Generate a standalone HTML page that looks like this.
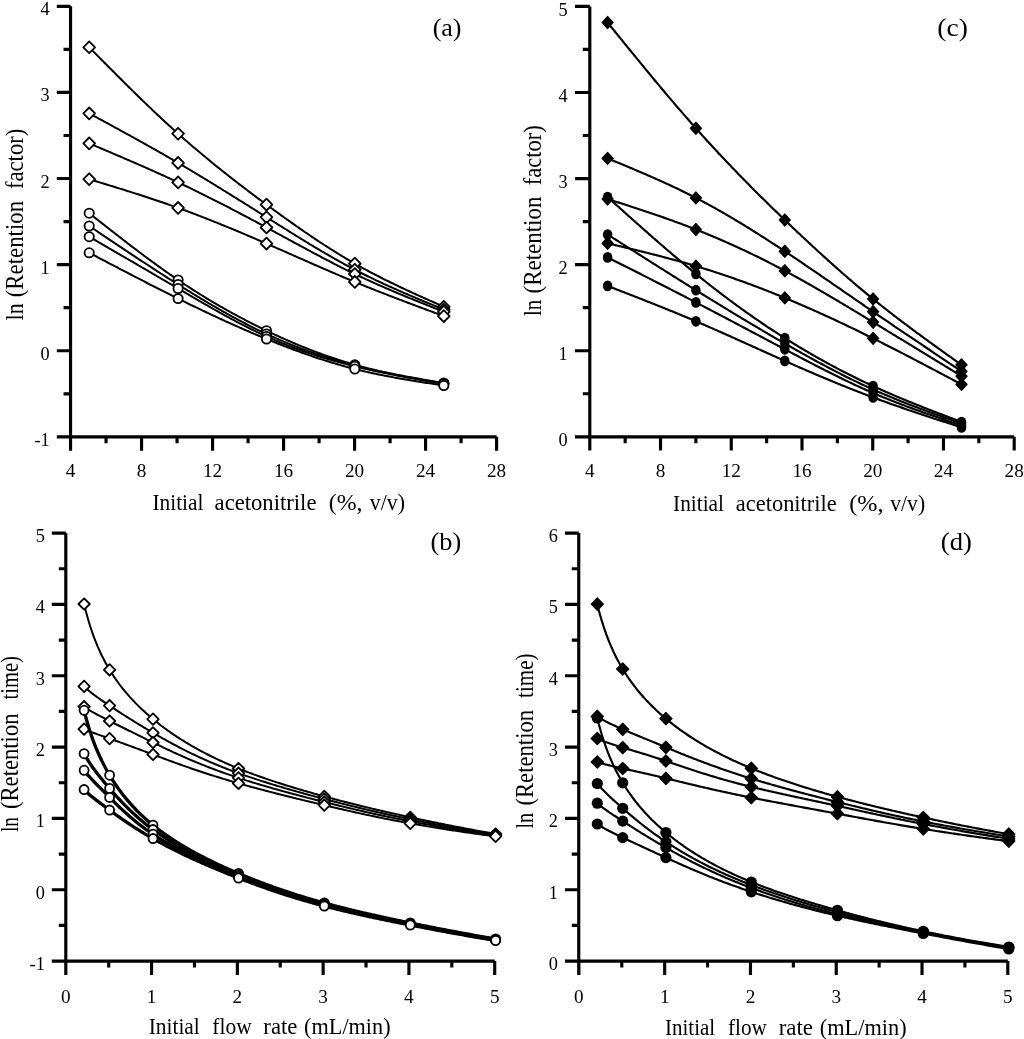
<!DOCTYPE html>
<html><head><meta charset="utf-8"><style>
html,body{margin:0;padding:0;background:#fff;}
svg{display:block;will-change:transform;}
text{font-family:"Liberation Serif", serif;fill:#000;}
</style></head><body>
<svg width="1024" height="1039" viewBox="0 0 1024 1039">
<rect width="1024" height="1039" fill="#fff"/>
<path d="M70.55,6.3V450.65M56.8,436.85H496.6M56.8,6.3H70.55M63.55,49.35H70.55M56.8,92.41H70.55M63.55,135.47H70.55M56.8,178.52H70.55M63.55,221.58H70.55M56.8,264.63H70.55M63.55,307.69H70.55M56.8,350.74H70.55M63.55,393.8H70.55M56.8,436.85H70.55M70.55,436.85V450.65M106.05,436.85V443.35M141.56,436.85V450.65M177.06,436.85V443.35M212.57,436.85V450.65M248.07,436.85V443.35M283.57,436.85V450.65M319.08,436.85V443.35M354.58,436.85V450.65M390.09,436.85V443.35M425.59,436.85V450.65M461.09,436.85V443.35M496.6,436.85V450.65" fill="none" stroke="#000" stroke-width="3.15"/>
<text x="49.65" y="15.3" font-size="18.3" text-anchor="end">4</text>
<text x="49.65" y="101.41" font-size="18.3" text-anchor="end">3</text>
<text x="49.65" y="187.52" font-size="18.3" text-anchor="end">2</text>
<text x="49.65" y="273.63" font-size="18.3" text-anchor="end">1</text>
<text x="49.65" y="359.74" font-size="18.3" text-anchor="end">0</text>
<text x="49.65" y="445.85" font-size="18.3" text-anchor="end">-1</text>
<text x="70.55" y="477.05" font-size="19.2" text-anchor="middle">4</text>
<text x="141.56" y="477.05" font-size="19.2" text-anchor="middle">8</text>
<text x="212.57" y="477.05" font-size="19.2" text-anchor="middle">12</text>
<text x="283.57" y="477.05" font-size="19.2" text-anchor="middle">16</text>
<text x="354.58" y="477.05" font-size="19.2" text-anchor="middle">20</text>
<text x="425.59" y="477.05" font-size="19.2" text-anchor="middle">24</text>
<text x="496.6" y="477.05" font-size="19.2" text-anchor="middle">28</text>
<path d="M89.2,47.3 L90.7,48.82 L92.2,50.33 L93.7,51.85 L95.2,53.37 L96.7,54.88 L98.2,56.4 L99.7,57.91 L101.2,59.43 L102.7,60.94 L104.2,62.45 L105.7,63.96 L107.2,65.47 L108.7,66.98 L110.2,68.49 L111.7,69.99 L113.2,71.5 L114.7,73 L116.2,74.5 L117.7,76 L119.2,77.5 L120.7,79 L122.2,80.49 L123.7,81.98 L125.2,83.47 L126.7,84.96 L128.2,86.44 L129.7,87.92 L131.2,89.4 L132.7,90.88 L134.2,92.35 L135.7,93.82 L137.2,95.29 L138.7,96.75 L140.2,98.21 L141.7,99.67 L143.2,101.12 L144.7,102.57 L146.2,104.02 L147.7,105.46 L149.2,106.9 L150.7,108.33 L152.2,109.76 L153.7,111.19 L155.2,112.61 L156.7,114.02 L158.2,115.44 L159.7,116.85 L161.2,118.25 L162.7,119.65 L164.2,121.04 L165.7,122.43 L167.2,123.81 L168.7,125.19 L170.2,126.56 L171.7,127.93 L173.2,129.29 L174.7,130.65 L176.2,132 L177.7,133.34 L179.2,134.68 L180.7,136.01 L182.2,137.34 L183.7,138.66 L185.2,139.98 L186.7,141.29 L188.2,142.59 L189.7,143.89 L191.2,145.18 L192.7,146.47 L194.2,147.75 L195.7,149.03 L197.2,150.3 L198.7,151.57 L200.2,152.83 L201.7,154.09 L203.2,155.34 L204.7,156.59 L206.2,157.83 L207.7,159.07 L209.2,160.3 L210.7,161.53 L212.2,162.75 L213.7,163.97 L215.2,165.19 L216.7,166.4 L218.2,167.6 L219.7,168.81 L221.2,170 L222.7,171.2 L224.2,172.39 L225.7,173.58 L227.2,174.76 L228.7,175.94 L230.2,177.11 L231.7,178.28 L233.2,179.45 L234.7,180.62 L236.2,181.78 L237.7,182.93 L239.2,184.09 L240.7,185.24 L242.2,186.39 L243.7,187.53 L245.2,188.67 L246.7,189.81 L248.2,190.95 L249.7,192.08 L251.2,193.21 L252.7,194.34 L254.2,195.47 L255.7,196.59 L257.2,197.71 L258.7,198.83 L260.2,199.94 L261.7,201.05 L263.2,202.16 L264.7,203.27 L266.2,204.38 L267.7,205.48 L269.2,206.59 L270.7,207.69 L272.2,208.78 L273.7,209.88 L275.2,210.97 L276.7,212.06 L278.2,213.15 L279.7,214.24 L281.2,215.32 L282.7,216.4 L284.2,217.48 L285.7,218.55 L287.2,219.63 L288.7,220.69 L290.2,221.76 L291.7,222.82 L293.2,223.88 L294.7,224.94 L296.2,225.99 L297.7,227.04 L299.2,228.08 L300.7,229.12 L302.2,230.16 L303.7,231.2 L305.2,232.23 L306.7,233.25 L308.2,234.27 L309.7,235.29 L311.2,236.3 L312.7,237.31 L314.2,238.32 L315.7,239.32 L317.2,240.32 L318.7,241.31 L320.2,242.3 L321.7,243.28 L323.2,244.26 L324.7,245.23 L326.2,246.2 L327.7,247.16 L329.2,248.12 L330.7,249.07 L332.2,250.02 L333.7,250.96 L335.2,251.89 L336.7,252.82 L338.2,253.75 L339.7,254.67 L341.2,255.58 L342.7,256.49 L344.2,257.4 L345.7,258.29 L347.2,259.18 L348.7,260.07 L350.2,260.95 L351.7,261.82 L353.2,262.68 L354.7,263.54 L356.2,264.4 L357.7,265.24 L359.2,266.08 L360.7,266.92 L362.2,267.75 L363.7,268.57 L365.2,269.38 L366.7,270.2 L368.2,271 L369.7,271.8 L371.2,272.59 L372.7,273.38 L374.2,274.17 L375.7,274.95 L377.2,275.72 L378.7,276.49 L380.2,277.25 L381.7,278.01 L383.2,278.77 L384.7,279.52 L386.2,280.27 L387.7,281.01 L389.2,281.75 L390.7,282.48 L392.2,283.21 L393.7,283.94 L395.2,284.66 L396.7,285.38 L398.2,286.1 L399.7,286.81 L401.2,287.52 L402.7,288.23 L404.2,288.93 L405.7,289.63 L407.2,290.33 L408.7,291.02 L410.2,291.72 L411.7,292.41 L413.2,293.1 L414.7,293.78 L416.2,294.47 L417.7,295.15 L419.2,295.83 L420.7,296.5 L422.2,297.18 L423.7,297.86 L425.2,298.53 L426.7,299.2 L428.2,299.87 L429.7,300.54 L431.2,301.21 L432.7,301.88 L434.2,302.54 L435.7,303.21 L437.2,303.88 L438.7,304.54 L440.2,305.21 L441.7,305.87 L443.2,306.53 L443.8,306.8" fill="none" stroke="#000" stroke-width="2.0" stroke-linejoin="round"/>
<path d="M89.2,41.4L95.05,47.3L89.2,53.2L83.35,47.3Z" fill="#fff" stroke="#000" stroke-width="1.8" stroke-linejoin="round"/>
<path d="M178.1,127.8L183.95,133.7L178.1,139.6L172.25,133.7Z" fill="#fff" stroke="#000" stroke-width="1.8" stroke-linejoin="round"/>
<path d="M266.5,198.7L272.35,204.6L266.5,210.5L260.65,204.6Z" fill="#fff" stroke="#000" stroke-width="1.8" stroke-linejoin="round"/>
<path d="M354.8,257.7L360.65,263.6L354.8,269.5L348.95,263.6Z" fill="#fff" stroke="#000" stroke-width="1.8" stroke-linejoin="round"/>
<path d="M443.8,300.9L449.65,306.8L443.8,312.7L437.95,306.8Z" fill="#fff" stroke="#000" stroke-width="1.8" stroke-linejoin="round"/>
<path d="M89.2,113.4 L90.7,114.21 L92.2,115.03 L93.7,115.84 L95.2,116.66 L96.7,117.47 L98.2,118.28 L99.7,119.1 L101.2,119.91 L102.7,120.73 L104.2,121.54 L105.7,122.36 L107.2,123.18 L108.7,123.99 L110.2,124.81 L111.7,125.63 L113.2,126.45 L114.7,127.27 L116.2,128.09 L117.7,128.91 L119.2,129.73 L120.7,130.55 L122.2,131.37 L123.7,132.19 L125.2,133.02 L126.7,133.84 L128.2,134.67 L129.7,135.49 L131.2,136.32 L132.7,137.15 L134.2,137.98 L135.7,138.81 L137.2,139.64 L138.7,140.48 L140.2,141.31 L141.7,142.15 L143.2,142.98 L144.7,143.82 L146.2,144.66 L147.7,145.5 L149.2,146.34 L150.7,147.19 L152.2,148.03 L153.7,148.88 L155.2,149.73 L156.7,150.58 L158.2,151.43 L159.7,152.28 L161.2,153.14 L162.7,153.99 L164.2,154.85 L165.7,155.71 L167.2,156.58 L168.7,157.44 L170.2,158.31 L171.7,159.17 L173.2,160.04 L174.7,160.92 L176.2,161.79 L177.7,162.67 L179.2,163.54 L180.7,164.42 L182.2,165.31 L183.7,166.19 L185.2,167.08 L186.7,167.97 L188.2,168.86 L189.7,169.75 L191.2,170.64 L192.7,171.54 L194.2,172.44 L195.7,173.34 L197.2,174.24 L198.7,175.14 L200.2,176.05 L201.7,176.96 L203.2,177.86 L204.7,178.77 L206.2,179.69 L207.7,180.6 L209.2,181.51 L210.7,182.43 L212.2,183.35 L213.7,184.26 L215.2,185.18 L216.7,186.11 L218.2,187.03 L219.7,187.95 L221.2,188.88 L222.7,189.8 L224.2,190.73 L225.7,191.66 L227.2,192.59 L228.7,193.52 L230.2,194.45 L231.7,195.38 L233.2,196.32 L234.7,197.25 L236.2,198.18 L237.7,199.12 L239.2,200.06 L240.7,200.99 L242.2,201.93 L243.7,202.87 L245.2,203.81 L246.7,204.75 L248.2,205.69 L249.7,206.63 L251.2,207.57 L252.7,208.52 L254.2,209.46 L255.7,210.4 L257.2,211.35 L258.7,212.29 L260.2,213.23 L261.7,214.18 L263.2,215.12 L264.7,216.07 L266.2,217.01 L267.7,217.96 L269.2,218.9 L270.7,219.85 L272.2,220.79 L273.7,221.73 L275.2,222.68 L276.7,223.62 L278.2,224.57 L279.7,225.51 L281.2,226.45 L282.7,227.39 L284.2,228.33 L285.7,229.27 L287.2,230.21 L288.7,231.14 L290.2,232.08 L291.7,233.01 L293.2,233.95 L294.7,234.88 L296.2,235.81 L297.7,236.73 L299.2,237.66 L300.7,238.58 L302.2,239.5 L303.7,240.42 L305.2,241.34 L306.7,242.25 L308.2,243.16 L309.7,244.07 L311.2,244.98 L312.7,245.88 L314.2,246.78 L315.7,247.68 L317.2,248.57 L318.7,249.47 L320.2,250.35 L321.7,251.24 L323.2,252.12 L324.7,253 L326.2,253.87 L327.7,254.74 L329.2,255.61 L330.7,256.47 L332.2,257.33 L333.7,258.18 L335.2,259.03 L336.7,259.88 L338.2,260.72 L339.7,261.56 L341.2,262.39 L342.7,263.21 L344.2,264.04 L345.7,264.85 L347.2,265.67 L348.7,266.47 L350.2,267.27 L351.7,268.07 L353.2,268.86 L354.7,269.65 L356.2,270.43 L357.7,271.2 L359.2,271.97 L360.7,272.73 L362.2,273.49 L363.7,274.25 L365.2,274.99 L366.7,275.74 L368.2,276.48 L369.7,277.21 L371.2,277.94 L372.7,278.66 L374.2,279.38 L375.7,280.1 L377.2,280.81 L378.7,281.51 L380.2,282.22 L381.7,282.91 L383.2,283.61 L384.7,284.3 L386.2,284.99 L387.7,285.67 L389.2,286.35 L390.7,287.03 L392.2,287.7 L393.7,288.37 L395.2,289.03 L396.7,289.7 L398.2,290.36 L399.7,291.02 L401.2,291.67 L402.7,292.32 L404.2,292.97 L405.7,293.62 L407.2,294.26 L408.7,294.91 L410.2,295.55 L411.7,296.18 L413.2,296.82 L414.7,297.45 L416.2,298.09 L417.7,298.72 L419.2,299.34 L420.7,299.97 L422.2,300.6 L423.7,301.22 L425.2,301.84 L426.7,302.47 L428.2,303.09 L429.7,303.71 L431.2,304.32 L432.7,304.94 L434.2,305.56 L435.7,306.18 L437.2,306.79 L438.7,307.41 L440.2,308.02 L441.7,308.64 L443.2,309.25 L443.8,309.5" fill="none" stroke="#000" stroke-width="2.0" stroke-linejoin="round"/>
<path d="M89.2,107.5L95.05,113.4L89.2,119.3L83.35,113.4Z" fill="#fff" stroke="#000" stroke-width="1.8" stroke-linejoin="round"/>
<path d="M178.1,157L183.95,162.9L178.1,168.8L172.25,162.9Z" fill="#fff" stroke="#000" stroke-width="1.8" stroke-linejoin="round"/>
<path d="M266.5,211.3L272.35,217.2L266.5,223.1L260.65,217.2Z" fill="#fff" stroke="#000" stroke-width="1.8" stroke-linejoin="round"/>
<path d="M354.8,263.8L360.65,269.7L354.8,275.6L348.95,269.7Z" fill="#fff" stroke="#000" stroke-width="1.8" stroke-linejoin="round"/>
<path d="M443.8,303.6L449.65,309.5L443.8,315.4L437.95,309.5Z" fill="#fff" stroke="#000" stroke-width="1.8" stroke-linejoin="round"/>
<path d="M89.2,143.4 L90.7,144.03 L92.2,144.67 L93.7,145.3 L95.2,145.94 L96.7,146.57 L98.2,147.2 L99.7,147.84 L101.2,148.47 L102.7,149.11 L104.2,149.74 L105.7,150.38 L107.2,151.02 L108.7,151.65 L110.2,152.29 L111.7,152.93 L113.2,153.57 L114.7,154.21 L116.2,154.85 L117.7,155.49 L119.2,156.13 L120.7,156.77 L122.2,157.42 L123.7,158.06 L125.2,158.71 L126.7,159.35 L128.2,160 L129.7,160.65 L131.2,161.3 L132.7,161.95 L134.2,162.6 L135.7,163.25 L137.2,163.91 L138.7,164.56 L140.2,165.22 L141.7,165.88 L143.2,166.54 L144.7,167.2 L146.2,167.86 L147.7,168.53 L149.2,169.19 L150.7,169.86 L152.2,170.53 L153.7,171.2 L155.2,171.87 L156.7,172.55 L158.2,173.23 L159.7,173.9 L161.2,174.58 L162.7,175.27 L164.2,175.95 L165.7,176.64 L167.2,177.33 L168.7,178.02 L170.2,178.71 L171.7,179.41 L173.2,180.1 L174.7,180.8 L176.2,181.51 L177.7,182.21 L179.2,182.92 L180.7,183.63 L182.2,184.34 L183.7,185.06 L185.2,185.77 L186.7,186.49 L188.2,187.21 L189.7,187.94 L191.2,188.66 L192.7,189.39 L194.2,190.12 L195.7,190.85 L197.2,191.59 L198.7,192.33 L200.2,193.07 L201.7,193.81 L203.2,194.55 L204.7,195.3 L206.2,196.04 L207.7,196.79 L209.2,197.54 L210.7,198.3 L212.2,199.05 L213.7,199.81 L215.2,200.57 L216.7,201.33 L218.2,202.09 L219.7,202.86 L221.2,203.63 L222.7,204.39 L224.2,205.16 L225.7,205.94 L227.2,206.71 L228.7,207.48 L230.2,208.26 L231.7,209.04 L233.2,209.82 L234.7,210.6 L236.2,211.38 L237.7,212.17 L239.2,212.96 L240.7,213.74 L242.2,214.53 L243.7,215.32 L245.2,216.11 L246.7,216.91 L248.2,217.7 L249.7,218.5 L251.2,219.3 L252.7,220.1 L254.2,220.9 L255.7,221.7 L257.2,222.5 L258.7,223.3 L260.2,224.11 L261.7,224.91 L263.2,225.72 L264.7,226.53 L266.2,227.34 L267.7,228.15 L269.2,228.96 L270.7,229.77 L272.2,230.58 L273.7,231.4 L275.2,232.21 L276.7,233.03 L278.2,233.84 L279.7,234.66 L281.2,235.47 L282.7,236.29 L284.2,237.11 L285.7,237.92 L287.2,238.74 L288.7,239.56 L290.2,240.37 L291.7,241.19 L293.2,242 L294.7,242.82 L296.2,243.63 L297.7,244.44 L299.2,245.25 L300.7,246.07 L302.2,246.88 L303.7,247.69 L305.2,248.49 L306.7,249.3 L308.2,250.11 L309.7,250.91 L311.2,251.71 L312.7,252.52 L314.2,253.31 L315.7,254.11 L317.2,254.91 L318.7,255.7 L320.2,256.49 L321.7,257.28 L323.2,258.07 L324.7,258.86 L326.2,259.64 L327.7,260.42 L329.2,261.2 L330.7,261.98 L332.2,262.75 L333.7,263.52 L335.2,264.28 L336.7,265.05 L338.2,265.81 L339.7,266.57 L341.2,267.32 L342.7,268.07 L344.2,268.82 L345.7,269.57 L347.2,270.31 L348.7,271.04 L350.2,271.78 L351.7,272.51 L353.2,273.23 L354.7,273.95 L356.2,274.67 L357.7,275.38 L359.2,276.09 L360.7,276.8 L362.2,277.5 L363.7,278.2 L365.2,278.89 L366.7,279.58 L368.2,280.27 L369.7,280.95 L371.2,281.63 L372.7,282.3 L374.2,282.98 L375.7,283.65 L377.2,284.31 L378.7,284.98 L380.2,285.64 L381.7,286.29 L383.2,286.95 L384.7,287.6 L386.2,288.25 L387.7,288.9 L389.2,289.54 L390.7,290.18 L392.2,290.82 L393.7,291.46 L395.2,292.09 L396.7,292.72 L398.2,293.35 L399.7,293.98 L401.2,294.6 L402.7,295.23 L404.2,295.85 L405.7,296.47 L407.2,297.09 L408.7,297.7 L410.2,298.32 L411.7,298.93 L413.2,299.54 L414.7,300.15 L416.2,300.76 L417.7,301.37 L419.2,301.97 L420.7,302.58 L422.2,303.18 L423.7,303.78 L425.2,304.39 L426.7,304.99 L428.2,305.59 L429.7,306.19 L431.2,306.79 L432.7,307.38 L434.2,307.98 L435.7,308.58 L437.2,309.18 L438.7,309.77 L440.2,310.37 L441.7,310.97 L443.2,311.56 L443.8,311.8" fill="none" stroke="#000" stroke-width="2.0" stroke-linejoin="round"/>
<path d="M89.2,137.5L95.05,143.4L89.2,149.3L83.35,143.4Z" fill="#fff" stroke="#000" stroke-width="1.8" stroke-linejoin="round"/>
<path d="M178.1,176.5L183.95,182.4L178.1,188.3L172.25,182.4Z" fill="#fff" stroke="#000" stroke-width="1.8" stroke-linejoin="round"/>
<path d="M266.5,221.6L272.35,227.5L266.5,233.4L260.65,227.5Z" fill="#fff" stroke="#000" stroke-width="1.8" stroke-linejoin="round"/>
<path d="M354.8,268.1L360.65,274L354.8,279.9L348.95,274Z" fill="#fff" stroke="#000" stroke-width="1.8" stroke-linejoin="round"/>
<path d="M443.8,305.9L449.65,311.8L443.8,317.7L437.95,311.8Z" fill="#fff" stroke="#000" stroke-width="1.8" stroke-linejoin="round"/>
<path d="M89.2,179.2 L90.7,179.66 L92.2,180.11 L93.7,180.57 L95.2,181.03 L96.7,181.48 L98.2,181.94 L99.7,182.4 L101.2,182.85 L102.7,183.31 L104.2,183.77 L105.7,184.23 L107.2,184.69 L108.7,185.15 L110.2,185.61 L111.7,186.07 L113.2,186.53 L114.7,186.99 L116.2,187.46 L117.7,187.92 L119.2,188.39 L120.7,188.85 L122.2,189.32 L123.7,189.79 L125.2,190.26 L126.7,190.73 L128.2,191.2 L129.7,191.67 L131.2,192.15 L132.7,192.62 L134.2,193.1 L135.7,193.58 L137.2,194.06 L138.7,194.54 L140.2,195.02 L141.7,195.51 L143.2,195.99 L144.7,196.48 L146.2,196.97 L147.7,197.46 L149.2,197.96 L150.7,198.45 L152.2,198.95 L153.7,199.45 L155.2,199.95 L156.7,200.46 L158.2,200.96 L159.7,201.47 L161.2,201.98 L162.7,202.49 L164.2,203.01 L165.7,203.52 L167.2,204.04 L168.7,204.57 L170.2,205.09 L171.7,205.62 L173.2,206.15 L174.7,206.68 L176.2,207.22 L177.7,207.76 L179.2,208.3 L180.7,208.84 L182.2,209.39 L183.7,209.94 L185.2,210.49 L186.7,211.04 L188.2,211.6 L189.7,212.16 L191.2,212.72 L192.7,213.29 L194.2,213.86 L195.7,214.43 L197.2,215 L198.7,215.58 L200.2,216.15 L201.7,216.73 L203.2,217.32 L204.7,217.9 L206.2,218.49 L207.7,219.08 L209.2,219.67 L210.7,220.26 L212.2,220.86 L213.7,221.46 L215.2,222.06 L216.7,222.66 L218.2,223.26 L219.7,223.87 L221.2,224.48 L222.7,225.09 L224.2,225.7 L225.7,226.31 L227.2,226.93 L228.7,227.55 L230.2,228.16 L231.7,228.79 L233.2,229.41 L234.7,230.03 L236.2,230.66 L237.7,231.29 L239.2,231.91 L240.7,232.54 L242.2,233.18 L243.7,233.81 L245.2,234.45 L246.7,235.08 L248.2,235.72 L249.7,236.36 L251.2,237 L252.7,237.64 L254.2,238.28 L255.7,238.93 L257.2,239.57 L258.7,240.22 L260.2,240.87 L261.7,241.52 L263.2,242.17 L264.7,242.82 L266.2,243.47 L267.7,244.12 L269.2,244.78 L270.7,245.43 L272.2,246.09 L273.7,246.74 L275.2,247.4 L276.7,248.06 L278.2,248.72 L279.7,249.37 L281.2,250.03 L282.7,250.69 L284.2,251.35 L285.7,252.01 L287.2,252.67 L288.7,253.34 L290.2,254 L291.7,254.66 L293.2,255.32 L294.7,255.98 L296.2,256.64 L297.7,257.3 L299.2,257.96 L300.7,258.63 L302.2,259.29 L303.7,259.95 L305.2,260.61 L306.7,261.27 L308.2,261.93 L309.7,262.58 L311.2,263.24 L312.7,263.9 L314.2,264.56 L315.7,265.21 L317.2,265.87 L318.7,266.52 L320.2,267.18 L321.7,267.83 L323.2,268.48 L324.7,269.13 L326.2,269.78 L327.7,270.43 L329.2,271.08 L330.7,271.73 L332.2,272.37 L333.7,273.02 L335.2,273.66 L336.7,274.3 L338.2,274.94 L339.7,275.58 L341.2,276.21 L342.7,276.85 L344.2,277.48 L345.7,278.11 L347.2,278.74 L348.7,279.37 L350.2,279.99 L351.7,280.62 L353.2,281.24 L354.7,281.86 L356.2,282.48 L357.7,283.09 L359.2,283.7 L360.7,284.32 L362.2,284.93 L363.7,285.53 L365.2,286.14 L366.7,286.74 L368.2,287.34 L369.7,287.94 L371.2,288.54 L372.7,289.14 L374.2,289.73 L375.7,290.33 L377.2,290.92 L378.7,291.51 L380.2,292.1 L381.7,292.68 L383.2,293.27 L384.7,293.85 L386.2,294.43 L387.7,295.02 L389.2,295.6 L390.7,296.17 L392.2,296.75 L393.7,297.33 L395.2,297.9 L396.7,298.48 L398.2,299.05 L399.7,299.62 L401.2,300.19 L402.7,300.76 L404.2,301.33 L405.7,301.89 L407.2,302.46 L408.7,303.03 L410.2,303.59 L411.7,304.16 L413.2,304.72 L414.7,305.28 L416.2,305.84 L417.7,306.4 L419.2,306.96 L420.7,307.52 L422.2,308.08 L423.7,308.64 L425.2,309.2 L426.7,309.76 L428.2,310.32 L429.7,310.87 L431.2,311.43 L432.7,311.99 L434.2,312.54 L435.7,313.1 L437.2,313.66 L438.7,314.21 L440.2,314.77 L441.7,315.32 L443.2,315.88 L443.8,316.1" fill="none" stroke="#000" stroke-width="2.0" stroke-linejoin="round"/>
<path d="M89.2,173.3L95.05,179.2L89.2,185.1L83.35,179.2Z" fill="#fff" stroke="#000" stroke-width="1.8" stroke-linejoin="round"/>
<path d="M178.1,202L183.95,207.9L178.1,213.8L172.25,207.9Z" fill="#fff" stroke="#000" stroke-width="1.8" stroke-linejoin="round"/>
<path d="M266.5,237.7L272.35,243.6L266.5,249.5L260.65,243.6Z" fill="#fff" stroke="#000" stroke-width="1.8" stroke-linejoin="round"/>
<path d="M354.8,276L360.65,281.9L354.8,287.8L348.95,281.9Z" fill="#fff" stroke="#000" stroke-width="1.8" stroke-linejoin="round"/>
<path d="M443.8,310.2L449.65,316.1L443.8,322L437.95,316.1Z" fill="#fff" stroke="#000" stroke-width="1.8" stroke-linejoin="round"/>
<path d="M89.2,213.2 L90.7,214.38 L92.2,215.57 L93.7,216.75 L95.2,217.93 L96.7,219.12 L98.2,220.3 L99.7,221.48 L101.2,222.66 L102.7,223.84 L104.2,225.02 L105.7,226.2 L107.2,227.37 L108.7,228.55 L110.2,229.72 L111.7,230.9 L113.2,232.07 L114.7,233.24 L116.2,234.41 L117.7,235.58 L119.2,236.74 L120.7,237.9 L122.2,239.07 L123.7,240.23 L125.2,241.38 L126.7,242.54 L128.2,243.69 L129.7,244.84 L131.2,245.99 L132.7,247.13 L134.2,248.27 L135.7,249.41 L137.2,250.55 L138.7,251.68 L140.2,252.81 L141.7,253.93 L143.2,255.06 L144.7,256.18 L146.2,257.29 L147.7,258.4 L149.2,259.51 L150.7,260.62 L152.2,261.72 L153.7,262.81 L155.2,263.91 L156.7,264.99 L158.2,266.08 L159.7,267.16 L161.2,268.23 L162.7,269.3 L164.2,270.37 L165.7,271.43 L167.2,272.48 L168.7,273.54 L170.2,274.58 L171.7,275.62 L173.2,276.66 L174.7,277.69 L176.2,278.71 L177.7,279.73 L179.2,280.74 L180.7,281.75 L182.2,282.75 L183.7,283.75 L185.2,284.74 L186.7,285.72 L188.2,286.7 L189.7,287.68 L191.2,288.64 L192.7,289.61 L194.2,290.56 L195.7,291.52 L197.2,292.46 L198.7,293.4 L200.2,294.34 L201.7,295.27 L203.2,296.19 L204.7,297.11 L206.2,298.03 L207.7,298.94 L209.2,299.84 L210.7,300.74 L212.2,301.63 L213.7,302.52 L215.2,303.4 L216.7,304.28 L218.2,305.15 L219.7,306.02 L221.2,306.89 L222.7,307.74 L224.2,308.6 L225.7,309.44 L227.2,310.29 L228.7,311.13 L230.2,311.96 L231.7,312.79 L233.2,313.61 L234.7,314.43 L236.2,315.24 L237.7,316.05 L239.2,316.86 L240.7,317.66 L242.2,318.45 L243.7,319.24 L245.2,320.03 L246.7,320.81 L248.2,321.59 L249.7,322.36 L251.2,323.13 L252.7,323.89 L254.2,324.65 L255.7,325.4 L257.2,326.15 L258.7,326.9 L260.2,327.64 L261.7,328.37 L263.2,329.1 L264.7,329.83 L266.2,330.56 L267.7,331.27 L269.2,331.99 L270.7,332.7 L272.2,333.41 L273.7,334.11 L275.2,334.81 L276.7,335.5 L278.2,336.19 L279.7,336.87 L281.2,337.55 L282.7,338.23 L284.2,338.9 L285.7,339.56 L287.2,340.22 L288.7,340.88 L290.2,341.53 L291.7,342.18 L293.2,342.82 L294.7,343.46 L296.2,344.09 L297.7,344.72 L299.2,345.34 L300.7,345.96 L302.2,346.58 L303.7,347.19 L305.2,347.79 L306.7,348.39 L308.2,348.98 L309.7,349.57 L311.2,350.16 L312.7,350.73 L314.2,351.31 L315.7,351.88 L317.2,352.44 L318.7,353 L320.2,353.55 L321.7,354.1 L323.2,354.64 L324.7,355.18 L326.2,355.71 L327.7,356.24 L329.2,356.76 L330.7,357.27 L332.2,357.78 L333.7,358.29 L335.2,358.79 L336.7,359.28 L338.2,359.77 L339.7,360.25 L341.2,360.73 L342.7,361.2 L344.2,361.67 L345.7,362.13 L347.2,362.58 L348.7,363.03 L350.2,363.48 L351.7,363.91 L353.2,364.35 L354.7,364.77 L356.2,365.19 L357.7,365.61 L359.2,366.01 L360.7,366.42 L362.2,366.82 L363.7,367.21 L365.2,367.59 L366.7,367.98 L368.2,368.35 L369.7,368.72 L371.2,369.09 L372.7,369.45 L374.2,369.81 L375.7,370.16 L377.2,370.51 L378.7,370.86 L380.2,371.2 L381.7,371.53 L383.2,371.86 L384.7,372.19 L386.2,372.51 L387.7,372.83 L389.2,373.15 L390.7,373.46 L392.2,373.77 L393.7,374.08 L395.2,374.38 L396.7,374.68 L398.2,374.97 L399.7,375.27 L401.2,375.56 L402.7,375.84 L404.2,376.13 L405.7,376.41 L407.2,376.69 L408.7,376.97 L410.2,377.24 L411.7,377.51 L413.2,377.78 L414.7,378.05 L416.2,378.32 L417.7,378.58 L419.2,378.85 L420.7,379.11 L422.2,379.37 L423.7,379.63 L425.2,379.88 L426.7,380.14 L428.2,380.39 L429.7,380.65 L431.2,380.9 L432.7,381.15 L434.2,381.4 L435.7,381.65 L437.2,381.9 L438.7,382.15 L440.2,382.4 L441.7,382.65 L443.2,382.9 L443.8,383" fill="none" stroke="#000" stroke-width="2.0" stroke-linejoin="round"/>
<ellipse cx="89.2" cy="213.2" rx="4.65" ry="4.6" fill="#fff" stroke="#000" stroke-width="1.8"/>
<ellipse cx="178.1" cy="280" rx="4.65" ry="4.6" fill="#fff" stroke="#000" stroke-width="1.8"/>
<ellipse cx="266.5" cy="330.7" rx="4.65" ry="4.6" fill="#fff" stroke="#000" stroke-width="1.8"/>
<ellipse cx="354.8" cy="364.8" rx="4.65" ry="4.6" fill="#fff" stroke="#000" stroke-width="1.8"/>
<ellipse cx="443.8" cy="383" rx="4.65" ry="4.6" fill="#fff" stroke="#000" stroke-width="1.8"/>
<path d="M89.2,226 L90.7,227.01 L92.2,228.02 L93.7,229.03 L95.2,230.04 L96.7,231.04 L98.2,232.05 L99.7,233.06 L101.2,234.07 L102.7,235.08 L104.2,236.08 L105.7,237.09 L107.2,238.1 L108.7,239.1 L110.2,240.11 L111.7,241.11 L113.2,242.12 L114.7,243.12 L116.2,244.12 L117.7,245.13 L119.2,246.13 L120.7,247.13 L122.2,248.13 L123.7,249.13 L125.2,250.13 L126.7,251.12 L128.2,252.12 L129.7,253.12 L131.2,254.11 L132.7,255.11 L134.2,256.1 L135.7,257.09 L137.2,258.08 L138.7,259.07 L140.2,260.06 L141.7,261.04 L143.2,262.03 L144.7,263.01 L146.2,264 L147.7,264.98 L149.2,265.96 L150.7,266.94 L152.2,267.91 L153.7,268.89 L155.2,269.86 L156.7,270.83 L158.2,271.8 L159.7,272.77 L161.2,273.74 L162.7,274.7 L164.2,275.67 L165.7,276.63 L167.2,277.59 L168.7,278.55 L170.2,279.5 L171.7,280.46 L173.2,281.41 L174.7,282.36 L176.2,283.3 L177.7,284.25 L179.2,285.19 L180.7,286.13 L182.2,287.07 L183.7,288.01 L185.2,288.94 L186.7,289.87 L188.2,290.8 L189.7,291.72 L191.2,292.65 L192.7,293.57 L194.2,294.49 L195.7,295.4 L197.2,296.31 L198.7,297.22 L200.2,298.12 L201.7,299.03 L203.2,299.93 L204.7,300.82 L206.2,301.71 L207.7,302.6 L209.2,303.49 L210.7,304.37 L212.2,305.25 L213.7,306.12 L215.2,306.99 L216.7,307.86 L218.2,308.72 L219.7,309.58 L221.2,310.43 L222.7,311.28 L224.2,312.13 L225.7,312.97 L227.2,313.81 L228.7,314.64 L230.2,315.47 L231.7,316.3 L233.2,317.12 L234.7,317.93 L236.2,318.74 L237.7,319.55 L239.2,320.35 L240.7,321.15 L242.2,321.94 L243.7,322.72 L245.2,323.5 L246.7,324.28 L248.2,325.05 L249.7,325.81 L251.2,326.57 L252.7,327.33 L254.2,328.08 L255.7,328.82 L257.2,329.56 L258.7,330.29 L260.2,331.02 L261.7,331.74 L263.2,332.45 L264.7,333.16 L266.2,333.86 L267.7,334.56 L269.2,335.25 L270.7,335.93 L272.2,336.61 L273.7,337.28 L275.2,337.95 L276.7,338.61 L278.2,339.26 L279.7,339.91 L281.2,340.55 L282.7,341.19 L284.2,341.82 L285.7,342.44 L287.2,343.06 L288.7,343.68 L290.2,344.28 L291.7,344.89 L293.2,345.48 L294.7,346.07 L296.2,346.66 L297.7,347.24 L299.2,347.81 L300.7,348.38 L302.2,348.95 L303.7,349.5 L305.2,350.06 L306.7,350.6 L308.2,351.15 L309.7,351.68 L311.2,352.21 L312.7,352.74 L314.2,353.26 L315.7,353.78 L317.2,354.29 L318.7,354.79 L320.2,355.29 L321.7,355.79 L323.2,356.28 L324.7,356.77 L326.2,357.25 L327.7,357.72 L329.2,358.19 L330.7,358.66 L332.2,359.12 L333.7,359.58 L335.2,360.03 L336.7,360.47 L338.2,360.92 L339.7,361.35 L341.2,361.79 L342.7,362.21 L344.2,362.64 L345.7,363.06 L347.2,363.47 L348.7,363.88 L350.2,364.28 L351.7,364.69 L353.2,365.08 L354.7,365.47 L356.2,365.86 L357.7,366.25 L359.2,366.62 L360.7,367 L362.2,367.37 L363.7,367.74 L365.2,368.1 L366.7,368.46 L368.2,368.81 L369.7,369.17 L371.2,369.51 L372.7,369.86 L374.2,370.2 L375.7,370.54 L377.2,370.87 L378.7,371.2 L380.2,371.53 L381.7,371.86 L383.2,372.18 L384.7,372.5 L386.2,372.81 L387.7,373.13 L389.2,373.44 L390.7,373.74 L392.2,374.05 L393.7,374.35 L395.2,374.65 L396.7,374.95 L398.2,375.24 L399.7,375.54 L401.2,375.83 L402.7,376.12 L404.2,376.4 L405.7,376.69 L407.2,376.97 L408.7,377.25 L410.2,377.53 L411.7,377.81 L413.2,378.09 L414.7,378.36 L416.2,378.63 L417.7,378.91 L419.2,379.18 L420.7,379.45 L422.2,379.72 L423.7,379.98 L425.2,380.25 L426.7,380.51 L428.2,380.78 L429.7,381.04 L431.2,381.31 L432.7,381.57 L434.2,381.83 L435.7,382.09 L437.2,382.35 L438.7,382.61 L440.2,382.88 L441.7,383.14 L443.2,383.4 L443.8,383.5" fill="none" stroke="#000" stroke-width="2.0" stroke-linejoin="round"/>
<ellipse cx="89.2" cy="226" rx="4.65" ry="4.6" fill="#fff" stroke="#000" stroke-width="1.8"/>
<ellipse cx="178.1" cy="284.5" rx="4.65" ry="4.6" fill="#fff" stroke="#000" stroke-width="1.8"/>
<ellipse cx="266.5" cy="334" rx="4.65" ry="4.6" fill="#fff" stroke="#000" stroke-width="1.8"/>
<ellipse cx="354.8" cy="365.5" rx="4.65" ry="4.6" fill="#fff" stroke="#000" stroke-width="1.8"/>
<ellipse cx="443.8" cy="383.5" rx="4.65" ry="4.6" fill="#fff" stroke="#000" stroke-width="1.8"/>
<path d="M89.2,236.7 L90.7,237.57 L92.2,238.44 L93.7,239.31 L95.2,240.19 L96.7,241.06 L98.2,241.93 L99.7,242.8 L101.2,243.67 L102.7,244.55 L104.2,245.42 L105.7,246.29 L107.2,247.16 L108.7,248.03 L110.2,248.9 L111.7,249.78 L113.2,250.65 L114.7,251.52 L116.2,252.39 L117.7,253.27 L119.2,254.14 L120.7,255.01 L122.2,255.88 L123.7,256.76 L125.2,257.63 L126.7,258.5 L128.2,259.37 L129.7,260.25 L131.2,261.12 L132.7,261.99 L134.2,262.87 L135.7,263.74 L137.2,264.61 L138.7,265.49 L140.2,266.36 L141.7,267.24 L143.2,268.11 L144.7,268.98 L146.2,269.86 L147.7,270.73 L149.2,271.61 L150.7,272.48 L152.2,273.36 L153.7,274.23 L155.2,275.11 L156.7,275.99 L158.2,276.86 L159.7,277.74 L161.2,278.61 L162.7,279.49 L164.2,280.37 L165.7,281.24 L167.2,282.12 L168.7,283 L170.2,283.87 L171.7,284.75 L173.2,285.63 L174.7,286.51 L176.2,287.39 L177.7,288.27 L179.2,289.14 L180.7,290.02 L182.2,290.9 L183.7,291.78 L185.2,292.66 L186.7,293.54 L188.2,294.42 L189.7,295.29 L191.2,296.17 L192.7,297.05 L194.2,297.92 L195.7,298.79 L197.2,299.67 L198.7,300.54 L200.2,301.41 L201.7,302.28 L203.2,303.14 L204.7,304.01 L206.2,304.87 L207.7,305.73 L209.2,306.59 L210.7,307.44 L212.2,308.3 L213.7,309.15 L215.2,310 L216.7,310.84 L218.2,311.69 L219.7,312.53 L221.2,313.36 L222.7,314.2 L224.2,315.03 L225.7,315.85 L227.2,316.67 L228.7,317.49 L230.2,318.31 L231.7,319.12 L233.2,319.92 L234.7,320.73 L236.2,321.52 L237.7,322.32 L239.2,323.11 L240.7,323.89 L242.2,324.67 L243.7,325.44 L245.2,326.21 L246.7,326.98 L248.2,327.73 L249.7,328.49 L251.2,329.23 L252.7,329.97 L254.2,330.71 L255.7,331.44 L257.2,332.16 L258.7,332.88 L260.2,333.59 L261.7,334.29 L263.2,334.99 L264.7,335.68 L266.2,336.36 L267.7,337.04 L269.2,337.71 L270.7,338.37 L272.2,339.03 L273.7,339.68 L275.2,340.32 L276.7,340.96 L278.2,341.59 L279.7,342.21 L281.2,342.82 L282.7,343.43 L284.2,344.04 L285.7,344.63 L287.2,345.22 L288.7,345.81 L290.2,346.39 L291.7,346.96 L293.2,347.52 L294.7,348.08 L296.2,348.64 L297.7,349.19 L299.2,349.73 L300.7,350.27 L302.2,350.8 L303.7,351.32 L305.2,351.84 L306.7,352.36 L308.2,352.87 L309.7,353.37 L311.2,353.87 L312.7,354.36 L314.2,354.85 L315.7,355.33 L317.2,355.81 L318.7,356.28 L320.2,356.75 L321.7,357.21 L323.2,357.67 L324.7,358.12 L326.2,358.57 L327.7,359.02 L329.2,359.46 L330.7,359.89 L332.2,360.32 L333.7,360.75 L335.2,361.17 L336.7,361.58 L338.2,362 L339.7,362.41 L341.2,362.81 L342.7,363.21 L344.2,363.61 L345.7,364 L347.2,364.39 L348.7,364.77 L350.2,365.15 L351.7,365.53 L353.2,365.91 L354.7,366.28 L356.2,366.64 L357.7,367.01 L359.2,367.36 L360.7,367.72 L362.2,368.07 L363.7,368.42 L365.2,368.77 L366.7,369.11 L368.2,369.45 L369.7,369.79 L371.2,370.13 L372.7,370.46 L374.2,370.79 L375.7,371.11 L377.2,371.44 L378.7,371.76 L380.2,372.08 L381.7,372.39 L383.2,372.7 L384.7,373.01 L386.2,373.32 L387.7,373.63 L389.2,373.93 L390.7,374.23 L392.2,374.53 L393.7,374.83 L395.2,375.13 L396.7,375.42 L398.2,375.71 L399.7,376 L401.2,376.29 L402.7,376.58 L404.2,376.86 L405.7,377.15 L407.2,377.43 L408.7,377.71 L410.2,377.99 L411.7,378.27 L413.2,378.54 L414.7,378.82 L416.2,379.09 L417.7,379.36 L419.2,379.64 L420.7,379.91 L422.2,380.18 L423.7,380.45 L425.2,380.71 L426.7,380.98 L428.2,381.25 L429.7,381.52 L431.2,381.78 L432.7,382.05 L434.2,382.31 L435.7,382.58 L437.2,382.84 L438.7,383.1 L440.2,383.37 L441.7,383.63 L443.2,383.89 L443.8,384" fill="none" stroke="#000" stroke-width="2.0" stroke-linejoin="round"/>
<ellipse cx="89.2" cy="236.7" rx="4.65" ry="4.6" fill="#fff" stroke="#000" stroke-width="1.8"/>
<ellipse cx="178.1" cy="288.5" rx="4.65" ry="4.6" fill="#fff" stroke="#000" stroke-width="1.8"/>
<ellipse cx="266.5" cy="336.5" rx="4.65" ry="4.6" fill="#fff" stroke="#000" stroke-width="1.8"/>
<ellipse cx="354.8" cy="366.3" rx="4.65" ry="4.6" fill="#fff" stroke="#000" stroke-width="1.8"/>
<ellipse cx="443.8" cy="384" rx="4.65" ry="4.6" fill="#fff" stroke="#000" stroke-width="1.8"/>
<path d="M89.2,252.8 L90.7,253.59 L92.2,254.38 L93.7,255.16 L95.2,255.95 L96.7,256.74 L98.2,257.53 L99.7,258.31 L101.2,259.1 L102.7,259.89 L104.2,260.67 L105.7,261.46 L107.2,262.25 L108.7,263.03 L110.2,263.82 L111.7,264.6 L113.2,265.39 L114.7,266.17 L116.2,266.95 L117.7,267.74 L119.2,268.52 L120.7,269.3 L122.2,270.08 L123.7,270.87 L125.2,271.65 L126.7,272.43 L128.2,273.21 L129.7,273.99 L131.2,274.76 L132.7,275.54 L134.2,276.32 L135.7,277.09 L137.2,277.87 L138.7,278.64 L140.2,279.42 L141.7,280.19 L143.2,280.96 L144.7,281.73 L146.2,282.5 L147.7,283.27 L149.2,284.04 L150.7,284.8 L152.2,285.57 L153.7,286.33 L155.2,287.1 L156.7,287.86 L158.2,288.62 L159.7,289.38 L161.2,290.14 L162.7,290.9 L164.2,291.65 L165.7,292.41 L167.2,293.16 L168.7,293.92 L170.2,294.67 L171.7,295.42 L173.2,296.17 L174.7,296.91 L176.2,297.66 L177.7,298.4 L179.2,299.14 L180.7,299.89 L182.2,300.62 L183.7,301.36 L185.2,302.1 L186.7,302.83 L188.2,303.57 L189.7,304.3 L191.2,305.03 L192.7,305.76 L194.2,306.48 L195.7,307.21 L197.2,307.93 L198.7,308.65 L200.2,309.37 L201.7,310.09 L203.2,310.8 L204.7,311.51 L206.2,312.23 L207.7,312.94 L209.2,313.64 L210.7,314.35 L212.2,315.05 L213.7,315.75 L215.2,316.45 L216.7,317.15 L218.2,317.85 L219.7,318.54 L221.2,319.23 L222.7,319.92 L224.2,320.61 L225.7,321.29 L227.2,321.98 L228.7,322.66 L230.2,323.33 L231.7,324.01 L233.2,324.68 L234.7,325.36 L236.2,326.02 L237.7,326.69 L239.2,327.36 L240.7,328.02 L242.2,328.68 L243.7,329.33 L245.2,329.99 L246.7,330.64 L248.2,331.29 L249.7,331.94 L251.2,332.58 L252.7,333.22 L254.2,333.86 L255.7,334.5 L257.2,335.13 L258.7,335.76 L260.2,336.39 L261.7,337.02 L263.2,337.64 L264.7,338.26 L266.2,338.88 L267.7,339.49 L269.2,340.1 L270.7,340.71 L272.2,341.32 L273.7,341.92 L275.2,342.52 L276.7,343.12 L278.2,343.71 L279.7,344.3 L281.2,344.89 L282.7,345.48 L284.2,346.06 L285.7,346.63 L287.2,347.21 L288.7,347.78 L290.2,348.35 L291.7,348.91 L293.2,349.47 L294.7,350.03 L296.2,350.58 L297.7,351.13 L299.2,351.68 L300.7,352.22 L302.2,352.76 L303.7,353.3 L305.2,353.83 L306.7,354.36 L308.2,354.88 L309.7,355.4 L311.2,355.92 L312.7,356.43 L314.2,356.94 L315.7,357.44 L317.2,357.94 L318.7,358.44 L320.2,358.93 L321.7,359.42 L323.2,359.9 L324.7,360.38 L326.2,360.85 L327.7,361.32 L329.2,361.79 L330.7,362.25 L332.2,362.7 L333.7,363.15 L335.2,363.6 L336.7,364.04 L338.2,364.48 L339.7,364.91 L341.2,365.34 L342.7,365.77 L344.2,366.18 L345.7,366.6 L347.2,367.01 L348.7,367.41 L350.2,367.81 L351.7,368.2 L353.2,368.59 L354.7,368.97 L356.2,369.35 L357.7,369.73 L359.2,370.09 L360.7,370.46 L362.2,370.82 L363.7,371.17 L365.2,371.52 L366.7,371.86 L368.2,372.2 L369.7,372.54 L371.2,372.87 L372.7,373.2 L374.2,373.52 L375.7,373.84 L377.2,374.15 L378.7,374.46 L380.2,374.77 L381.7,375.07 L383.2,375.37 L384.7,375.67 L386.2,375.96 L387.7,376.25 L389.2,376.54 L390.7,376.82 L392.2,377.1 L393.7,377.38 L395.2,377.65 L396.7,377.93 L398.2,378.19 L399.7,378.46 L401.2,378.72 L402.7,378.98 L404.2,379.24 L405.7,379.5 L407.2,379.75 L408.7,380 L410.2,380.25 L411.7,380.5 L413.2,380.75 L414.7,380.99 L416.2,381.23 L417.7,381.48 L419.2,381.71 L420.7,381.95 L422.2,382.19 L423.7,382.42 L425.2,382.66 L426.7,382.89 L428.2,383.12 L429.7,383.36 L431.2,383.59 L432.7,383.82 L434.2,384.04 L435.7,384.27 L437.2,384.5 L438.7,384.73 L440.2,384.96 L441.7,385.18 L443.2,385.41 L443.8,385.5" fill="none" stroke="#000" stroke-width="2.0" stroke-linejoin="round"/>
<ellipse cx="89.2" cy="252.8" rx="4.65" ry="4.6" fill="#fff" stroke="#000" stroke-width="1.8"/>
<ellipse cx="178.1" cy="298.6" rx="4.65" ry="4.6" fill="#fff" stroke="#000" stroke-width="1.8"/>
<ellipse cx="266.5" cy="339" rx="4.65" ry="4.6" fill="#fff" stroke="#000" stroke-width="1.8"/>
<ellipse cx="354.8" cy="369" rx="4.65" ry="4.6" fill="#fff" stroke="#000" stroke-width="1.8"/>
<ellipse cx="443.8" cy="385.5" rx="4.65" ry="4.6" fill="#fff" stroke="#000" stroke-width="1.8"/>
<path d="M589.8,6.4V450.6M575,436.8H1014.19M575,6.4H589.8M582.8,49.44H589.8M575,92.48H589.8M582.8,135.52H589.8M575,178.56H589.8M582.8,221.6H589.8M575,264.64H589.8M582.8,307.68H589.8M575,350.72H589.8M582.8,393.76H589.8M575,436.8H589.8M589.8,436.8V450.6M625.17,436.8V443.3M660.53,436.8V450.6M695.9,436.8V443.3M731.26,436.8V450.6M766.63,436.8V443.3M802,436.8V450.6M837.36,436.8V443.3M872.73,436.8V450.6M908.09,436.8V443.3M943.46,436.8V450.6M978.83,436.8V443.3M1014.19,436.8V450.6" fill="none" stroke="#000" stroke-width="3.15"/>
<text x="567.7" y="16" font-size="18.3" text-anchor="end">5</text>
<text x="567.7" y="102.08" font-size="18.3" text-anchor="end">4</text>
<text x="567.7" y="188.16" font-size="18.3" text-anchor="end">3</text>
<text x="567.7" y="274.24" font-size="18.3" text-anchor="end">2</text>
<text x="567.7" y="360.32" font-size="18.3" text-anchor="end">1</text>
<text x="567.7" y="446.4" font-size="18.3" text-anchor="end">0</text>
<text x="589.8" y="477" font-size="19.2" text-anchor="middle">4</text>
<text x="660.53" y="477" font-size="19.2" text-anchor="middle">8</text>
<text x="731.26" y="477" font-size="19.2" text-anchor="middle">12</text>
<text x="802" y="477" font-size="19.2" text-anchor="middle">16</text>
<text x="872.73" y="477" font-size="19.2" text-anchor="middle">20</text>
<text x="943.46" y="477" font-size="19.2" text-anchor="middle">24</text>
<text x="1014.19" y="477" font-size="19.2" text-anchor="middle">28</text>
<path d="M607.6,22.5 L609.1,24.35 L610.6,26.21 L612.1,28.06 L613.6,29.91 L615.1,31.76 L616.6,33.62 L618.1,35.47 L619.6,37.32 L621.1,39.17 L622.6,41.02 L624.1,42.87 L625.6,44.71 L627.1,46.56 L628.6,48.4 L630.1,50.25 L631.6,52.09 L633.1,53.93 L634.6,55.77 L636.1,57.6 L637.6,59.44 L639.1,61.27 L640.6,63.1 L642.1,64.93 L643.6,66.76 L645.1,68.58 L646.6,70.4 L648.1,72.22 L649.6,74.04 L651.1,75.85 L652.6,77.66 L654.1,79.47 L655.6,81.28 L657.1,83.08 L658.6,84.88 L660.1,86.67 L661.6,88.47 L663.1,90.26 L664.6,92.04 L666.1,93.82 L667.6,95.6 L669.1,97.37 L670.6,99.14 L672.1,100.91 L673.6,102.67 L675.1,104.43 L676.6,106.18 L678.1,107.93 L679.6,109.67 L681.1,111.41 L682.6,113.15 L684.1,114.88 L685.6,116.6 L687.1,118.32 L688.6,120.03 L690.1,121.74 L691.6,123.45 L693.1,125.14 L694.6,126.84 L696.1,128.52 L697.6,130.21 L699.1,131.88 L700.6,133.55 L702.1,135.22 L703.6,136.88 L705.1,138.53 L706.6,140.18 L708.1,141.82 L709.6,143.46 L711.1,145.09 L712.6,146.72 L714.1,148.34 L715.6,149.96 L717.1,151.57 L718.6,153.18 L720.1,154.78 L721.6,156.38 L723.1,157.97 L724.6,159.56 L726.1,161.14 L727.6,162.72 L729.1,164.29 L730.6,165.86 L732.1,167.43 L733.6,168.99 L735.1,170.54 L736.6,172.1 L738.1,173.64 L739.6,175.19 L741.1,176.73 L742.6,178.26 L744.1,179.79 L745.6,181.32 L747.1,182.84 L748.6,184.36 L750.1,185.88 L751.6,187.39 L753.1,188.9 L754.6,190.4 L756.1,191.9 L757.6,193.4 L759.1,194.89 L760.6,196.39 L762.1,197.87 L763.6,199.36 L765.1,200.84 L766.6,202.31 L768.1,203.79 L769.6,205.26 L771.1,206.73 L772.6,208.19 L774.1,209.65 L775.6,211.11 L777.1,212.57 L778.6,214.02 L780.1,215.47 L781.6,216.92 L783.1,218.37 L784.6,219.81 L786.1,221.25 L787.6,222.69 L789.1,224.12 L790.6,225.55 L792.1,226.98 L793.6,228.41 L795.1,229.83 L796.6,231.26 L798.1,232.67 L799.6,234.09 L801.1,235.5 L802.6,236.91 L804.1,238.32 L805.6,239.72 L807.1,241.12 L808.6,242.52 L810.1,243.91 L811.6,245.31 L813.1,246.69 L814.6,248.08 L816.1,249.46 L817.6,250.84 L819.1,252.21 L820.6,253.58 L822.1,254.95 L823.6,256.31 L825.1,257.67 L826.6,259.03 L828.1,260.38 L829.6,261.73 L831.1,263.07 L832.6,264.41 L834.1,265.75 L835.6,267.08 L837.1,268.41 L838.6,269.74 L840.1,271.06 L841.6,272.37 L843.1,273.69 L844.6,275 L846.1,276.3 L847.6,277.6 L849.1,278.9 L850.6,280.19 L852.1,281.47 L853.6,282.76 L855.1,284.03 L856.6,285.31 L858.1,286.58 L859.6,287.84 L861.1,289.1 L862.6,290.35 L864.1,291.6 L865.6,292.85 L867.1,294.09 L868.6,295.32 L870.1,296.55 L871.6,297.78 L873.1,299 L874.6,300.22 L876.1,301.43 L877.6,302.63 L879.1,303.83 L880.6,305.03 L882.1,306.22 L883.6,307.41 L885.1,308.59 L886.6,309.77 L888.1,310.94 L889.6,312.11 L891.1,313.27 L892.6,314.43 L894.1,315.59 L895.6,316.75 L897.1,317.9 L898.6,319.04 L900.1,320.18 L901.6,321.32 L903.1,322.46 L904.6,323.59 L906.1,324.72 L907.6,325.84 L909.1,326.97 L910.6,328.09 L912.1,329.2 L913.6,330.32 L915.1,331.43 L916.6,332.53 L918.1,333.64 L919.6,334.74 L921.1,335.84 L922.6,336.94 L924.1,338.04 L925.6,339.13 L927.1,340.23 L928.6,341.32 L930.1,342.4 L931.6,343.49 L933.1,344.57 L934.6,345.66 L936.1,346.74 L937.6,347.82 L939.1,348.9 L940.6,349.97 L942.1,351.05 L943.6,352.13 L945.1,353.2 L946.6,354.27 L948.1,355.35 L949.6,356.42 L951.1,357.49 L952.6,358.56 L954.1,359.63 L955.6,360.7 L957.1,361.77 L958.6,362.83 L960.1,363.9 L961.5,364.9" fill="none" stroke="#000" stroke-width="2.15" stroke-linejoin="round"/>
<path d="M607.6,16.4L613.25,22.5L607.6,28.6L601.95,22.5Z" fill="#000" stroke="#000" stroke-width="1.1" stroke-linejoin="round"/>
<path d="M695.9,122.2L701.55,128.3L695.9,134.4L690.25,128.3Z" fill="#000" stroke="#000" stroke-width="1.1" stroke-linejoin="round"/>
<path d="M784.8,213.9L790.45,220L784.8,226.1L779.15,220Z" fill="#000" stroke="#000" stroke-width="1.1" stroke-linejoin="round"/>
<path d="M873.1,292.9L878.75,299L873.1,305.1L867.45,299Z" fill="#000" stroke="#000" stroke-width="1.1" stroke-linejoin="round"/>
<path d="M961.5,358.8L967.15,364.9L961.5,371L955.85,364.9Z" fill="#000" stroke="#000" stroke-width="1.1" stroke-linejoin="round"/>
<path d="M607.6,158.4 L609.1,159.02 L610.6,159.64 L612.1,160.26 L613.6,160.88 L615.1,161.5 L616.6,162.12 L618.1,162.74 L619.6,163.36 L621.1,163.98 L622.6,164.6 L624.1,165.23 L625.6,165.85 L627.1,166.48 L628.6,167.1 L630.1,167.73 L631.6,168.36 L633.1,168.99 L634.6,169.63 L636.1,170.26 L637.6,170.9 L639.1,171.53 L640.6,172.17 L642.1,172.82 L643.6,173.46 L645.1,174.11 L646.6,174.75 L648.1,175.4 L649.6,176.06 L651.1,176.71 L652.6,177.37 L654.1,178.03 L655.6,178.7 L657.1,179.36 L658.6,180.03 L660.1,180.7 L661.6,181.38 L663.1,182.06 L664.6,182.74 L666.1,183.43 L667.6,184.12 L669.1,184.81 L670.6,185.51 L672.1,186.21 L673.6,186.91 L675.1,187.62 L676.6,188.33 L678.1,189.05 L679.6,189.77 L681.1,190.49 L682.6,191.22 L684.1,191.96 L685.6,192.7 L687.1,193.44 L688.6,194.19 L690.1,194.94 L691.6,195.7 L693.1,196.46 L694.6,197.23 L696.1,198 L697.6,198.78 L699.1,199.57 L700.6,200.36 L702.1,201.15 L703.6,201.95 L705.1,202.75 L706.6,203.56 L708.1,204.38 L709.6,205.2 L711.1,206.02 L712.6,206.85 L714.1,207.68 L715.6,208.52 L717.1,209.37 L718.6,210.21 L720.1,211.06 L721.6,211.92 L723.1,212.78 L724.6,213.65 L726.1,214.52 L727.6,215.39 L729.1,216.27 L730.6,217.15 L732.1,218.04 L733.6,218.93 L735.1,219.82 L736.6,220.72 L738.1,221.62 L739.6,222.52 L741.1,223.43 L742.6,224.35 L744.1,225.26 L745.6,226.18 L747.1,227.1 L748.6,228.03 L750.1,228.96 L751.6,229.9 L753.1,230.83 L754.6,231.77 L756.1,232.72 L757.6,233.66 L759.1,234.61 L760.6,235.56 L762.1,236.52 L763.6,237.48 L765.1,238.44 L766.6,239.4 L768.1,240.37 L769.6,241.34 L771.1,242.31 L772.6,243.29 L774.1,244.26 L775.6,245.24 L777.1,246.22 L778.6,247.21 L780.1,248.19 L781.6,249.18 L783.1,250.17 L784.6,251.17 L786.1,252.16 L787.6,253.16 L789.1,254.16 L790.6,255.16 L792.1,256.16 L793.6,257.17 L795.1,258.17 L796.6,259.18 L798.1,260.19 L799.6,261.2 L801.1,262.22 L802.6,263.23 L804.1,264.25 L805.6,265.27 L807.1,266.28 L808.6,267.3 L810.1,268.33 L811.6,269.35 L813.1,270.37 L814.6,271.4 L816.1,272.42 L817.6,273.45 L819.1,274.48 L820.6,275.51 L822.1,276.54 L823.6,277.57 L825.1,278.6 L826.6,279.63 L828.1,280.66 L829.6,281.7 L831.1,282.73 L832.6,283.77 L834.1,284.8 L835.6,285.84 L837.1,286.87 L838.6,287.91 L840.1,288.94 L841.6,289.98 L843.1,291.02 L844.6,292.05 L846.1,293.09 L847.6,294.13 L849.1,295.16 L850.6,296.2 L852.1,297.24 L853.6,298.27 L855.1,299.31 L856.6,300.34 L858.1,301.38 L859.6,302.41 L861.1,303.45 L862.6,304.48 L864.1,305.51 L865.6,306.55 L867.1,307.58 L868.6,308.61 L870.1,309.64 L871.6,310.67 L873.1,311.7 L874.6,312.73 L876.1,313.76 L877.6,314.78 L879.1,315.81 L880.6,316.83 L882.1,317.85 L883.6,318.88 L885.1,319.9 L886.6,320.92 L888.1,321.94 L889.6,322.96 L891.1,323.98 L892.6,325 L894.1,326.02 L895.6,327.03 L897.1,328.05 L898.6,329.06 L900.1,330.08 L901.6,331.09 L903.1,332.11 L904.6,333.12 L906.1,334.13 L907.6,335.14 L909.1,336.15 L910.6,337.17 L912.1,338.18 L913.6,339.18 L915.1,340.19 L916.6,341.2 L918.1,342.21 L919.6,343.22 L921.1,344.23 L922.6,345.23 L924.1,346.24 L925.6,347.25 L927.1,348.25 L928.6,349.26 L930.1,350.26 L931.6,351.27 L933.1,352.27 L934.6,353.28 L936.1,354.28 L937.6,355.28 L939.1,356.29 L940.6,357.29 L942.1,358.29 L943.6,359.29 L945.1,360.3 L946.6,361.3 L948.1,362.3 L949.6,363.3 L951.1,364.31 L952.6,365.31 L954.1,366.31 L955.6,367.31 L957.1,368.31 L958.6,369.31 L960.1,370.32 L961.5,371.25" fill="none" stroke="#000" stroke-width="2.15" stroke-linejoin="round"/>
<path d="M607.6,152.3L613.25,158.4L607.6,164.5L601.95,158.4Z" fill="#000" stroke="#000" stroke-width="1.1" stroke-linejoin="round"/>
<path d="M695.9,191.8L701.55,197.9L695.9,204L690.25,197.9Z" fill="#000" stroke="#000" stroke-width="1.1" stroke-linejoin="round"/>
<path d="M784.8,245.2L790.45,251.3L784.8,257.4L779.15,251.3Z" fill="#000" stroke="#000" stroke-width="1.1" stroke-linejoin="round"/>
<path d="M873.1,305.6L878.75,311.7L873.1,317.8L867.45,311.7Z" fill="#000" stroke="#000" stroke-width="1.1" stroke-linejoin="round"/>
<path d="M961.5,365.15L967.15,371.25L961.5,377.35L955.85,371.25Z" fill="#000" stroke="#000" stroke-width="1.1" stroke-linejoin="round"/>
<path d="M607.6,199 L609.1,199.48 L610.6,199.96 L612.1,200.45 L613.6,200.93 L615.1,201.41 L616.6,201.9 L618.1,202.38 L619.6,202.86 L621.1,203.35 L622.6,203.83 L624.1,204.32 L625.6,204.8 L627.1,205.29 L628.6,205.78 L630.1,206.27 L631.6,206.76 L633.1,207.25 L634.6,207.74 L636.1,208.23 L637.6,208.73 L639.1,209.22 L640.6,209.72 L642.1,210.22 L643.6,210.72 L645.1,211.22 L646.6,211.72 L648.1,212.22 L649.6,212.73 L651.1,213.24 L652.6,213.75 L654.1,214.26 L655.6,214.77 L657.1,215.29 L658.6,215.8 L660.1,216.32 L661.6,216.84 L663.1,217.37 L664.6,217.89 L666.1,218.42 L667.6,218.95 L669.1,219.49 L670.6,220.02 L672.1,220.56 L673.6,221.1 L675.1,221.64 L676.6,222.19 L678.1,222.74 L679.6,223.29 L681.1,223.85 L682.6,224.41 L684.1,224.97 L685.6,225.53 L687.1,226.1 L688.6,226.67 L690.1,227.25 L691.6,227.82 L693.1,228.41 L694.6,228.99 L696.1,229.58 L697.6,230.17 L699.1,230.77 L700.6,231.37 L702.1,231.97 L703.6,232.58 L705.1,233.19 L706.6,233.8 L708.1,234.42 L709.6,235.04 L711.1,235.66 L712.6,236.29 L714.1,236.93 L715.6,237.56 L717.1,238.2 L718.6,238.84 L720.1,239.49 L721.6,240.14 L723.1,240.8 L724.6,241.45 L726.1,242.11 L727.6,242.78 L729.1,243.45 L730.6,244.12 L732.1,244.8 L733.6,245.47 L735.1,246.16 L736.6,246.84 L738.1,247.53 L739.6,248.23 L741.1,248.92 L742.6,249.63 L744.1,250.33 L745.6,251.04 L747.1,251.75 L748.6,252.46 L750.1,253.18 L751.6,253.9 L753.1,254.63 L754.6,255.36 L756.1,256.09 L757.6,256.83 L759.1,257.57 L760.6,258.31 L762.1,259.06 L763.6,259.81 L765.1,260.57 L766.6,261.32 L768.1,262.08 L769.6,262.85 L771.1,263.62 L772.6,264.39 L774.1,265.17 L775.6,265.94 L777.1,266.73 L778.6,267.51 L780.1,268.3 L781.6,269.1 L783.1,269.89 L784.6,270.69 L786.1,271.5 L787.6,272.3 L789.1,273.11 L790.6,273.93 L792.1,274.75 L793.6,275.57 L795.1,276.39 L796.6,277.22 L798.1,278.05 L799.6,278.88 L801.1,279.72 L802.6,280.55 L804.1,281.4 L805.6,282.24 L807.1,283.09 L808.6,283.94 L810.1,284.79 L811.6,285.64 L813.1,286.5 L814.6,287.36 L816.1,288.22 L817.6,289.09 L819.1,289.96 L820.6,290.82 L822.1,291.7 L823.6,292.57 L825.1,293.44 L826.6,294.32 L828.1,295.2 L829.6,296.08 L831.1,296.97 L832.6,297.85 L834.1,298.74 L835.6,299.62 L837.1,300.51 L838.6,301.41 L840.1,302.3 L841.6,303.19 L843.1,304.09 L844.6,304.99 L846.1,305.88 L847.6,306.78 L849.1,307.68 L850.6,308.58 L852.1,309.49 L853.6,310.39 L855.1,311.3 L856.6,312.2 L858.1,313.11 L859.6,314.01 L861.1,314.92 L862.6,315.83 L864.1,316.74 L865.6,317.65 L867.1,318.56 L868.6,319.47 L870.1,320.38 L871.6,321.29 L873.1,322.2 L874.6,323.11 L876.1,324.02 L877.6,324.93 L879.1,325.85 L880.6,326.76 L882.1,327.67 L883.6,328.58 L885.1,329.49 L886.6,330.41 L888.1,331.32 L889.6,332.23 L891.1,333.15 L892.6,334.06 L894.1,334.97 L895.6,335.89 L897.1,336.8 L898.6,337.71 L900.1,338.63 L901.6,339.54 L903.1,340.45 L904.6,341.37 L906.1,342.28 L907.6,343.2 L909.1,344.11 L910.6,345.03 L912.1,345.94 L913.6,346.85 L915.1,347.77 L916.6,348.68 L918.1,349.6 L919.6,350.51 L921.1,351.43 L922.6,352.35 L924.1,353.26 L925.6,354.18 L927.1,355.09 L928.6,356.01 L930.1,356.92 L931.6,357.84 L933.1,358.75 L934.6,359.67 L936.1,360.59 L937.6,361.5 L939.1,362.42 L940.6,363.33 L942.1,364.25 L943.6,365.17 L945.1,366.08 L946.6,367 L948.1,367.91 L949.6,368.83 L951.1,369.75 L952.6,370.66 L954.1,371.58 L955.6,372.5 L957.1,373.41 L958.6,374.33 L960.1,375.24 L961.5,376.1" fill="none" stroke="#000" stroke-width="2.15" stroke-linejoin="round"/>
<path d="M607.6,192.9L613.25,199L607.6,205.1L601.95,199Z" fill="#000" stroke="#000" stroke-width="1.1" stroke-linejoin="round"/>
<path d="M695.9,223.4L701.55,229.5L695.9,235.6L690.25,229.5Z" fill="#000" stroke="#000" stroke-width="1.1" stroke-linejoin="round"/>
<path d="M784.8,264.7L790.45,270.8L784.8,276.9L779.15,270.8Z" fill="#000" stroke="#000" stroke-width="1.1" stroke-linejoin="round"/>
<path d="M873.1,316.1L878.75,322.2L873.1,328.3L867.45,322.2Z" fill="#000" stroke="#000" stroke-width="1.1" stroke-linejoin="round"/>
<path d="M961.5,370L967.15,376.1L961.5,382.2L955.85,376.1Z" fill="#000" stroke="#000" stroke-width="1.1" stroke-linejoin="round"/>
<path d="M607.6,243.3 L609.1,243.66 L610.6,244.01 L612.1,244.37 L613.6,244.73 L615.1,245.08 L616.6,245.44 L618.1,245.8 L619.6,246.16 L621.1,246.52 L622.6,246.88 L624.1,247.23 L625.6,247.59 L627.1,247.96 L628.6,248.32 L630.1,248.68 L631.6,249.04 L633.1,249.41 L634.6,249.77 L636.1,250.14 L637.6,250.5 L639.1,250.87 L640.6,251.24 L642.1,251.61 L643.6,251.98 L645.1,252.35 L646.6,252.73 L648.1,253.1 L649.6,253.48 L651.1,253.86 L652.6,254.24 L654.1,254.62 L655.6,255 L657.1,255.39 L658.6,255.77 L660.1,256.16 L661.6,256.55 L663.1,256.94 L664.6,257.34 L666.1,257.73 L667.6,258.13 L669.1,258.53 L670.6,258.93 L672.1,259.34 L673.6,259.75 L675.1,260.16 L676.6,260.57 L678.1,260.98 L679.6,261.4 L681.1,261.82 L682.6,262.24 L684.1,262.66 L685.6,263.09 L687.1,263.52 L688.6,263.95 L690.1,264.39 L691.6,264.83 L693.1,265.27 L694.6,265.71 L696.1,266.16 L697.6,266.61 L699.1,267.06 L700.6,267.52 L702.1,267.98 L703.6,268.44 L705.1,268.91 L706.6,269.38 L708.1,269.85 L709.6,270.33 L711.1,270.81 L712.6,271.29 L714.1,271.77 L715.6,272.26 L717.1,272.75 L718.6,273.24 L720.1,273.74 L721.6,274.24 L723.1,274.74 L724.6,275.25 L726.1,275.76 L727.6,276.27 L729.1,276.78 L730.6,277.3 L732.1,277.82 L733.6,278.34 L735.1,278.87 L736.6,279.4 L738.1,279.93 L739.6,280.47 L741.1,281 L742.6,281.54 L744.1,282.09 L745.6,282.63 L747.1,283.18 L748.6,283.74 L750.1,284.29 L751.6,284.85 L753.1,285.41 L754.6,285.97 L756.1,286.54 L757.6,287.11 L759.1,287.68 L760.6,288.25 L762.1,288.83 L763.6,289.41 L765.1,289.99 L766.6,290.58 L768.1,291.17 L769.6,291.76 L771.1,292.35 L772.6,292.95 L774.1,293.55 L775.6,294.15 L777.1,294.75 L778.6,295.36 L780.1,295.97 L781.6,296.58 L783.1,297.2 L784.6,297.82 L786.1,298.44 L787.6,299.06 L789.1,299.69 L790.6,300.32 L792.1,300.95 L793.6,301.58 L795.1,302.22 L796.6,302.85 L798.1,303.5 L799.6,304.14 L801.1,304.79 L802.6,305.43 L804.1,306.08 L805.6,306.74 L807.1,307.39 L808.6,308.05 L810.1,308.71 L811.6,309.38 L813.1,310.04 L814.6,310.71 L816.1,311.38 L817.6,312.05 L819.1,312.73 L820.6,313.4 L822.1,314.08 L823.6,314.76 L825.1,315.45 L826.6,316.13 L828.1,316.82 L829.6,317.51 L831.1,318.2 L832.6,318.9 L834.1,319.59 L835.6,320.29 L837.1,320.99 L838.6,321.7 L840.1,322.4 L841.6,323.11 L843.1,323.82 L844.6,324.53 L846.1,325.24 L847.6,325.96 L849.1,326.67 L850.6,327.39 L852.1,328.11 L853.6,328.84 L855.1,329.56 L856.6,330.29 L858.1,331.02 L859.6,331.75 L861.1,332.48 L862.6,333.21 L864.1,333.95 L865.6,334.69 L867.1,335.42 L868.6,336.17 L870.1,336.91 L871.6,337.65 L873.1,338.4 L874.6,339.15 L876.1,339.9 L877.6,340.65 L879.1,341.4 L880.6,342.16 L882.1,342.91 L883.6,343.67 L885.1,344.43 L886.6,345.19 L888.1,345.95 L889.6,346.72 L891.1,347.48 L892.6,348.25 L894.1,349.01 L895.6,349.78 L897.1,350.55 L898.6,351.32 L900.1,352.1 L901.6,352.87 L903.1,353.64 L904.6,354.42 L906.1,355.2 L907.6,355.98 L909.1,356.76 L910.6,357.54 L912.1,358.32 L913.6,359.1 L915.1,359.88 L916.6,360.67 L918.1,361.45 L919.6,362.24 L921.1,363.02 L922.6,363.81 L924.1,364.6 L925.6,365.39 L927.1,366.18 L928.6,366.96 L930.1,367.76 L931.6,368.55 L933.1,369.34 L934.6,370.13 L936.1,370.92 L937.6,371.72 L939.1,372.51 L940.6,373.31 L942.1,374.1 L943.6,374.89 L945.1,375.69 L946.6,376.49 L948.1,377.28 L949.6,378.08 L951.1,378.87 L952.6,379.67 L954.1,380.47 L955.6,381.26 L957.1,382.06 L958.6,382.86 L960.1,383.66 L961.5,384.4" fill="none" stroke="#000" stroke-width="2.15" stroke-linejoin="round"/>
<path d="M607.6,237.2L613.25,243.3L607.6,249.4L601.95,243.3Z" fill="#000" stroke="#000" stroke-width="1.1" stroke-linejoin="round"/>
<path d="M695.9,260L701.55,266.1L695.9,272.2L690.25,266.1Z" fill="#000" stroke="#000" stroke-width="1.1" stroke-linejoin="round"/>
<path d="M784.8,291.8L790.45,297.9L784.8,304L779.15,297.9Z" fill="#000" stroke="#000" stroke-width="1.1" stroke-linejoin="round"/>
<path d="M873.1,332.3L878.75,338.4L873.1,344.5L867.45,338.4Z" fill="#000" stroke="#000" stroke-width="1.1" stroke-linejoin="round"/>
<path d="M961.5,378.3L967.15,384.4L961.5,390.5L955.85,384.4Z" fill="#000" stroke="#000" stroke-width="1.1" stroke-linejoin="round"/>
<path d="M607.6,197.1 L609.1,198.45 L610.6,199.8 L612.1,201.14 L613.6,202.49 L615.1,203.84 L616.6,205.19 L618.1,206.53 L619.6,207.88 L621.1,209.23 L622.6,210.57 L624.1,211.91 L625.6,213.26 L627.1,214.6 L628.6,215.94 L630.1,217.28 L631.6,218.62 L633.1,219.96 L634.6,221.3 L636.1,222.63 L637.6,223.97 L639.1,225.3 L640.6,226.63 L642.1,227.96 L643.6,229.29 L645.1,230.61 L646.6,231.93 L648.1,233.26 L649.6,234.58 L651.1,235.89 L652.6,237.21 L654.1,238.52 L655.6,239.83 L657.1,241.14 L658.6,242.45 L660.1,243.75 L661.6,245.05 L663.1,246.35 L664.6,247.64 L666.1,248.94 L667.6,250.23 L669.1,251.51 L670.6,252.8 L672.1,254.08 L673.6,255.35 L675.1,256.63 L676.6,257.9 L678.1,259.16 L679.6,260.43 L681.1,261.68 L682.6,262.94 L684.1,264.19 L685.6,265.44 L687.1,266.68 L688.6,267.92 L690.1,269.16 L691.6,270.39 L693.1,271.62 L694.6,272.84 L696.1,274.06 L697.6,275.28 L699.1,276.49 L700.6,277.69 L702.1,278.89 L703.6,280.09 L705.1,281.28 L706.6,282.47 L708.1,283.65 L709.6,284.83 L711.1,286.01 L712.6,287.18 L714.1,288.34 L715.6,289.5 L717.1,290.66 L718.6,291.81 L720.1,292.96 L721.6,294.1 L723.1,295.24 L724.6,296.37 L726.1,297.5 L727.6,298.63 L729.1,299.75 L730.6,300.86 L732.1,301.97 L733.6,303.08 L735.1,304.18 L736.6,305.28 L738.1,306.37 L739.6,307.46 L741.1,308.54 L742.6,309.62 L744.1,310.7 L745.6,311.77 L747.1,312.83 L748.6,313.89 L750.1,314.95 L751.6,316 L753.1,317.05 L754.6,318.09 L756.1,319.13 L757.6,320.16 L759.1,321.19 L760.6,322.22 L762.1,323.24 L763.6,324.25 L765.1,325.26 L766.6,326.27 L768.1,327.27 L769.6,328.26 L771.1,329.26 L772.6,330.24 L774.1,331.23 L775.6,332.2 L777.1,333.18 L778.6,334.15 L780.1,335.11 L781.6,336.07 L783.1,337.02 L784.6,337.97 L786.1,338.92 L787.6,339.86 L789.1,340.8 L790.6,341.73 L792.1,342.65 L793.6,343.58 L795.1,344.49 L796.6,345.41 L798.1,346.32 L799.6,347.22 L801.1,348.12 L802.6,349.01 L804.1,349.9 L805.6,350.79 L807.1,351.67 L808.6,352.55 L810.1,353.42 L811.6,354.29 L813.1,355.15 L814.6,356.01 L816.1,356.86 L817.6,357.71 L819.1,358.56 L820.6,359.4 L822.1,360.23 L823.6,361.06 L825.1,361.89 L826.6,362.72 L828.1,363.53 L829.6,364.35 L831.1,365.16 L832.6,365.96 L834.1,366.76 L835.6,367.56 L837.1,368.35 L838.6,369.14 L840.1,369.93 L841.6,370.71 L843.1,371.48 L844.6,372.25 L846.1,373.02 L847.6,373.78 L849.1,374.54 L850.6,375.29 L852.1,376.04 L853.6,376.79 L855.1,377.53 L856.6,378.27 L858.1,379 L859.6,379.73 L861.1,380.45 L862.6,381.17 L864.1,381.89 L865.6,382.6 L867.1,383.31 L868.6,384.01 L870.1,384.71 L871.6,385.41 L873.1,386.1 L874.6,386.79 L876.1,387.47 L877.6,388.15 L879.1,388.83 L880.6,389.5 L882.1,390.17 L883.6,390.83 L885.1,391.49 L886.6,392.15 L888.1,392.8 L889.6,393.45 L891.1,394.1 L892.6,394.74 L894.1,395.38 L895.6,396.02 L897.1,396.66 L898.6,397.29 L900.1,397.92 L901.6,398.54 L903.1,399.16 L904.6,399.78 L906.1,400.4 L907.6,401.02 L909.1,401.63 L910.6,402.24 L912.1,402.85 L913.6,403.45 L915.1,404.06 L916.6,404.66 L918.1,405.26 L919.6,405.85 L921.1,406.45 L922.6,407.04 L924.1,407.63 L925.6,408.22 L927.1,408.81 L928.6,409.4 L930.1,409.98 L931.6,410.57 L933.1,411.15 L934.6,411.73 L936.1,412.31 L937.6,412.89 L939.1,413.46 L940.6,414.04 L942.1,414.62 L943.6,415.19 L945.1,415.76 L946.6,416.34 L948.1,416.91 L949.6,417.48 L951.1,418.05 L952.6,418.62 L954.1,419.19 L955.6,419.76 L957.1,420.33 L958.6,420.9 L960.1,421.47 L961.5,422" fill="none" stroke="#000" stroke-width="2.15" stroke-linejoin="round"/>
<ellipse cx="607.6" cy="197.1" rx="4.75" ry="5.35" fill="#000"/>
<ellipse cx="695.9" cy="273.9" rx="4.75" ry="5.35" fill="#000"/>
<ellipse cx="784.8" cy="338.1" rx="4.75" ry="5.35" fill="#000"/>
<ellipse cx="873.1" cy="386.1" rx="4.75" ry="5.35" fill="#000"/>
<ellipse cx="961.5" cy="422" rx="4.75" ry="5.35" fill="#000"/>
<path d="M607.6,234.5 L609.1,235.45 L610.6,236.41 L612.1,237.36 L613.6,238.32 L615.1,239.27 L616.6,240.22 L618.1,241.18 L619.6,242.13 L621.1,243.08 L622.6,244.04 L624.1,244.99 L625.6,245.94 L627.1,246.9 L628.6,247.85 L630.1,248.8 L631.6,249.75 L633.1,250.71 L634.6,251.66 L636.1,252.61 L637.6,253.56 L639.1,254.51 L640.6,255.46 L642.1,256.41 L643.6,257.36 L645.1,258.31 L646.6,259.26 L648.1,260.21 L649.6,261.16 L651.1,262.11 L652.6,263.06 L654.1,264.01 L655.6,264.95 L657.1,265.9 L658.6,266.85 L660.1,267.79 L661.6,268.74 L663.1,269.68 L664.6,270.63 L666.1,271.57 L667.6,272.52 L669.1,273.46 L670.6,274.4 L672.1,275.34 L673.6,276.28 L675.1,277.22 L676.6,278.16 L678.1,279.1 L679.6,280.04 L681.1,280.98 L682.6,281.92 L684.1,282.86 L685.6,283.79 L687.1,284.73 L688.6,285.66 L690.1,286.6 L691.6,287.53 L693.1,288.46 L694.6,289.39 L696.1,290.32 L697.6,291.25 L699.1,292.18 L700.6,293.11 L702.1,294.04 L703.6,294.97 L705.1,295.89 L706.6,296.82 L708.1,297.74 L709.6,298.67 L711.1,299.59 L712.6,300.51 L714.1,301.43 L715.6,302.35 L717.1,303.27 L718.6,304.19 L720.1,305.1 L721.6,306.02 L723.1,306.93 L724.6,307.85 L726.1,308.76 L727.6,309.67 L729.1,310.58 L730.6,311.49 L732.1,312.4 L733.6,313.31 L735.1,314.21 L736.6,315.12 L738.1,316.02 L739.6,316.92 L741.1,317.82 L742.6,318.72 L744.1,319.62 L745.6,320.52 L747.1,321.42 L748.6,322.31 L750.1,323.21 L751.6,324.1 L753.1,324.99 L754.6,325.88 L756.1,326.77 L757.6,327.66 L759.1,328.54 L760.6,329.43 L762.1,330.31 L763.6,331.19 L765.1,332.07 L766.6,332.95 L768.1,333.83 L769.6,334.71 L771.1,335.58 L772.6,336.45 L774.1,337.33 L775.6,338.2 L777.1,339.06 L778.6,339.93 L780.1,340.8 L781.6,341.66 L783.1,342.52 L784.6,343.39 L786.1,344.24 L787.6,345.1 L789.1,345.96 L790.6,346.81 L792.1,347.67 L793.6,348.52 L795.1,349.36 L796.6,350.21 L798.1,351.06 L799.6,351.9 L801.1,352.74 L802.6,353.58 L804.1,354.41 L805.6,355.25 L807.1,356.08 L808.6,356.91 L810.1,357.73 L811.6,358.56 L813.1,359.38 L814.6,360.2 L816.1,361.01 L817.6,361.83 L819.1,362.64 L820.6,363.45 L822.1,364.25 L823.6,365.05 L825.1,365.85 L826.6,366.65 L828.1,367.44 L829.6,368.23 L831.1,369.02 L832.6,369.8 L834.1,370.58 L835.6,371.35 L837.1,372.13 L838.6,372.9 L840.1,373.66 L841.6,374.42 L843.1,375.18 L844.6,375.94 L846.1,376.69 L847.6,377.44 L849.1,378.18 L850.6,378.92 L852.1,379.65 L853.6,380.39 L855.1,381.11 L856.6,381.84 L858.1,382.55 L859.6,383.27 L861.1,383.98 L862.6,384.69 L864.1,385.39 L865.6,386.08 L867.1,386.78 L868.6,387.46 L870.1,388.15 L871.6,388.83 L873.1,389.5 L874.6,390.17 L876.1,390.83 L877.6,391.49 L879.1,392.15 L880.6,392.8 L882.1,393.44 L883.6,394.09 L885.1,394.72 L886.6,395.36 L888.1,395.99 L889.6,396.61 L891.1,397.23 L892.6,397.85 L894.1,398.47 L895.6,399.08 L897.1,399.68 L898.6,400.29 L900.1,400.89 L901.6,401.48 L903.1,402.07 L904.6,402.66 L906.1,403.25 L907.6,403.84 L909.1,404.42 L910.6,404.99 L912.1,405.57 L913.6,406.14 L915.1,406.71 L916.6,407.28 L918.1,407.84 L919.6,408.41 L921.1,408.97 L922.6,409.53 L924.1,410.08 L925.6,410.64 L927.1,411.19 L928.6,411.74 L930.1,412.29 L931.6,412.83 L933.1,413.38 L934.6,413.92 L936.1,414.46 L937.6,415.01 L939.1,415.54 L940.6,416.08 L942.1,416.62 L943.6,417.16 L945.1,417.69 L946.6,418.23 L948.1,418.76 L949.6,419.29 L951.1,419.82 L952.6,420.35 L954.1,420.89 L955.6,421.42 L957.1,421.95 L958.6,422.48 L960.1,423.01 L961.5,423.5" fill="none" stroke="#000" stroke-width="2.15" stroke-linejoin="round"/>
<ellipse cx="607.6" cy="234.5" rx="4.75" ry="5.35" fill="#000"/>
<ellipse cx="695.9" cy="290.2" rx="4.75" ry="5.35" fill="#000"/>
<ellipse cx="784.8" cy="343.5" rx="4.75" ry="5.35" fill="#000"/>
<ellipse cx="873.1" cy="389.5" rx="4.75" ry="5.35" fill="#000"/>
<ellipse cx="961.5" cy="423.5" rx="4.75" ry="5.35" fill="#000"/>
<path d="M607.6,257.4 L609.1,258.16 L610.6,258.91 L612.1,259.67 L613.6,260.43 L615.1,261.19 L616.6,261.94 L618.1,262.7 L619.6,263.46 L621.1,264.22 L622.6,264.97 L624.1,265.73 L625.6,266.49 L627.1,267.25 L628.6,268.01 L630.1,268.76 L631.6,269.52 L633.1,270.28 L634.6,271.04 L636.1,271.8 L637.6,272.56 L639.1,273.32 L640.6,274.08 L642.1,274.84 L643.6,275.6 L645.1,276.36 L646.6,277.12 L648.1,277.89 L649.6,278.65 L651.1,279.41 L652.6,280.17 L654.1,280.94 L655.6,281.7 L657.1,282.46 L658.6,283.23 L660.1,283.99 L661.6,284.76 L663.1,285.52 L664.6,286.29 L666.1,287.05 L667.6,287.82 L669.1,288.59 L670.6,289.36 L672.1,290.13 L673.6,290.89 L675.1,291.66 L676.6,292.43 L678.1,293.21 L679.6,293.98 L681.1,294.75 L682.6,295.52 L684.1,296.29 L685.6,297.07 L687.1,297.84 L688.6,298.62 L690.1,299.39 L691.6,300.17 L693.1,300.95 L694.6,301.73 L696.1,302.5 L697.6,303.28 L699.1,304.06 L700.6,304.84 L702.1,305.63 L703.6,306.41 L705.1,307.19 L706.6,307.97 L708.1,308.76 L709.6,309.54 L711.1,310.33 L712.6,311.11 L714.1,311.9 L715.6,312.69 L717.1,313.48 L718.6,314.26 L720.1,315.05 L721.6,315.84 L723.1,316.63 L724.6,317.42 L726.1,318.21 L727.6,319 L729.1,319.79 L730.6,320.58 L732.1,321.38 L733.6,322.17 L735.1,322.96 L736.6,323.75 L738.1,324.55 L739.6,325.34 L741.1,326.13 L742.6,326.93 L744.1,327.72 L745.6,328.52 L747.1,329.31 L748.6,330.11 L750.1,330.9 L751.6,331.7 L753.1,332.49 L754.6,333.29 L756.1,334.08 L757.6,334.88 L759.1,335.67 L760.6,336.47 L762.1,337.26 L763.6,338.06 L765.1,338.86 L766.6,339.65 L768.1,340.45 L769.6,341.24 L771.1,342.04 L772.6,342.83 L774.1,343.63 L775.6,344.42 L777.1,345.22 L778.6,346.02 L780.1,346.81 L781.6,347.61 L783.1,348.4 L784.6,349.19 L786.1,349.99 L787.6,350.78 L789.1,351.58 L790.6,352.37 L792.1,353.16 L793.6,353.95 L795.1,354.74 L796.6,355.54 L798.1,356.32 L799.6,357.11 L801.1,357.9 L802.6,358.69 L804.1,359.47 L805.6,360.26 L807.1,361.04 L808.6,361.82 L810.1,362.6 L811.6,363.38 L813.1,364.16 L814.6,364.93 L816.1,365.71 L817.6,366.48 L819.1,367.25 L820.6,368.02 L822.1,368.78 L823.6,369.54 L825.1,370.31 L826.6,371.06 L828.1,371.82 L829.6,372.57 L831.1,373.33 L832.6,374.07 L834.1,374.82 L835.6,375.56 L837.1,376.3 L838.6,377.04 L840.1,377.78 L841.6,378.51 L843.1,379.23 L844.6,379.96 L846.1,380.68 L847.6,381.4 L849.1,382.11 L850.6,382.82 L852.1,383.53 L853.6,384.23 L855.1,384.93 L856.6,385.63 L858.1,386.32 L859.6,387.01 L861.1,387.69 L862.6,388.37 L864.1,389.05 L865.6,389.72 L867.1,390.38 L868.6,391.04 L870.1,391.7 L871.6,392.35 L873.1,393 L874.6,393.64 L876.1,394.28 L877.6,394.91 L879.1,395.54 L880.6,396.17 L882.1,396.79 L883.6,397.4 L885.1,398.01 L886.6,398.62 L888.1,399.22 L889.6,399.82 L891.1,400.41 L892.6,401.01 L894.1,401.59 L895.6,402.18 L897.1,402.76 L898.6,403.33 L900.1,403.91 L901.6,404.47 L903.1,405.04 L904.6,405.6 L906.1,406.16 L907.6,406.72 L909.1,407.27 L910.6,407.82 L912.1,408.37 L913.6,408.92 L915.1,409.46 L916.6,410 L918.1,410.54 L919.6,411.07 L921.1,411.61 L922.6,412.14 L924.1,412.67 L925.6,413.19 L927.1,413.72 L928.6,414.24 L930.1,414.76 L931.6,415.28 L933.1,415.8 L934.6,416.32 L936.1,416.83 L937.6,417.34 L939.1,417.86 L940.6,418.37 L942.1,418.88 L943.6,419.38 L945.1,419.89 L946.6,420.4 L948.1,420.9 L949.6,421.41 L951.1,421.91 L952.6,422.42 L954.1,422.92 L955.6,423.42 L957.1,423.93 L958.6,424.43 L960.1,424.93 L961.5,425.4" fill="none" stroke="#000" stroke-width="2.15" stroke-linejoin="round"/>
<ellipse cx="607.6" cy="257.4" rx="4.75" ry="5.35" fill="#000"/>
<ellipse cx="695.9" cy="302.4" rx="4.75" ry="5.35" fill="#000"/>
<ellipse cx="784.8" cy="349.3" rx="4.75" ry="5.35" fill="#000"/>
<ellipse cx="873.1" cy="393" rx="4.75" ry="5.35" fill="#000"/>
<ellipse cx="961.5" cy="425.4" rx="4.75" ry="5.35" fill="#000"/>
<path d="M607.6,285.9 L609.1,286.48 L610.6,287.06 L612.1,287.65 L613.6,288.23 L615.1,288.81 L616.6,289.39 L618.1,289.98 L619.6,290.56 L621.1,291.14 L622.6,291.73 L624.1,292.31 L625.6,292.89 L627.1,293.48 L628.6,294.06 L630.1,294.65 L631.6,295.24 L633.1,295.82 L634.6,296.41 L636.1,297 L637.6,297.59 L639.1,298.17 L640.6,298.76 L642.1,299.36 L643.6,299.95 L645.1,300.54 L646.6,301.13 L648.1,301.73 L649.6,302.32 L651.1,302.92 L652.6,303.51 L654.1,304.11 L655.6,304.71 L657.1,305.31 L658.6,305.91 L660.1,306.51 L661.6,307.11 L663.1,307.72 L664.6,308.32 L666.1,308.93 L667.6,309.54 L669.1,310.15 L670.6,310.76 L672.1,311.37 L673.6,311.99 L675.1,312.6 L676.6,313.22 L678.1,313.84 L679.6,314.45 L681.1,315.08 L682.6,315.7 L684.1,316.32 L685.6,316.95 L687.1,317.58 L688.6,318.21 L690.1,318.84 L691.6,319.47 L693.1,320.11 L694.6,320.75 L696.1,321.39 L697.6,322.03 L699.1,322.67 L700.6,323.31 L702.1,323.96 L703.6,324.61 L705.1,325.26 L706.6,325.91 L708.1,326.57 L709.6,327.22 L711.1,327.88 L712.6,328.53 L714.1,329.19 L715.6,329.86 L717.1,330.52 L718.6,331.18 L720.1,331.84 L721.6,332.51 L723.1,333.18 L724.6,333.84 L726.1,334.51 L727.6,335.18 L729.1,335.85 L730.6,336.52 L732.1,337.2 L733.6,337.87 L735.1,338.54 L736.6,339.22 L738.1,339.89 L739.6,340.57 L741.1,341.24 L742.6,341.92 L744.1,342.6 L745.6,343.27 L747.1,343.95 L748.6,344.63 L750.1,345.3 L751.6,345.98 L753.1,346.66 L754.6,347.34 L756.1,348.01 L757.6,348.69 L759.1,349.37 L760.6,350.05 L762.1,350.72 L763.6,351.4 L765.1,352.08 L766.6,352.75 L768.1,353.43 L769.6,354.1 L771.1,354.78 L772.6,355.45 L774.1,356.12 L775.6,356.8 L777.1,357.47 L778.6,358.14 L780.1,358.81 L781.6,359.48 L783.1,360.14 L784.6,360.81 L786.1,361.48 L787.6,362.14 L789.1,362.81 L790.6,363.47 L792.1,364.13 L793.6,364.79 L795.1,365.45 L796.6,366.11 L798.1,366.76 L799.6,367.42 L801.1,368.07 L802.6,368.72 L804.1,369.37 L805.6,370.02 L807.1,370.67 L808.6,371.32 L810.1,371.96 L811.6,372.61 L813.1,373.25 L814.6,373.89 L816.1,374.53 L817.6,375.17 L819.1,375.8 L820.6,376.44 L822.1,377.07 L823.6,377.7 L825.1,378.33 L826.6,378.96 L828.1,379.58 L829.6,380.21 L831.1,380.83 L832.6,381.45 L834.1,382.07 L835.6,382.68 L837.1,383.3 L838.6,383.91 L840.1,384.52 L841.6,385.13 L843.1,385.74 L844.6,386.34 L846.1,386.94 L847.6,387.54 L849.1,388.14 L850.6,388.74 L852.1,389.33 L853.6,389.92 L855.1,390.51 L856.6,391.1 L858.1,391.68 L859.6,392.27 L861.1,392.85 L862.6,393.42 L864.1,394 L865.6,394.57 L867.1,395.14 L868.6,395.71 L870.1,396.28 L871.6,396.84 L873.1,397.4 L874.6,397.96 L876.1,398.51 L877.6,399.07 L879.1,399.62 L880.6,400.17 L882.1,400.71 L883.6,401.25 L885.1,401.8 L886.6,402.34 L888.1,402.87 L889.6,403.41 L891.1,403.94 L892.6,404.47 L894.1,405 L895.6,405.53 L897.1,406.05 L898.6,406.57 L900.1,407.1 L901.6,407.61 L903.1,408.13 L904.6,408.65 L906.1,409.16 L907.6,409.68 L909.1,410.19 L910.6,410.7 L912.1,411.2 L913.6,411.71 L915.1,412.22 L916.6,412.72 L918.1,413.22 L919.6,413.72 L921.1,414.22 L922.6,414.72 L924.1,415.22 L925.6,415.72 L927.1,416.21 L928.6,416.71 L930.1,417.2 L931.6,417.7 L933.1,418.19 L934.6,418.68 L936.1,419.17 L937.6,419.66 L939.1,420.15 L940.6,420.64 L942.1,421.13 L943.6,421.61 L945.1,422.1 L946.6,422.59 L948.1,423.07 L949.6,423.56 L951.1,424.04 L952.6,424.53 L954.1,425.01 L955.6,425.5 L957.1,425.98 L958.6,426.46 L960.1,426.95 L961.5,427.4" fill="none" stroke="#000" stroke-width="2.15" stroke-linejoin="round"/>
<ellipse cx="607.6" cy="285.9" rx="4.75" ry="5.35" fill="#000"/>
<ellipse cx="695.9" cy="321.3" rx="4.75" ry="5.35" fill="#000"/>
<ellipse cx="784.8" cy="360.9" rx="4.75" ry="5.35" fill="#000"/>
<ellipse cx="873.1" cy="397.4" rx="4.75" ry="5.35" fill="#000"/>
<ellipse cx="961.5" cy="427.4" rx="4.75" ry="5.35" fill="#000"/>
<path d="M65.8,533.1V974.9M51.8,961.1H494.7M51.8,533.1H65.8M58.8,568.77H65.8M51.8,604.43H65.8M58.8,640.1H65.8M51.8,675.77H65.8M58.8,711.43H65.8M51.8,747.1H65.8M58.8,782.77H65.8M51.8,818.43H65.8M58.8,854.1H65.8M51.8,889.76H65.8M58.8,925.43H65.8M51.8,961.1H65.8M65.8,961.1V974.9M108.69,961.1V967.6M151.58,961.1V974.9M194.47,961.1V967.6M237.36,961.1V974.9M280.25,961.1V967.6M323.14,961.1V974.9M366.03,961.1V967.6M408.92,961.1V974.9M451.81,961.1V967.6M494.7,961.1V974.9" fill="none" stroke="#000" stroke-width="3.15"/>
<text x="44.8" y="542.1" font-size="18.3" text-anchor="end">5</text>
<text x="44.8" y="613.43" font-size="18.3" text-anchor="end">4</text>
<text x="44.8" y="684.77" font-size="18.3" text-anchor="end">3</text>
<text x="44.8" y="756.1" font-size="18.3" text-anchor="end">2</text>
<text x="44.8" y="827.43" font-size="18.3" text-anchor="end">1</text>
<text x="44.8" y="898.76" font-size="18.3" text-anchor="end">0</text>
<text x="44.8" y="970.1" font-size="18.3" text-anchor="end">-1</text>
<text x="65.8" y="1002.5" font-size="19.2" text-anchor="middle">0</text>
<text x="151.58" y="1002.5" font-size="19.2" text-anchor="middle">1</text>
<text x="237.36" y="1002.5" font-size="19.2" text-anchor="middle">2</text>
<text x="323.14" y="1002.5" font-size="19.2" text-anchor="middle">3</text>
<text x="408.92" y="1002.5" font-size="19.2" text-anchor="middle">4</text>
<text x="494.7" y="1002.5" font-size="19.2" text-anchor="middle">5</text>
<path d="M84.1,604 L85.6,610.15 L87.1,615.82 L88.6,621.07 L90.1,625.95 L91.6,630.51 L93.1,634.8 L94.6,638.84 L96.1,642.65 L97.6,646.26 L99.1,649.69 L100.6,652.96 L102.1,656.08 L103.6,659.06 L105.1,661.91 L106.6,664.65 L108.1,667.27 L109.6,669.8 L111.1,672.23 L112.6,674.58 L114.1,676.85 L115.6,679.04 L117.1,681.17 L118.6,683.23 L120.1,685.23 L121.6,687.17 L123.1,689.06 L124.6,690.9 L126.1,692.7 L127.6,694.45 L129.1,696.16 L130.6,697.82 L132.1,699.45 L133.6,701.05 L135.1,702.61 L136.6,704.14 L138.1,705.64 L139.6,707.1 L141.1,708.54 L142.6,709.96 L144.1,711.34 L145.6,712.71 L147.1,714.04 L148.6,715.36 L150.1,716.66 L151.6,717.93 L153.1,719.18 L154.6,720.42 L156.1,721.63 L157.6,722.83 L159.1,724.01 L160.6,725.17 L162.1,726.31 L163.6,727.44 L165.1,728.55 L166.6,729.64 L168.1,730.72 L169.6,731.79 L171.1,732.83 L172.6,733.87 L174.1,734.89 L175.6,735.89 L177.1,736.89 L178.6,737.86 L180.1,738.83 L181.6,739.78 L183.1,740.72 L184.6,741.65 L186.1,742.56 L187.6,743.47 L189.1,744.36 L190.6,745.24 L192.1,746.11 L193.6,746.97 L195.1,747.82 L196.6,748.65 L198.1,749.48 L199.6,750.3 L201.1,751.11 L202.6,751.9 L204.1,752.69 L205.6,753.47 L207.1,754.24 L208.6,755 L210.1,755.75 L211.6,756.49 L213.1,757.23 L214.6,757.96 L216.1,758.67 L217.6,759.38 L219.1,760.08 L220.6,760.78 L222.1,761.46 L223.6,762.14 L225.1,762.81 L226.6,763.48 L228.1,764.14 L229.6,764.78 L231.1,765.43 L232.6,766.06 L234.1,766.69 L235.6,767.31 L237.1,767.93 L238.6,768.54 L240.1,769.14 L241.6,769.74 L243.1,770.33 L244.6,770.92 L246.1,771.5 L247.6,772.07 L249.1,772.64 L250.6,773.2 L252.1,773.76 L253.6,774.32 L255.1,774.86 L256.6,775.41 L258.1,775.95 L259.6,776.48 L261.1,777.01 L262.6,777.54 L264.1,778.06 L265.6,778.58 L267.1,779.09 L268.6,779.6 L270.1,780.11 L271.6,780.61 L273.1,781.11 L274.6,781.6 L276.1,782.09 L277.6,782.58 L279.1,783.06 L280.6,783.55 L282.1,784.02 L283.6,784.5 L285.1,784.97 L286.6,785.44 L288.1,785.91 L289.6,786.37 L291.1,786.83 L292.6,787.29 L294.1,787.74 L295.6,788.19 L297.1,788.64 L298.6,789.09 L300.1,789.53 L301.6,789.98 L303.1,790.42 L304.6,790.85 L306.1,791.29 L307.6,791.72 L309.1,792.15 L310.6,792.58 L312.1,793.01 L313.6,793.43 L315.1,793.85 L316.6,794.27 L318.1,794.69 L319.6,795.11 L321.1,795.52 L322.6,795.93 L324.1,796.35 L325.6,796.75 L327.1,797.16 L328.6,797.57 L330.1,797.97 L331.6,798.37 L333.1,798.77 L334.6,799.17 L336.1,799.57 L337.6,799.96 L339.1,800.36 L340.6,800.75 L342.1,801.14 L343.6,801.53 L345.1,801.91 L346.6,802.3 L348.1,802.68 L349.6,803.06 L351.1,803.44 L352.6,803.82 L354.1,804.2 L355.6,804.57 L357.1,804.95 L358.6,805.32 L360.1,805.69 L361.6,806.06 L363.1,806.43 L364.6,806.8 L366.1,807.16 L367.6,807.52 L369.1,807.89 L370.6,808.25 L372.1,808.61 L373.6,808.96 L375.1,809.32 L376.6,809.68 L378.1,810.03 L379.6,810.38 L381.1,810.73 L382.6,811.08 L384.1,811.43 L385.6,811.78 L387.1,812.12 L388.6,812.47 L390.1,812.81 L391.6,813.15 L393.1,813.49 L394.6,813.83 L396.1,814.17 L397.6,814.5 L399.1,814.84 L400.6,815.17 L402.1,815.5 L403.6,815.84 L405.1,816.17 L406.6,816.49 L408.1,816.82 L409.6,817.15 L411.1,817.47 L412.6,817.8 L414.1,818.12 L415.6,818.44 L417.1,818.76 L418.6,819.08 L420.1,819.4 L421.6,819.72 L423.1,820.03 L424.6,820.35 L426.1,820.66 L427.6,820.97 L429.1,821.28 L430.6,821.59 L432.1,821.9 L433.6,822.21 L435.1,822.52 L436.6,822.82 L438.1,823.12 L439.6,823.43 L441.1,823.73 L442.6,824.03 L444.1,824.33 L445.6,824.63 L447.1,824.93 L448.6,825.22 L450.1,825.52 L451.6,825.81 L453.1,826.11 L454.6,826.4 L456.1,826.69 L457.6,826.98 L459.1,827.27 L460.6,827.56 L462.1,827.85 L463.6,828.13 L465.1,828.42 L466.6,828.7 L468.1,828.98 L469.6,829.27 L471.1,829.55 L472.6,829.83 L474.1,830.11 L475.6,830.38 L477.1,830.66 L478.6,830.94 L480.1,831.21 L481.6,831.49 L483.1,831.76 L484.6,832.03 L486.1,832.3 L487.6,832.57 L489.1,832.84 L490.6,833.11 L492.1,833.38 L493.6,833.65 L495.1,833.91 L495.6,834" fill="none" stroke="#000" stroke-width="2.0" stroke-linejoin="round"/>
<path d="M84.1,598.3L89.8,604L84.1,609.7L78.4,604Z" fill="#fff" stroke="#000" stroke-width="1.8" stroke-linejoin="round"/>
<path d="M109.6,664.1L115.3,669.8L109.6,675.5L103.9,669.8Z" fill="#fff" stroke="#000" stroke-width="1.8" stroke-linejoin="round"/>
<path d="M153,713.4L158.7,719.1L153,724.8L147.3,719.1Z" fill="#fff" stroke="#000" stroke-width="1.8" stroke-linejoin="round"/>
<path d="M238.5,762.8L244.2,768.5L238.5,774.2L232.8,768.5Z" fill="#fff" stroke="#000" stroke-width="1.8" stroke-linejoin="round"/>
<path d="M324.3,790.7L330,796.4L324.3,802.1L318.6,796.4Z" fill="#fff" stroke="#000" stroke-width="1.8" stroke-linejoin="round"/>
<path d="M410.3,811.6L416,817.3L410.3,823L404.6,817.3Z" fill="#fff" stroke="#000" stroke-width="1.8" stroke-linejoin="round"/>
<path d="M495.6,828.3L501.3,834L495.6,839.7L489.9,834Z" fill="#fff" stroke="#000" stroke-width="1.8" stroke-linejoin="round"/>
<path d="M84.1,686.4 L85.6,687.88 L87.1,689.25 L88.6,690.54 L90.1,691.78 L91.6,692.97 L93.1,694.13 L94.6,695.25 L96.1,696.35 L97.6,697.44 L99.1,698.51 L100.6,699.56 L102.1,700.6 L103.6,701.64 L105.1,702.66 L106.6,703.68 L108.1,704.69 L109.6,705.7 L111.1,706.7 L112.6,707.7 L114.1,708.69 L115.6,709.67 L117.1,710.65 L118.6,711.63 L120.1,712.6 L121.6,713.56 L123.1,714.52 L124.6,715.48 L126.1,716.43 L127.6,717.38 L129.1,718.32 L130.6,719.26 L132.1,720.2 L133.6,721.13 L135.1,722.06 L136.6,722.98 L138.1,723.9 L139.6,724.81 L141.1,725.72 L142.6,726.63 L144.1,727.53 L145.6,728.43 L147.1,729.32 L148.6,730.21 L150.1,731.1 L151.6,731.98 L153.1,732.86 L154.6,733.73 L156.1,734.6 L157.6,735.47 L159.1,736.33 L160.6,737.19 L162.1,738.04 L163.6,738.89 L165.1,739.73 L166.6,740.56 L168.1,741.39 L169.6,742.21 L171.1,743.03 L172.6,743.84 L174.1,744.64 L175.6,745.44 L177.1,746.23 L178.6,747.01 L180.1,747.79 L181.6,748.56 L183.1,749.33 L184.6,750.08 L186.1,750.84 L187.6,751.58 L189.1,752.32 L190.6,753.05 L192.1,753.78 L193.6,754.49 L195.1,755.21 L196.6,755.91 L198.1,756.61 L199.6,757.31 L201.1,757.99 L202.6,758.67 L204.1,759.35 L205.6,760.01 L207.1,760.68 L208.6,761.33 L210.1,761.98 L211.6,762.63 L213.1,763.26 L214.6,763.89 L216.1,764.52 L217.6,765.14 L219.1,765.75 L220.6,766.36 L222.1,766.97 L223.6,767.56 L225.1,768.15 L226.6,768.74 L228.1,769.32 L229.6,769.9 L231.1,770.47 L232.6,771.03 L234.1,771.59 L235.6,772.14 L237.1,772.69 L238.6,773.24 L240.1,773.77 L241.6,774.31 L243.1,774.84 L244.6,775.36 L246.1,775.88 L247.6,776.4 L249.1,776.91 L250.6,777.42 L252.1,777.92 L253.6,778.42 L255.1,778.91 L256.6,779.41 L258.1,779.9 L259.6,780.38 L261.1,780.86 L262.6,781.34 L264.1,781.82 L265.6,782.29 L267.1,782.76 L268.6,783.22 L270.1,783.69 L271.6,784.15 L273.1,784.6 L274.6,785.06 L276.1,785.51 L277.6,785.96 L279.1,786.41 L280.6,786.85 L282.1,787.3 L283.6,787.74 L285.1,788.18 L286.6,788.61 L288.1,789.05 L289.6,789.48 L291.1,789.91 L292.6,790.34 L294.1,790.76 L295.6,791.19 L297.1,791.61 L298.6,792.03 L300.1,792.45 L301.6,792.87 L303.1,793.28 L304.6,793.7 L306.1,794.11 L307.6,794.52 L309.1,794.93 L310.6,795.34 L312.1,795.74 L313.6,796.15 L315.1,796.55 L316.6,796.95 L318.1,797.36 L319.6,797.76 L321.1,798.15 L322.6,798.55 L324.1,798.95 L325.6,799.34 L327.1,799.74 L328.6,800.13 L330.1,800.52 L331.6,800.91 L333.1,801.3 L334.6,801.69 L336.1,802.07 L337.6,802.46 L339.1,802.84 L340.6,803.22 L342.1,803.6 L343.6,803.98 L345.1,804.36 L346.6,804.74 L348.1,805.11 L349.6,805.48 L351.1,805.86 L352.6,806.23 L354.1,806.6 L355.6,806.96 L357.1,807.33 L358.6,807.69 L360.1,808.06 L361.6,808.42 L363.1,808.78 L364.6,809.14 L366.1,809.49 L367.6,809.85 L369.1,810.2 L370.6,810.56 L372.1,810.91 L373.6,811.26 L375.1,811.6 L376.6,811.95 L378.1,812.29 L379.6,812.64 L381.1,812.98 L382.6,813.32 L384.1,813.65 L385.6,813.99 L387.1,814.33 L388.6,814.66 L390.1,814.99 L391.6,815.32 L393.1,815.65 L394.6,815.98 L396.1,816.3 L397.6,816.62 L399.1,816.95 L400.6,817.27 L402.1,817.59 L403.6,817.9 L405.1,818.22 L406.6,818.53 L408.1,818.84 L409.6,819.16 L411.1,819.46 L412.6,819.77 L414.1,820.08 L415.6,820.38 L417.1,820.69 L418.6,820.99 L420.1,821.29 L421.6,821.59 L423.1,821.88 L424.6,822.18 L426.1,822.47 L427.6,822.77 L429.1,823.06 L430.6,823.35 L432.1,823.64 L433.6,823.92 L435.1,824.21 L436.6,824.49 L438.1,824.78 L439.6,825.06 L441.1,825.34 L442.6,825.62 L444.1,825.9 L445.6,826.18 L447.1,826.45 L448.6,826.73 L450.1,827 L451.6,827.27 L453.1,827.54 L454.6,827.81 L456.1,828.08 L457.6,828.35 L459.1,828.62 L460.6,828.88 L462.1,829.15 L463.6,829.41 L465.1,829.67 L466.6,829.94 L468.1,830.2 L469.6,830.46 L471.1,830.71 L472.6,830.97 L474.1,831.23 L475.6,831.48 L477.1,831.74 L478.6,831.99 L480.1,832.24 L481.6,832.5 L483.1,832.75 L484.6,833 L486.1,833.24 L487.6,833.49 L489.1,833.74 L490.6,833.99 L492.1,834.23 L493.6,834.48 L495.1,834.72 L495.6,834.8" fill="none" stroke="#000" stroke-width="2.0" stroke-linejoin="round"/>
<path d="M84.1,680.7L89.8,686.4L84.1,692.1L78.4,686.4Z" fill="#fff" stroke="#000" stroke-width="1.8" stroke-linejoin="round"/>
<path d="M109.6,700L115.3,705.7L109.6,711.4L103.9,705.7Z" fill="#fff" stroke="#000" stroke-width="1.8" stroke-linejoin="round"/>
<path d="M153,727.1L158.7,732.8L153,738.5L147.3,732.8Z" fill="#fff" stroke="#000" stroke-width="1.8" stroke-linejoin="round"/>
<path d="M238.5,767.5L244.2,773.2L238.5,778.9L232.8,773.2Z" fill="#fff" stroke="#000" stroke-width="1.8" stroke-linejoin="round"/>
<path d="M324.3,793.3L330,799L324.3,804.7L318.6,799Z" fill="#fff" stroke="#000" stroke-width="1.8" stroke-linejoin="round"/>
<path d="M410.3,813.6L416,819.3L410.3,825L404.6,819.3Z" fill="#fff" stroke="#000" stroke-width="1.8" stroke-linejoin="round"/>
<path d="M495.6,829.1L501.3,834.8L495.6,840.5L489.9,834.8Z" fill="#fff" stroke="#000" stroke-width="1.8" stroke-linejoin="round"/>
<path d="M84.1,706.7 L85.6,707.77 L87.1,708.78 L88.6,709.72 L90.1,710.63 L91.6,711.5 L93.1,712.35 L94.6,713.18 L96.1,714 L97.6,714.8 L99.1,715.6 L100.6,716.39 L102.1,717.17 L103.6,717.94 L105.1,718.71 L106.6,719.48 L108.1,720.24 L109.6,721 L111.1,721.76 L112.6,722.51 L114.1,723.26 L115.6,724.02 L117.1,724.76 L118.6,725.51 L120.1,726.26 L121.6,727.01 L123.1,727.75 L124.6,728.5 L126.1,729.25 L127.6,729.99 L129.1,730.73 L130.6,731.48 L132.1,732.22 L133.6,732.96 L135.1,733.7 L136.6,734.44 L138.1,735.19 L139.6,735.93 L141.1,736.66 L142.6,737.4 L144.1,738.14 L145.6,738.88 L147.1,739.61 L148.6,740.35 L150.1,741.08 L151.6,741.82 L153.1,742.55 L154.6,743.28 L156.1,744.01 L157.6,744.74 L159.1,745.47 L160.6,746.19 L162.1,746.91 L163.6,747.63 L165.1,748.34 L166.6,749.06 L168.1,749.76 L169.6,750.47 L171.1,751.17 L172.6,751.86 L174.1,752.56 L175.6,753.24 L177.1,753.93 L178.6,754.61 L180.1,755.28 L181.6,755.95 L183.1,756.62 L184.6,757.28 L186.1,757.93 L187.6,758.58 L189.1,759.23 L190.6,759.87 L192.1,760.51 L193.6,761.14 L195.1,761.77 L196.6,762.39 L198.1,763.01 L199.6,763.62 L201.1,764.23 L202.6,764.83 L204.1,765.43 L205.6,766.02 L207.1,766.61 L208.6,767.2 L210.1,767.78 L211.6,768.35 L213.1,768.92 L214.6,769.49 L216.1,770.05 L217.6,770.6 L219.1,771.16 L220.6,771.7 L222.1,772.25 L223.6,772.79 L225.1,773.32 L226.6,773.85 L228.1,774.37 L229.6,774.9 L231.1,775.41 L232.6,775.92 L234.1,776.43 L235.6,776.94 L237.1,777.44 L238.6,777.93 L240.1,778.42 L241.6,778.91 L243.1,779.4 L244.6,779.88 L246.1,780.35 L247.6,780.83 L249.1,781.3 L250.6,781.76 L252.1,782.23 L253.6,782.69 L255.1,783.14 L256.6,783.6 L258.1,784.05 L259.6,784.5 L261.1,784.94 L262.6,785.39 L264.1,785.83 L265.6,786.27 L267.1,786.7 L268.6,787.13 L270.1,787.57 L271.6,787.99 L273.1,788.42 L274.6,788.85 L276.1,789.27 L277.6,789.69 L279.1,790.11 L280.6,790.52 L282.1,790.94 L283.6,791.35 L285.1,791.76 L286.6,792.17 L288.1,792.58 L289.6,792.99 L291.1,793.39 L292.6,793.79 L294.1,794.19 L295.6,794.59 L297.1,794.99 L298.6,795.39 L300.1,795.79 L301.6,796.18 L303.1,796.57 L304.6,796.96 L306.1,797.35 L307.6,797.74 L309.1,798.13 L310.6,798.52 L312.1,798.9 L313.6,799.29 L315.1,799.67 L316.6,800.05 L318.1,800.44 L319.6,800.82 L321.1,801.19 L322.6,801.57 L324.1,801.95 L325.6,802.33 L327.1,802.7 L328.6,803.08 L330.1,803.45 L331.6,803.82 L333.1,804.19 L334.6,804.56 L336.1,804.93 L337.6,805.3 L339.1,805.66 L340.6,806.03 L342.1,806.39 L343.6,806.76 L345.1,807.12 L346.6,807.48 L348.1,807.83 L349.6,808.19 L351.1,808.55 L352.6,808.9 L354.1,809.25 L355.6,809.6 L357.1,809.95 L358.6,810.3 L360.1,810.65 L361.6,810.99 L363.1,811.34 L364.6,811.68 L366.1,812.02 L367.6,812.36 L369.1,812.7 L370.6,813.03 L372.1,813.36 L373.6,813.7 L375.1,814.03 L376.6,814.36 L378.1,814.68 L379.6,815.01 L381.1,815.33 L382.6,815.66 L384.1,815.98 L385.6,816.3 L387.1,816.61 L388.6,816.93 L390.1,817.24 L391.6,817.55 L393.1,817.86 L394.6,818.17 L396.1,818.48 L397.6,818.79 L399.1,819.09 L400.6,819.39 L402.1,819.69 L403.6,819.99 L405.1,820.29 L406.6,820.58 L408.1,820.87 L409.6,821.16 L411.1,821.45 L412.6,821.74 L414.1,822.03 L415.6,822.31 L417.1,822.6 L418.6,822.88 L420.1,823.16 L421.6,823.43 L423.1,823.71 L424.6,823.99 L426.1,824.26 L427.6,824.53 L429.1,824.8 L430.6,825.07 L432.1,825.34 L433.6,825.6 L435.1,825.87 L436.6,826.13 L438.1,826.39 L439.6,826.66 L441.1,826.92 L442.6,827.17 L444.1,827.43 L445.6,827.69 L447.1,827.94 L448.6,828.19 L450.1,828.45 L451.6,828.7 L453.1,828.95 L454.6,829.19 L456.1,829.44 L457.6,829.69 L459.1,829.93 L460.6,830.18 L462.1,830.42 L463.6,830.66 L465.1,830.9 L466.6,831.14 L468.1,831.38 L469.6,831.62 L471.1,831.86 L472.6,832.09 L474.1,832.33 L475.6,832.56 L477.1,832.8 L478.6,833.03 L480.1,833.26 L481.6,833.49 L483.1,833.72 L484.6,833.95 L486.1,834.18 L487.6,834.4 L489.1,834.63 L490.6,834.85 L492.1,835.08 L493.6,835.3 L495.1,835.53 L495.6,835.6" fill="none" stroke="#000" stroke-width="2.0" stroke-linejoin="round"/>
<path d="M84.1,701L89.8,706.7L84.1,712.4L78.4,706.7Z" fill="#fff" stroke="#000" stroke-width="1.8" stroke-linejoin="round"/>
<path d="M109.6,715.3L115.3,721L109.6,726.7L103.9,721Z" fill="#fff" stroke="#000" stroke-width="1.8" stroke-linejoin="round"/>
<path d="M153,736.8L158.7,742.5L153,748.2L147.3,742.5Z" fill="#fff" stroke="#000" stroke-width="1.8" stroke-linejoin="round"/>
<path d="M238.5,772.2L244.2,777.9L238.5,783.6L232.8,777.9Z" fill="#fff" stroke="#000" stroke-width="1.8" stroke-linejoin="round"/>
<path d="M324.3,796.3L330,802L324.3,807.7L318.6,802Z" fill="#fff" stroke="#000" stroke-width="1.8" stroke-linejoin="round"/>
<path d="M410.3,815.6L416,821.3L410.3,827L404.6,821.3Z" fill="#fff" stroke="#000" stroke-width="1.8" stroke-linejoin="round"/>
<path d="M495.6,829.9L501.3,835.6L495.6,841.3L489.9,835.6Z" fill="#fff" stroke="#000" stroke-width="1.8" stroke-linejoin="round"/>
<path d="M84.1,729.1 L85.6,729.78 L87.1,730.42 L88.6,731.02 L90.1,731.6 L91.6,732.17 L93.1,732.72 L94.6,733.27 L96.1,733.81 L97.6,734.35 L99.1,734.88 L100.6,735.41 L102.1,735.94 L103.6,736.48 L105.1,737.01 L106.6,737.54 L108.1,738.07 L109.6,738.6 L111.1,739.13 L112.6,739.66 L114.1,740.2 L115.6,740.73 L117.1,741.27 L118.6,741.81 L120.1,742.35 L121.6,742.89 L123.1,743.43 L124.6,743.97 L126.1,744.52 L127.6,745.07 L129.1,745.61 L130.6,746.16 L132.1,746.72 L133.6,747.27 L135.1,747.82 L136.6,748.38 L138.1,748.93 L139.6,749.49 L141.1,750.05 L142.6,750.61 L144.1,751.17 L145.6,751.73 L147.1,752.29 L148.6,752.85 L150.1,753.41 L151.6,753.97 L153.1,754.54 L154.6,755.1 L156.1,755.66 L157.6,756.23 L159.1,756.79 L160.6,757.35 L162.1,757.91 L163.6,758.47 L165.1,759.03 L166.6,759.59 L168.1,760.14 L169.6,760.7 L171.1,761.25 L172.6,761.8 L174.1,762.34 L175.6,762.89 L177.1,763.43 L178.6,763.97 L180.1,764.51 L181.6,765.05 L183.1,765.58 L184.6,766.11 L186.1,766.64 L187.6,767.16 L189.1,767.68 L190.6,768.2 L192.1,768.72 L193.6,769.23 L195.1,769.74 L196.6,770.25 L198.1,770.76 L199.6,771.26 L201.1,771.76 L202.6,772.26 L204.1,772.75 L205.6,773.24 L207.1,773.73 L208.6,774.21 L210.1,774.7 L211.6,775.18 L213.1,775.65 L214.6,776.13 L216.1,776.6 L217.6,777.06 L219.1,777.53 L220.6,777.99 L222.1,778.45 L223.6,778.91 L225.1,779.36 L226.6,779.81 L228.1,780.26 L229.6,780.71 L231.1,781.15 L232.6,781.59 L234.1,782.03 L235.6,782.47 L237.1,782.9 L238.6,783.33 L240.1,783.76 L241.6,784.18 L243.1,784.6 L244.6,785.02 L246.1,785.44 L247.6,785.86 L249.1,786.27 L250.6,786.68 L252.1,787.09 L253.6,787.5 L255.1,787.9 L256.6,788.31 L258.1,788.71 L259.6,789.11 L261.1,789.51 L262.6,789.9 L264.1,790.3 L265.6,790.69 L267.1,791.08 L268.6,791.47 L270.1,791.86 L271.6,792.25 L273.1,792.64 L274.6,793.02 L276.1,793.41 L277.6,793.79 L279.1,794.17 L280.6,794.55 L282.1,794.93 L283.6,795.3 L285.1,795.68 L286.6,796.06 L288.1,796.43 L289.6,796.8 L291.1,797.18 L292.6,797.55 L294.1,797.92 L295.6,798.29 L297.1,798.66 L298.6,799.02 L300.1,799.39 L301.6,799.76 L303.1,800.12 L304.6,800.49 L306.1,800.85 L307.6,801.21 L309.1,801.57 L310.6,801.93 L312.1,802.29 L313.6,802.65 L315.1,803.01 L316.6,803.37 L318.1,803.73 L319.6,804.09 L321.1,804.44 L322.6,804.8 L324.1,805.15 L325.6,805.51 L327.1,805.86 L328.6,806.21 L330.1,806.57 L331.6,806.92 L333.1,807.27 L334.6,807.62 L336.1,807.97 L337.6,808.31 L339.1,808.66 L340.6,809.01 L342.1,809.35 L343.6,809.7 L345.1,810.04 L346.6,810.38 L348.1,810.72 L349.6,811.06 L351.1,811.39 L352.6,811.73 L354.1,812.06 L355.6,812.4 L357.1,812.73 L358.6,813.06 L360.1,813.39 L361.6,813.71 L363.1,814.04 L364.6,814.36 L366.1,814.69 L367.6,815.01 L369.1,815.32 L370.6,815.64 L372.1,815.96 L373.6,816.27 L375.1,816.58 L376.6,816.9 L378.1,817.2 L379.6,817.51 L381.1,817.82 L382.6,818.12 L384.1,818.42 L385.6,818.72 L387.1,819.02 L388.6,819.32 L390.1,819.61 L391.6,819.91 L393.1,820.2 L394.6,820.49 L396.1,820.77 L397.6,821.06 L399.1,821.34 L400.6,821.62 L402.1,821.9 L403.6,822.18 L405.1,822.46 L406.6,822.73 L408.1,823 L409.6,823.27 L411.1,823.54 L412.6,823.81 L414.1,824.07 L415.6,824.34 L417.1,824.6 L418.6,824.86 L420.1,825.11 L421.6,825.37 L423.1,825.63 L424.6,825.88 L426.1,826.13 L427.6,826.38 L429.1,826.63 L430.6,826.87 L432.1,827.12 L433.6,827.36 L435.1,827.6 L436.6,827.84 L438.1,828.08 L439.6,828.32 L441.1,828.56 L442.6,828.79 L444.1,829.02 L445.6,829.26 L447.1,829.49 L448.6,829.72 L450.1,829.95 L451.6,830.17 L453.1,830.4 L454.6,830.62 L456.1,830.85 L457.6,831.07 L459.1,831.29 L460.6,831.51 L462.1,831.73 L463.6,831.95 L465.1,832.17 L466.6,832.39 L468.1,832.6 L469.6,832.82 L471.1,833.03 L472.6,833.24 L474.1,833.46 L475.6,833.67 L477.1,833.88 L478.6,834.09 L480.1,834.29 L481.6,834.5 L483.1,834.71 L484.6,834.91 L486.1,835.12 L487.6,835.32 L489.1,835.53 L490.6,835.73 L492.1,835.93 L493.6,836.13 L495.1,836.33 L495.6,836.4" fill="none" stroke="#000" stroke-width="2.0" stroke-linejoin="round"/>
<path d="M84.1,723.4L89.8,729.1L84.1,734.8L78.4,729.1Z" fill="#fff" stroke="#000" stroke-width="1.8" stroke-linejoin="round"/>
<path d="M109.6,732.9L115.3,738.6L109.6,744.3L103.9,738.6Z" fill="#fff" stroke="#000" stroke-width="1.8" stroke-linejoin="round"/>
<path d="M153,748.8L158.7,754.5L153,760.2L147.3,754.5Z" fill="#fff" stroke="#000" stroke-width="1.8" stroke-linejoin="round"/>
<path d="M238.5,777.6L244.2,783.3L238.5,789L232.8,783.3Z" fill="#fff" stroke="#000" stroke-width="1.8" stroke-linejoin="round"/>
<path d="M324.3,799.5L330,805.2L324.3,810.9L318.6,805.2Z" fill="#fff" stroke="#000" stroke-width="1.8" stroke-linejoin="round"/>
<path d="M410.3,817.7L416,823.4L410.3,829.1L404.6,823.4Z" fill="#fff" stroke="#000" stroke-width="1.8" stroke-linejoin="round"/>
<path d="M495.6,830.7L501.3,836.4L495.6,842.1L489.9,836.4Z" fill="#fff" stroke="#000" stroke-width="1.8" stroke-linejoin="round"/>
<path d="M84.1,710.3 L85.6,716.28 L87.1,721.8 L88.6,726.91 L90.1,731.67 L91.6,736.14 L93.1,740.34 L94.6,744.3 L96.1,748.06 L97.6,751.63 L99.1,755.03 L100.6,758.28 L102.1,761.39 L103.6,764.37 L105.1,767.23 L106.6,769.98 L108.1,772.64 L109.6,775.2 L111.1,777.68 L112.6,780.07 L114.1,782.39 L115.6,784.63 L117.1,786.81 L118.6,788.92 L120.1,790.98 L121.6,792.97 L123.1,794.91 L124.6,796.8 L126.1,798.64 L127.6,800.43 L129.1,802.17 L130.6,803.88 L132.1,805.54 L133.6,807.16 L135.1,808.74 L136.6,810.29 L138.1,811.8 L139.6,813.28 L141.1,814.73 L142.6,816.14 L144.1,817.53 L145.6,818.89 L147.1,820.22 L148.6,821.52 L150.1,822.8 L151.6,824.05 L153.1,825.28 L154.6,826.49 L156.1,827.67 L157.6,828.83 L159.1,829.97 L160.6,831.1 L162.1,832.2 L163.6,833.29 L165.1,834.35 L166.6,835.4 L168.1,836.44 L169.6,837.46 L171.1,838.46 L172.6,839.45 L174.1,840.43 L175.6,841.39 L177.1,842.34 L178.6,843.27 L180.1,844.2 L181.6,845.11 L183.1,846.01 L184.6,846.9 L186.1,847.78 L187.6,848.64 L189.1,849.5 L190.6,850.35 L192.1,851.19 L193.6,852.02 L195.1,852.84 L196.6,853.65 L198.1,854.45 L199.6,855.24 L201.1,856.03 L202.6,856.81 L204.1,857.58 L205.6,858.34 L207.1,859.1 L208.6,859.85 L210.1,860.59 L211.6,861.32 L213.1,862.05 L214.6,862.77 L216.1,863.49 L217.6,864.19 L219.1,864.9 L220.6,865.59 L222.1,866.29 L223.6,866.97 L225.1,867.65 L226.6,868.33 L228.1,869 L229.6,869.66 L231.1,870.32 L232.6,870.97 L234.1,871.62 L235.6,872.27 L237.1,872.91 L238.6,873.54 L240.1,874.17 L241.6,874.8 L243.1,875.42 L244.6,876.04 L246.1,876.65 L247.6,877.26 L249.1,877.87 L250.6,878.46 L252.1,879.06 L253.6,879.65 L255.1,880.24 L256.6,880.82 L258.1,881.4 L259.6,881.97 L261.1,882.54 L262.6,883.11 L264.1,883.67 L265.6,884.23 L267.1,884.78 L268.6,885.33 L270.1,885.87 L271.6,886.41 L273.1,886.95 L274.6,887.48 L276.1,888.01 L277.6,888.53 L279.1,889.05 L280.6,889.57 L282.1,890.08 L283.6,890.59 L285.1,891.1 L286.6,891.6 L288.1,892.09 L289.6,892.59 L291.1,893.08 L292.6,893.56 L294.1,894.05 L295.6,894.52 L297.1,895 L298.6,895.47 L300.1,895.94 L301.6,896.4 L303.1,896.86 L304.6,897.32 L306.1,897.77 L307.6,898.22 L309.1,898.67 L310.6,899.11 L312.1,899.55 L313.6,899.99 L315.1,900.42 L316.6,900.85 L318.1,901.27 L319.6,901.7 L321.1,902.12 L322.6,902.53 L324.1,902.95 L325.6,903.36 L327.1,903.76 L328.6,904.17 L330.1,904.57 L331.6,904.96 L333.1,905.36 L334.6,905.75 L336.1,906.14 L337.6,906.53 L339.1,906.91 L340.6,907.29 L342.1,907.67 L343.6,908.05 L345.1,908.42 L346.6,908.79 L348.1,909.16 L349.6,909.53 L351.1,909.9 L352.6,910.26 L354.1,910.62 L355.6,910.98 L357.1,911.34 L358.6,911.69 L360.1,912.05 L361.6,912.4 L363.1,912.75 L364.6,913.09 L366.1,913.44 L367.6,913.78 L369.1,914.13 L370.6,914.47 L372.1,914.81 L373.6,915.14 L375.1,915.48 L376.6,915.82 L378.1,916.15 L379.6,916.48 L381.1,916.81 L382.6,917.14 L384.1,917.47 L385.6,917.79 L387.1,918.12 L388.6,918.44 L390.1,918.77 L391.6,919.09 L393.1,919.41 L394.6,919.73 L396.1,920.04 L397.6,920.36 L399.1,920.68 L400.6,920.99 L402.1,921.3 L403.6,921.62 L405.1,921.93 L406.6,922.24 L408.1,922.55 L409.6,922.86 L411.1,923.16 L412.6,923.47 L414.1,923.78 L415.6,924.08 L417.1,924.39 L418.6,924.69 L420.1,924.99 L421.6,925.29 L423.1,925.59 L424.6,925.89 L426.1,926.19 L427.6,926.49 L429.1,926.78 L430.6,927.08 L432.1,927.37 L433.6,927.67 L435.1,927.96 L436.6,928.25 L438.1,928.54 L439.6,928.83 L441.1,929.12 L442.6,929.41 L444.1,929.7 L445.6,929.99 L447.1,930.27 L448.6,930.56 L450.1,930.84 L451.6,931.12 L453.1,931.4 L454.6,931.68 L456.1,931.96 L457.6,932.24 L459.1,932.52 L460.6,932.8 L462.1,933.07 L463.6,933.35 L465.1,933.62 L466.6,933.9 L468.1,934.17 L469.6,934.44 L471.1,934.71 L472.6,934.98 L474.1,935.25 L475.6,935.52 L477.1,935.78 L478.6,936.05 L480.1,936.31 L481.6,936.58 L483.1,936.84 L484.6,937.1 L486.1,937.37 L487.6,937.63 L489.1,937.89 L490.6,938.14 L492.1,938.4 L493.6,938.66 L495.1,938.91 L495.6,939" fill="none" stroke="#000" stroke-width="3.3" stroke-linejoin="round"/>
<ellipse cx="84.1" cy="710.3" rx="4.5" ry="4.6" fill="#fff" stroke="#000" stroke-width="1.8"/>
<ellipse cx="109.6" cy="775.2" rx="4.5" ry="4.6" fill="#fff" stroke="#000" stroke-width="1.8"/>
<ellipse cx="153" cy="825.2" rx="4.5" ry="4.6" fill="#fff" stroke="#000" stroke-width="1.8"/>
<ellipse cx="238.5" cy="873.5" rx="4.5" ry="4.6" fill="#fff" stroke="#000" stroke-width="1.8"/>
<ellipse cx="324.3" cy="903" rx="4.5" ry="4.6" fill="#fff" stroke="#000" stroke-width="1.8"/>
<ellipse cx="410.3" cy="923" rx="4.5" ry="4.6" fill="#fff" stroke="#000" stroke-width="1.8"/>
<ellipse cx="495.6" cy="939" rx="4.5" ry="4.6" fill="#fff" stroke="#000" stroke-width="1.8"/>
<path d="M84.1,753.7 L85.6,756.44 L87.1,758.98 L88.6,761.37 L90.1,763.64 L91.6,765.82 L93.1,767.93 L94.6,769.97 L96.1,771.96 L97.6,773.91 L99.1,775.83 L100.6,777.71 L102.1,779.56 L103.6,781.39 L105.1,783.19 L106.6,784.98 L108.1,786.75 L109.6,788.5 L111.1,790.24 L112.6,791.96 L114.1,793.66 L115.6,795.34 L117.1,797 L118.6,798.63 L120.1,800.24 L121.6,801.83 L123.1,803.39 L124.6,804.93 L126.1,806.44 L127.6,807.93 L129.1,809.39 L130.6,810.83 L132.1,812.24 L133.6,813.63 L135.1,815 L136.6,816.34 L138.1,817.66 L139.6,818.96 L141.1,820.23 L142.6,821.48 L144.1,822.72 L145.6,823.93 L147.1,825.12 L148.6,826.28 L150.1,827.43 L151.6,828.56 L153.1,829.67 L154.6,830.77 L156.1,831.84 L157.6,832.9 L159.1,833.94 L160.6,834.96 L162.1,835.97 L163.6,836.96 L165.1,837.94 L166.6,838.91 L168.1,839.86 L169.6,840.8 L171.1,841.73 L172.6,842.64 L174.1,843.54 L175.6,844.44 L177.1,845.32 L178.6,846.19 L180.1,847.05 L181.6,847.9 L183.1,848.74 L184.6,849.58 L186.1,850.4 L187.6,851.22 L189.1,852.02 L190.6,852.82 L192.1,853.61 L193.6,854.39 L195.1,855.17 L196.6,855.94 L198.1,856.7 L199.6,857.45 L201.1,858.19 L202.6,858.93 L204.1,859.67 L205.6,860.39 L207.1,861.12 L208.6,861.83 L210.1,862.54 L211.6,863.24 L213.1,863.94 L214.6,864.63 L216.1,865.32 L217.6,866 L219.1,866.67 L220.6,867.35 L222.1,868.01 L223.6,868.67 L225.1,869.33 L226.6,869.98 L228.1,870.63 L229.6,871.27 L231.1,871.91 L232.6,872.54 L234.1,873.17 L235.6,873.8 L237.1,874.42 L238.6,875.04 L240.1,875.66 L241.6,876.27 L243.1,876.87 L244.6,877.47 L246.1,878.07 L247.6,878.67 L249.1,879.26 L250.6,879.84 L252.1,880.43 L253.6,881.01 L255.1,881.58 L256.6,882.15 L258.1,882.72 L259.6,883.28 L261.1,883.84 L262.6,884.4 L264.1,884.95 L265.6,885.49 L267.1,886.04 L268.6,886.58 L270.1,887.11 L271.6,887.64 L273.1,888.17 L274.6,888.7 L276.1,889.22 L277.6,889.73 L279.1,890.25 L280.6,890.75 L282.1,891.26 L283.6,891.76 L285.1,892.26 L286.6,892.75 L288.1,893.24 L289.6,893.73 L291.1,894.21 L292.6,894.69 L294.1,895.17 L295.6,895.64 L297.1,896.11 L298.6,896.57 L300.1,897.03 L301.6,897.49 L303.1,897.94 L304.6,898.39 L306.1,898.84 L307.6,899.29 L309.1,899.73 L310.6,900.16 L312.1,900.6 L313.6,901.03 L315.1,901.45 L316.6,901.88 L318.1,902.3 L319.6,902.71 L321.1,903.13 L322.6,903.54 L324.1,903.95 L325.6,904.35 L327.1,904.75 L328.6,905.15 L330.1,905.54 L331.6,905.94 L333.1,906.33 L334.6,906.71 L336.1,907.1 L337.6,907.48 L339.1,907.85 L340.6,908.23 L342.1,908.6 L343.6,908.97 L345.1,909.34 L346.6,909.71 L348.1,910.07 L349.6,910.44 L351.1,910.8 L352.6,911.15 L354.1,911.51 L355.6,911.86 L357.1,912.21 L358.6,912.56 L360.1,912.91 L361.6,913.26 L363.1,913.6 L364.6,913.94 L366.1,914.28 L367.6,914.62 L369.1,914.96 L370.6,915.3 L372.1,915.63 L373.6,915.96 L375.1,916.29 L376.6,916.62 L378.1,916.95 L379.6,917.28 L381.1,917.6 L382.6,917.93 L384.1,918.25 L385.6,918.57 L387.1,918.89 L388.6,919.21 L390.1,919.53 L391.6,919.84 L393.1,920.16 L394.6,920.47 L396.1,920.79 L397.6,921.1 L399.1,921.41 L400.6,921.72 L402.1,922.03 L403.6,922.34 L405.1,922.64 L406.6,922.95 L408.1,923.25 L409.6,923.56 L411.1,923.86 L412.6,924.16 L414.1,924.47 L415.6,924.77 L417.1,925.07 L418.6,925.37 L420.1,925.66 L421.6,925.96 L423.1,926.26 L424.6,926.55 L426.1,926.85 L427.6,927.14 L429.1,927.43 L430.6,927.73 L432.1,928.02 L433.6,928.31 L435.1,928.6 L436.6,928.88 L438.1,929.17 L439.6,929.46 L441.1,929.74 L442.6,930.03 L444.1,930.31 L445.6,930.59 L447.1,930.88 L448.6,931.16 L450.1,931.44 L451.6,931.72 L453.1,931.99 L454.6,932.27 L456.1,932.55 L457.6,932.82 L459.1,933.1 L460.6,933.37 L462.1,933.64 L463.6,933.92 L465.1,934.19 L466.6,934.46 L468.1,934.73 L469.6,934.99 L471.1,935.26 L472.6,935.53 L474.1,935.79 L475.6,936.06 L477.1,936.32 L478.6,936.58 L480.1,936.85 L481.6,937.11 L483.1,937.37 L484.6,937.63 L486.1,937.88 L487.6,938.14 L489.1,938.4 L490.6,938.65 L492.1,938.91 L493.6,939.16 L495.1,939.42 L495.6,939.5" fill="none" stroke="#000" stroke-width="3.3" stroke-linejoin="round"/>
<ellipse cx="84.1" cy="753.7" rx="4.5" ry="4.6" fill="#fff" stroke="#000" stroke-width="1.8"/>
<ellipse cx="109.6" cy="788.5" rx="4.5" ry="4.6" fill="#fff" stroke="#000" stroke-width="1.8"/>
<ellipse cx="153" cy="829.6" rx="4.5" ry="4.6" fill="#fff" stroke="#000" stroke-width="1.8"/>
<ellipse cx="238.5" cy="875" rx="4.5" ry="4.6" fill="#fff" stroke="#000" stroke-width="1.8"/>
<ellipse cx="324.3" cy="904" rx="4.5" ry="4.6" fill="#fff" stroke="#000" stroke-width="1.8"/>
<ellipse cx="410.3" cy="923.7" rx="4.5" ry="4.6" fill="#fff" stroke="#000" stroke-width="1.8"/>
<ellipse cx="495.6" cy="939.5" rx="4.5" ry="4.6" fill="#fff" stroke="#000" stroke-width="1.8"/>
<path d="M84.1,770.3 L85.6,772.26 L87.1,774.09 L88.6,775.83 L90.1,777.5 L91.6,779.12 L93.1,780.71 L94.6,782.27 L96.1,783.82 L97.6,785.35 L99.1,786.87 L100.6,788.38 L102.1,789.89 L103.6,791.39 L105.1,792.9 L106.6,794.4 L108.1,795.9 L109.6,797.4 L111.1,798.9 L112.6,800.39 L114.1,801.88 L115.6,803.36 L117.1,804.82 L118.6,806.27 L120.1,807.71 L121.6,809.12 L123.1,810.52 L124.6,811.9 L126.1,813.26 L127.6,814.6 L129.1,815.92 L130.6,817.22 L132.1,818.51 L133.6,819.77 L135.1,821.01 L136.6,822.23 L138.1,823.43 L139.6,824.61 L141.1,825.77 L142.6,826.91 L144.1,828.03 L145.6,829.13 L147.1,830.21 L148.6,831.28 L150.1,832.33 L151.6,833.36 L153.1,834.37 L154.6,835.36 L156.1,836.34 L157.6,837.3 L159.1,838.25 L160.6,839.18 L162.1,840.1 L163.6,841 L165.1,841.9 L166.6,842.78 L168.1,843.65 L169.6,844.5 L171.1,845.35 L172.6,846.19 L174.1,847.01 L175.6,847.83 L177.1,848.64 L178.6,849.44 L180.1,850.23 L181.6,851.01 L183.1,851.79 L184.6,852.55 L186.1,853.31 L187.6,854.06 L189.1,854.81 L190.6,855.55 L192.1,856.28 L193.6,857 L195.1,857.72 L196.6,858.44 L198.1,859.14 L199.6,859.84 L201.1,860.54 L202.6,861.23 L204.1,861.92 L205.6,862.6 L207.1,863.28 L208.6,863.95 L210.1,864.61 L211.6,865.28 L213.1,865.93 L214.6,866.59 L216.1,867.24 L217.6,867.88 L219.1,868.52 L220.6,869.16 L222.1,869.79 L223.6,870.42 L225.1,871.05 L226.6,871.67 L228.1,872.29 L229.6,872.91 L231.1,873.52 L232.6,874.13 L234.1,874.74 L235.6,875.34 L237.1,875.94 L238.6,876.54 L240.1,877.13 L241.6,877.73 L243.1,878.31 L244.6,878.9 L246.1,879.48 L247.6,880.06 L249.1,880.64 L250.6,881.21 L252.1,881.78 L253.6,882.35 L255.1,882.91 L256.6,883.47 L258.1,884.02 L259.6,884.57 L261.1,885.12 L262.6,885.67 L264.1,886.21 L265.6,886.75 L267.1,887.28 L268.6,887.81 L270.1,888.34 L271.6,888.87 L273.1,889.39 L274.6,889.9 L276.1,890.42 L277.6,890.93 L279.1,891.43 L280.6,891.93 L282.1,892.43 L283.6,892.93 L285.1,893.42 L286.6,893.91 L288.1,894.39 L289.6,894.87 L291.1,895.35 L292.6,895.82 L294.1,896.29 L295.6,896.76 L297.1,897.22 L298.6,897.68 L300.1,898.13 L301.6,898.59 L303.1,899.03 L304.6,899.48 L306.1,899.92 L307.6,900.36 L309.1,900.79 L310.6,901.22 L312.1,901.65 L313.6,902.07 L315.1,902.49 L316.6,902.91 L318.1,903.33 L319.6,903.74 L321.1,904.14 L322.6,904.55 L324.1,904.95 L325.6,905.34 L327.1,905.74 L328.6,906.13 L330.1,906.52 L331.6,906.9 L333.1,907.28 L334.6,907.66 L336.1,908.04 L337.6,908.41 L339.1,908.78 L340.6,909.15 L342.1,909.51 L343.6,909.88 L345.1,910.24 L346.6,910.59 L348.1,910.95 L349.6,911.3 L351.1,911.66 L352.6,912 L354.1,912.35 L355.6,912.7 L357.1,913.04 L358.6,913.38 L360.1,913.72 L361.6,914.06 L363.1,914.4 L364.6,914.73 L366.1,915.06 L367.6,915.4 L369.1,915.73 L370.6,916.05 L372.1,916.38 L373.6,916.71 L375.1,917.03 L376.6,917.35 L378.1,917.67 L379.6,917.99 L381.1,918.31 L382.6,918.63 L384.1,918.94 L385.6,919.26 L387.1,919.57 L388.6,919.89 L390.1,920.2 L391.6,920.51 L393.1,920.82 L394.6,921.13 L396.1,921.43 L397.6,921.74 L399.1,922.04 L400.6,922.35 L402.1,922.65 L403.6,922.96 L405.1,923.26 L406.6,923.56 L408.1,923.86 L409.6,924.16 L411.1,924.46 L412.6,924.76 L414.1,925.06 L415.6,925.35 L417.1,925.65 L418.6,925.94 L420.1,926.24 L421.6,926.53 L423.1,926.83 L424.6,927.12 L426.1,927.41 L427.6,927.7 L429.1,927.99 L430.6,928.28 L432.1,928.57 L433.6,928.86 L435.1,929.14 L436.6,929.43 L438.1,929.71 L439.6,930 L441.1,930.28 L442.6,930.56 L444.1,930.85 L445.6,931.13 L447.1,931.41 L448.6,931.69 L450.1,931.97 L451.6,932.24 L453.1,932.52 L454.6,932.8 L456.1,933.07 L457.6,933.34 L459.1,933.62 L460.6,933.89 L462.1,934.16 L463.6,934.43 L465.1,934.7 L466.6,934.97 L468.1,935.24 L469.6,935.51 L471.1,935.77 L472.6,936.04 L474.1,936.3 L475.6,936.57 L477.1,936.83 L478.6,937.09 L480.1,937.35 L481.6,937.61 L483.1,937.87 L484.6,938.13 L486.1,938.39 L487.6,938.65 L489.1,938.9 L490.6,939.16 L492.1,939.41 L493.6,939.66 L495.1,939.92 L495.6,940" fill="none" stroke="#000" stroke-width="3.3" stroke-linejoin="round"/>
<ellipse cx="84.1" cy="770.3" rx="4.5" ry="4.6" fill="#fff" stroke="#000" stroke-width="1.8"/>
<ellipse cx="109.6" cy="797.4" rx="4.5" ry="4.6" fill="#fff" stroke="#000" stroke-width="1.8"/>
<ellipse cx="153" cy="834.3" rx="4.5" ry="4.6" fill="#fff" stroke="#000" stroke-width="1.8"/>
<ellipse cx="238.5" cy="876.5" rx="4.5" ry="4.6" fill="#fff" stroke="#000" stroke-width="1.8"/>
<ellipse cx="324.3" cy="905" rx="4.5" ry="4.6" fill="#fff" stroke="#000" stroke-width="1.8"/>
<ellipse cx="410.3" cy="924.3" rx="4.5" ry="4.6" fill="#fff" stroke="#000" stroke-width="1.8"/>
<ellipse cx="495.6" cy="940" rx="4.5" ry="4.6" fill="#fff" stroke="#000" stroke-width="1.8"/>
<path d="M84.1,789.6 L85.6,791.12 L87.1,792.54 L88.6,793.88 L90.1,795.16 L91.6,796.41 L93.1,797.62 L94.6,798.81 L96.1,799.98 L97.6,801.13 L99.1,802.28 L100.6,803.41 L102.1,804.54 L103.6,805.66 L105.1,806.77 L106.6,807.89 L108.1,808.99 L109.6,810.1 L111.1,811.2 L112.6,812.3 L114.1,813.39 L115.6,814.48 L117.1,815.56 L118.6,816.63 L120.1,817.69 L121.6,818.75 L123.1,819.79 L124.6,820.83 L126.1,821.86 L127.6,822.87 L129.1,823.88 L130.6,824.88 L132.1,825.86 L133.6,826.84 L135.1,827.8 L136.6,828.76 L138.1,829.71 L139.6,830.65 L141.1,831.57 L142.6,832.49 L144.1,833.4 L145.6,834.3 L147.1,835.19 L148.6,836.07 L150.1,836.94 L151.6,837.8 L153.1,838.66 L154.6,839.5 L156.1,840.34 L157.6,841.17 L159.1,841.99 L160.6,842.8 L162.1,843.61 L163.6,844.41 L165.1,845.2 L166.6,845.98 L168.1,846.76 L169.6,847.54 L171.1,848.3 L172.6,849.06 L174.1,849.81 L175.6,850.56 L177.1,851.31 L178.6,852.04 L180.1,852.77 L181.6,853.5 L183.1,854.22 L184.6,854.94 L186.1,855.65 L187.6,856.35 L189.1,857.05 L190.6,857.75 L192.1,858.44 L193.6,859.13 L195.1,859.81 L196.6,860.49 L198.1,861.17 L199.6,861.84 L201.1,862.51 L202.6,863.17 L204.1,863.83 L205.6,864.48 L207.1,865.13 L208.6,865.78 L210.1,866.42 L211.6,867.06 L213.1,867.7 L214.6,868.33 L216.1,868.96 L217.6,869.59 L219.1,870.21 L220.6,870.83 L222.1,871.45 L223.6,872.06 L225.1,872.68 L226.6,873.28 L228.1,873.89 L229.6,874.49 L231.1,875.09 L232.6,875.68 L234.1,876.28 L235.6,876.87 L237.1,877.45 L238.6,878.04 L240.1,878.62 L241.6,879.2 L243.1,879.78 L244.6,880.35 L246.1,880.92 L247.6,881.49 L249.1,882.05 L250.6,882.61 L252.1,883.17 L253.6,883.73 L255.1,884.28 L256.6,884.83 L258.1,885.37 L259.6,885.92 L261.1,886.46 L262.6,886.99 L264.1,887.52 L265.6,888.05 L267.1,888.58 L268.6,889.1 L270.1,889.62 L271.6,890.13 L273.1,890.64 L274.6,891.15 L276.1,891.65 L277.6,892.15 L279.1,892.65 L280.6,893.15 L282.1,893.64 L283.6,894.12 L285.1,894.61 L286.6,895.09 L288.1,895.56 L289.6,896.03 L291.1,896.5 L292.6,896.97 L294.1,897.43 L295.6,897.89 L297.1,898.34 L298.6,898.8 L300.1,899.24 L301.6,899.69 L303.1,900.13 L304.6,900.57 L306.1,901 L307.6,901.43 L309.1,901.86 L310.6,902.28 L312.1,902.7 L313.6,903.12 L315.1,903.54 L316.6,903.95 L318.1,904.35 L319.6,904.76 L321.1,905.16 L322.6,905.55 L324.1,905.95 L325.6,906.34 L327.1,906.73 L328.6,907.11 L330.1,907.49 L331.6,907.87 L333.1,908.24 L334.6,908.62 L336.1,908.99 L337.6,909.35 L339.1,909.72 L340.6,910.08 L342.1,910.44 L343.6,910.8 L345.1,911.15 L346.6,911.5 L348.1,911.85 L349.6,912.2 L351.1,912.55 L352.6,912.89 L354.1,913.23 L355.6,913.57 L357.1,913.91 L358.6,914.25 L360.1,914.58 L361.6,914.91 L363.1,915.25 L364.6,915.57 L366.1,915.9 L367.6,916.23 L369.1,916.55 L370.6,916.88 L372.1,917.2 L373.6,917.52 L375.1,917.84 L376.6,918.15 L378.1,918.47 L379.6,918.78 L381.1,919.1 L382.6,919.41 L384.1,919.72 L385.6,920.03 L387.1,920.34 L388.6,920.65 L390.1,920.96 L391.6,921.26 L393.1,921.57 L394.6,921.87 L396.1,922.17 L397.6,922.48 L399.1,922.78 L400.6,923.08 L402.1,923.38 L403.6,923.68 L405.1,923.97 L406.6,924.27 L408.1,924.57 L409.6,924.86 L411.1,925.16 L412.6,925.45 L414.1,925.75 L415.6,926.04 L417.1,926.33 L418.6,926.62 L420.1,926.91 L421.6,927.2 L423.1,927.49 L424.6,927.78 L426.1,928.07 L427.6,928.35 L429.1,928.64 L430.6,928.93 L432.1,929.21 L433.6,929.49 L435.1,929.78 L436.6,930.06 L438.1,930.34 L439.6,930.62 L441.1,930.9 L442.6,931.18 L444.1,931.46 L445.6,931.74 L447.1,932.01 L448.6,932.29 L450.1,932.56 L451.6,932.84 L453.1,933.11 L454.6,933.38 L456.1,933.66 L457.6,933.93 L459.1,934.2 L460.6,934.47 L462.1,934.73 L463.6,935 L465.1,935.27 L466.6,935.53 L468.1,935.8 L469.6,936.06 L471.1,936.33 L472.6,936.59 L474.1,936.85 L475.6,937.11 L477.1,937.37 L478.6,937.63 L480.1,937.89 L481.6,938.14 L483.1,938.4 L484.6,938.65 L486.1,938.91 L487.6,939.16 L489.1,939.41 L490.6,939.67 L492.1,939.92 L493.6,940.17 L495.1,940.42 L495.6,940.5" fill="none" stroke="#000" stroke-width="3.3" stroke-linejoin="round"/>
<ellipse cx="84.1" cy="789.6" rx="4.5" ry="4.6" fill="#fff" stroke="#000" stroke-width="1.8"/>
<ellipse cx="109.6" cy="810.1" rx="4.5" ry="4.6" fill="#fff" stroke="#000" stroke-width="1.8"/>
<ellipse cx="153" cy="838.6" rx="4.5" ry="4.6" fill="#fff" stroke="#000" stroke-width="1.8"/>
<ellipse cx="238.5" cy="878" rx="4.5" ry="4.6" fill="#fff" stroke="#000" stroke-width="1.8"/>
<ellipse cx="324.3" cy="906" rx="4.5" ry="4.6" fill="#fff" stroke="#000" stroke-width="1.8"/>
<ellipse cx="410.3" cy="925" rx="4.5" ry="4.6" fill="#fff" stroke="#000" stroke-width="1.8"/>
<ellipse cx="495.6" cy="940.5" rx="4.5" ry="4.6" fill="#fff" stroke="#000" stroke-width="1.8"/>
<path d="M578.75,533.1V974.9M564.95,961.1H1007.8M564.95,533.1H578.75M571.75,568.77H578.75M564.95,604.43H578.75M571.75,640.1H578.75M564.95,675.77H578.75M571.75,711.43H578.75M564.95,747.1H578.75M571.75,782.77H578.75M564.95,818.43H578.75M571.75,854.1H578.75M564.95,889.76H578.75M571.75,925.43H578.75M564.95,961.1H578.75M578.9,961.1V974.9M621.79,961.1V967.6M664.68,961.1V974.9M707.57,961.1V967.6M750.46,961.1V974.9M793.35,961.1V967.6M836.24,961.1V974.9M879.13,961.1V967.6M922.02,961.1V974.9M964.91,961.1V967.6M1007.8,961.1V974.9" fill="none" stroke="#000" stroke-width="3.15"/>
<text x="557.9" y="542.1" font-size="18.3" text-anchor="end">6</text>
<text x="557.9" y="613.43" font-size="18.3" text-anchor="end">5</text>
<text x="557.9" y="684.77" font-size="18.3" text-anchor="end">4</text>
<text x="557.9" y="756.1" font-size="18.3" text-anchor="end">3</text>
<text x="557.9" y="827.43" font-size="18.3" text-anchor="end">2</text>
<text x="557.9" y="898.76" font-size="18.3" text-anchor="end">1</text>
<text x="557.9" y="970.1" font-size="18.3" text-anchor="end">0</text>
<text x="578.9" y="1002.5" font-size="19.2" text-anchor="middle">0</text>
<text x="664.68" y="1002.5" font-size="19.2" text-anchor="middle">1</text>
<text x="750.46" y="1002.5" font-size="19.2" text-anchor="middle">2</text>
<text x="836.24" y="1002.5" font-size="19.2" text-anchor="middle">3</text>
<text x="922.02" y="1002.5" font-size="19.2" text-anchor="middle">4</text>
<text x="1007.8" y="1002.5" font-size="19.2" text-anchor="middle">5</text>
<path d="M597.3,604.2 L598.8,610.2 L600.3,615.74 L601.8,620.88 L603.3,625.67 L604.8,630.15 L606.3,634.37 L607.8,638.35 L609.3,642.12 L610.8,645.7 L612.3,649.1 L613.8,652.34 L615.3,655.44 L616.8,658.41 L618.3,661.26 L619.8,664 L621.3,666.63 L622.8,669.17 L624.3,671.61 L625.8,673.98 L627.3,676.26 L628.8,678.48 L630.3,680.62 L631.8,682.7 L633.3,684.73 L634.8,686.69 L636.3,688.61 L637.8,690.47 L639.3,692.29 L640.8,694.06 L642.3,695.79 L643.8,697.48 L645.3,699.13 L646.8,700.74 L648.3,702.32 L649.8,703.87 L651.3,705.38 L652.8,706.86 L654.3,708.32 L655.8,709.74 L657.3,711.14 L658.8,712.52 L660.3,713.87 L661.8,715.19 L663.3,716.49 L664.8,717.77 L666.3,719.03 L667.8,720.27 L669.3,721.49 L670.8,722.69 L672.3,723.87 L673.8,725.03 L675.3,726.18 L676.8,727.3 L678.3,728.41 L679.8,729.51 L681.3,730.59 L682.8,731.65 L684.3,732.69 L685.8,733.73 L687.3,734.74 L688.8,735.75 L690.3,736.74 L691.8,737.71 L693.3,738.68 L694.8,739.63 L696.3,740.57 L697.8,741.49 L699.3,742.41 L700.8,743.31 L702.3,744.2 L703.8,745.08 L705.3,745.95 L706.8,746.81 L708.3,747.65 L709.8,748.49 L711.3,749.32 L712.8,750.14 L714.3,750.94 L715.8,751.74 L717.3,752.53 L718.8,753.31 L720.3,754.08 L721.8,754.85 L723.3,755.6 L724.8,756.35 L726.3,757.08 L727.8,757.81 L729.3,758.54 L730.8,759.25 L732.3,759.96 L733.8,760.66 L735.3,761.35 L736.8,762.03 L738.3,762.71 L739.8,763.38 L741.3,764.04 L742.8,764.7 L744.3,765.35 L745.8,765.99 L747.3,766.63 L748.8,767.26 L750.3,767.89 L751.8,768.51 L753.3,769.12 L754.8,769.73 L756.3,770.33 L757.8,770.92 L759.3,771.51 L760.8,772.1 L762.3,772.68 L763.8,773.25 L765.3,773.82 L766.8,774.39 L768.3,774.95 L769.8,775.5 L771.3,776.05 L772.8,776.6 L774.3,777.14 L775.8,777.68 L777.3,778.21 L778.8,778.74 L780.3,779.26 L781.8,779.79 L783.3,780.3 L784.8,780.81 L786.3,781.32 L787.8,781.83 L789.3,782.33 L790.8,782.83 L792.3,783.32 L793.8,783.81 L795.3,784.3 L796.8,784.79 L798.3,785.27 L799.8,785.74 L801.3,786.22 L802.8,786.69 L804.3,787.16 L805.8,787.62 L807.3,788.09 L808.8,788.55 L810.3,789 L811.8,789.46 L813.3,789.91 L814.8,790.35 L816.3,790.8 L817.8,791.24 L819.3,791.68 L820.8,792.12 L822.3,792.55 L823.8,792.99 L825.3,793.42 L826.8,793.84 L828.3,794.27 L829.8,794.69 L831.3,795.11 L832.8,795.53 L834.3,795.95 L835.8,796.36 L837.3,796.77 L838.8,797.18 L840.3,797.59 L841.8,797.99 L843.3,798.4 L844.8,798.8 L846.3,799.2 L847.8,799.59 L849.3,799.99 L850.8,800.38 L852.3,800.77 L853.8,801.16 L855.3,801.55 L856.8,801.94 L858.3,802.32 L859.8,802.7 L861.3,803.08 L862.8,803.46 L864.3,803.84 L865.8,804.21 L867.3,804.59 L868.8,804.96 L870.3,805.33 L871.8,805.7 L873.3,806.06 L874.8,806.43 L876.3,806.79 L877.8,807.16 L879.3,807.52 L880.8,807.88 L882.3,808.23 L883.8,808.59 L885.3,808.95 L886.8,809.3 L888.3,809.65 L889.8,810 L891.3,810.35 L892.8,810.7 L894.3,811.05 L895.8,811.39 L897.3,811.73 L898.8,812.08 L900.3,812.42 L901.8,812.76 L903.3,813.1 L904.8,813.43 L906.3,813.77 L907.8,814.11 L909.3,814.44 L910.8,814.77 L912.3,815.1 L913.8,815.43 L915.3,815.76 L916.8,816.09 L918.3,816.42 L919.8,816.74 L921.3,817.07 L922.8,817.39 L924.3,817.71 L925.8,818.04 L927.3,818.36 L928.8,818.68 L930.3,818.99 L931.8,819.31 L933.3,819.63 L934.8,819.94 L936.3,820.26 L937.8,820.57 L939.3,820.88 L940.8,821.19 L942.3,821.5 L943.8,821.81 L945.3,822.12 L946.8,822.42 L948.3,822.73 L949.8,823.03 L951.3,823.34 L952.8,823.64 L954.3,823.94 L955.8,824.24 L957.3,824.54 L958.8,824.84 L960.3,825.13 L961.8,825.43 L963.3,825.72 L964.8,826.02 L966.3,826.31 L967.8,826.6 L969.3,826.89 L970.8,827.18 L972.3,827.47 L973.8,827.76 L975.3,828.05 L976.8,828.33 L978.3,828.62 L979.8,828.9 L981.3,829.18 L982.8,829.47 L984.3,829.75 L985.8,830.03 L987.3,830.31 L988.8,830.58 L990.3,830.86 L991.8,831.14 L993.3,831.41 L994.8,831.69 L996.3,831.96 L997.8,832.23 L999.3,832.5 L1000.8,832.77 L1002.3,833.04 L1003.8,833.31 L1005.3,833.58 L1006.8,833.85 L1008.3,834.11 L1008.8,834.2" fill="none" stroke="#000" stroke-width="2.15" stroke-linejoin="round"/>
<path d="M597.3,598L603.4,604.2L597.3,610.4L591.2,604.2Z" fill="#000" stroke="#000" stroke-width="1.2" stroke-linejoin="round"/>
<path d="M622.7,662.8L628.8,669L622.7,675.2L616.6,669Z" fill="#000" stroke="#000" stroke-width="1.2" stroke-linejoin="round"/>
<path d="M665.9,712.5L672,718.7L665.9,724.9L659.8,718.7Z" fill="#000" stroke="#000" stroke-width="1.2" stroke-linejoin="round"/>
<path d="M751.3,762.1L757.4,768.3L751.3,774.5L745.2,768.3Z" fill="#000" stroke="#000" stroke-width="1.2" stroke-linejoin="round"/>
<path d="M837.4,790.6L843.5,796.8L837.4,803L831.3,796.8Z" fill="#000" stroke="#000" stroke-width="1.2" stroke-linejoin="round"/>
<path d="M923.3,811.3L929.4,817.5L923.3,823.7L917.2,817.5Z" fill="#000" stroke="#000" stroke-width="1.2" stroke-linejoin="round"/>
<path d="M1008.8,828L1014.9,834.2L1008.8,840.4L1002.7,834.2Z" fill="#000" stroke="#000" stroke-width="1.2" stroke-linejoin="round"/>
<path d="M597.3,716.4 L598.8,717.42 L600.3,718.36 L601.8,719.26 L603.3,720.1 L604.8,720.92 L606.3,721.7 L607.8,722.46 L609.3,723.2 L610.8,723.93 L612.3,724.64 L613.8,725.34 L615.3,726.03 L616.8,726.7 L618.3,727.38 L619.8,728.04 L621.3,728.69 L622.8,729.34 L624.3,729.99 L625.8,730.63 L627.3,731.26 L628.8,731.89 L630.3,732.52 L631.8,733.15 L633.3,733.78 L634.8,734.4 L636.3,735.03 L637.8,735.65 L639.3,736.27 L640.8,736.9 L642.3,737.52 L643.8,738.14 L645.3,738.76 L646.8,739.38 L648.3,740.01 L649.8,740.63 L651.3,741.25 L652.8,741.87 L654.3,742.49 L655.8,743.11 L657.3,743.74 L658.8,744.36 L660.3,744.98 L661.8,745.6 L663.3,746.22 L664.8,746.84 L666.3,747.47 L667.8,748.09 L669.3,748.71 L670.8,749.33 L672.3,749.95 L673.8,750.57 L675.3,751.18 L676.8,751.8 L678.3,752.41 L679.8,753.02 L681.3,753.63 L682.8,754.23 L684.3,754.84 L685.8,755.44 L687.3,756.04 L688.8,756.63 L690.3,757.23 L691.8,757.82 L693.3,758.4 L694.8,758.99 L696.3,759.57 L697.8,760.14 L699.3,760.72 L700.8,761.29 L702.3,761.86 L703.8,762.42 L705.3,762.98 L706.8,763.54 L708.3,764.09 L709.8,764.65 L711.3,765.19 L712.8,765.74 L714.3,766.28 L715.8,766.82 L717.3,767.35 L718.8,767.88 L720.3,768.41 L721.8,768.94 L723.3,769.46 L724.8,769.98 L726.3,770.49 L727.8,771 L729.3,771.51 L730.8,772.01 L732.3,772.52 L733.8,773.02 L735.3,773.51 L736.8,774 L738.3,774.49 L739.8,774.98 L741.3,775.46 L742.8,775.94 L744.3,776.42 L745.8,776.89 L747.3,777.36 L748.8,777.83 L750.3,778.29 L751.8,778.75 L753.3,779.21 L754.8,779.67 L756.3,780.12 L757.8,780.57 L759.3,781.02 L760.8,781.46 L762.3,781.91 L763.8,782.35 L765.3,782.78 L766.8,783.22 L768.3,783.65 L769.8,784.09 L771.3,784.51 L772.8,784.94 L774.3,785.37 L775.8,785.79 L777.3,786.21 L778.8,786.63 L780.3,787.05 L781.8,787.47 L783.3,787.88 L784.8,788.29 L786.3,788.71 L787.8,789.12 L789.3,789.52 L790.8,789.93 L792.3,790.34 L793.8,790.74 L795.3,791.14 L796.8,791.54 L798.3,791.94 L799.8,792.34 L801.3,792.74 L802.8,793.14 L804.3,793.53 L805.8,793.93 L807.3,794.32 L808.8,794.71 L810.3,795.1 L811.8,795.49 L813.3,795.88 L814.8,796.27 L816.3,796.65 L817.8,797.04 L819.3,797.43 L820.8,797.81 L822.3,798.19 L823.8,798.57 L825.3,798.95 L826.8,799.34 L828.3,799.71 L829.8,800.09 L831.3,800.47 L832.8,800.85 L834.3,801.22 L835.8,801.6 L837.3,801.98 L838.8,802.35 L840.3,802.72 L841.8,803.09 L843.3,803.47 L844.8,803.84 L846.3,804.21 L847.8,804.58 L849.3,804.94 L850.8,805.31 L852.3,805.68 L853.8,806.04 L855.3,806.41 L856.8,806.77 L858.3,807.13 L859.8,807.49 L861.3,807.85 L862.8,808.21 L864.3,808.57 L865.8,808.92 L867.3,809.28 L868.8,809.63 L870.3,809.98 L871.8,810.33 L873.3,810.68 L874.8,811.03 L876.3,811.38 L877.8,811.72 L879.3,812.07 L880.8,812.41 L882.3,812.75 L883.8,813.09 L885.3,813.43 L886.8,813.76 L888.3,814.1 L889.8,814.43 L891.3,814.77 L892.8,815.1 L894.3,815.43 L895.8,815.75 L897.3,816.08 L898.8,816.41 L900.3,816.73 L901.8,817.05 L903.3,817.37 L904.8,817.69 L906.3,818.01 L907.8,818.33 L909.3,818.64 L910.8,818.95 L912.3,819.26 L913.8,819.57 L915.3,819.88 L916.8,820.19 L918.3,820.49 L919.8,820.8 L921.3,821.1 L922.8,821.4 L924.3,821.7 L925.8,822 L927.3,822.29 L928.8,822.59 L930.3,822.88 L931.8,823.17 L933.3,823.46 L934.8,823.75 L936.3,824.04 L937.8,824.32 L939.3,824.61 L940.8,824.89 L942.3,825.17 L943.8,825.45 L945.3,825.73 L946.8,826.01 L948.3,826.28 L949.8,826.56 L951.3,826.83 L952.8,827.1 L954.3,827.37 L955.8,827.64 L957.3,827.91 L958.8,828.18 L960.3,828.45 L961.8,828.71 L963.3,828.98 L964.8,829.24 L966.3,829.5 L967.8,829.76 L969.3,830.02 L970.8,830.28 L972.3,830.54 L973.8,830.79 L975.3,831.05 L976.8,831.3 L978.3,831.56 L979.8,831.81 L981.3,832.06 L982.8,832.31 L984.3,832.56 L985.8,832.81 L987.3,833.06 L988.8,833.3 L990.3,833.55 L991.8,833.79 L993.3,834.03 L994.8,834.28 L996.3,834.52 L997.8,834.76 L999.3,835 L1000.8,835.24 L1002.3,835.48 L1003.8,835.71 L1005.3,835.95 L1006.8,836.19 L1008.3,836.42 L1008.8,836.5" fill="none" stroke="#000" stroke-width="2.15" stroke-linejoin="round"/>
<path d="M597.3,710.2L603.4,716.4L597.3,722.6L591.2,716.4Z" fill="#000" stroke="#000" stroke-width="1.2" stroke-linejoin="round"/>
<path d="M622.7,723.1L628.8,729.3L622.7,735.5L616.6,729.3Z" fill="#000" stroke="#000" stroke-width="1.2" stroke-linejoin="round"/>
<path d="M665.9,741.1L672,747.3L665.9,753.5L659.8,747.3Z" fill="#000" stroke="#000" stroke-width="1.2" stroke-linejoin="round"/>
<path d="M751.3,772.4L757.4,778.6L751.3,784.8L745.2,778.6Z" fill="#000" stroke="#000" stroke-width="1.2" stroke-linejoin="round"/>
<path d="M837.4,795.8L843.5,802L837.4,808.2L831.3,802Z" fill="#000" stroke="#000" stroke-width="1.2" stroke-linejoin="round"/>
<path d="M923.3,815.3L929.4,821.5L923.3,827.7L917.2,821.5Z" fill="#000" stroke="#000" stroke-width="1.2" stroke-linejoin="round"/>
<path d="M1008.8,830.3L1014.9,836.5L1008.8,842.7L1002.7,836.5Z" fill="#000" stroke="#000" stroke-width="1.2" stroke-linejoin="round"/>
<path d="M597.3,738.5 L598.8,739.23 L600.3,739.91 L601.8,740.54 L603.3,741.15 L604.8,741.72 L606.3,742.28 L607.8,742.82 L609.3,743.34 L610.8,743.85 L612.3,744.35 L613.8,744.84 L615.3,745.32 L616.8,745.8 L618.3,746.26 L619.8,746.72 L621.3,747.18 L622.8,747.63 L624.3,748.08 L625.8,748.52 L627.3,748.96 L628.8,749.4 L630.3,749.84 L631.8,750.28 L633.3,750.72 L634.8,751.16 L636.3,751.61 L637.8,752.06 L639.3,752.51 L640.8,752.96 L642.3,753.42 L643.8,753.88 L645.3,754.34 L646.8,754.8 L648.3,755.27 L649.8,755.74 L651.3,756.22 L652.8,756.7 L654.3,757.18 L655.8,757.66 L657.3,758.15 L658.8,758.64 L660.3,759.13 L661.8,759.63 L663.3,760.13 L664.8,760.63 L666.3,761.13 L667.8,761.64 L669.3,762.15 L670.8,762.66 L672.3,763.17 L673.8,763.68 L675.3,764.19 L676.8,764.7 L678.3,765.21 L679.8,765.72 L681.3,766.23 L682.8,766.74 L684.3,767.25 L685.8,767.75 L687.3,768.25 L688.8,768.75 L690.3,769.25 L691.8,769.75 L693.3,770.24 L694.8,770.73 L696.3,771.22 L697.8,771.71 L699.3,772.19 L700.8,772.67 L702.3,773.15 L703.8,773.62 L705.3,774.09 L706.8,774.56 L708.3,775.02 L709.8,775.48 L711.3,775.94 L712.8,776.39 L714.3,776.84 L715.8,777.29 L717.3,777.74 L718.8,778.18 L720.3,778.61 L721.8,779.05 L723.3,779.48 L724.8,779.91 L726.3,780.33 L727.8,780.75 L729.3,781.17 L730.8,781.58 L732.3,781.99 L733.8,782.4 L735.3,782.8 L736.8,783.2 L738.3,783.6 L739.8,783.99 L741.3,784.38 L742.8,784.77 L744.3,785.15 L745.8,785.53 L747.3,785.91 L748.8,786.28 L750.3,786.65 L751.8,787.02 L753.3,787.39 L754.8,787.75 L756.3,788.11 L757.8,788.46 L759.3,788.82 L760.8,789.17 L762.3,789.52 L763.8,789.86 L765.3,790.21 L766.8,790.55 L768.3,790.89 L769.8,791.23 L771.3,791.57 L772.8,791.9 L774.3,792.24 L775.8,792.57 L777.3,792.9 L778.8,793.24 L780.3,793.57 L781.8,793.89 L783.3,794.22 L784.8,794.55 L786.3,794.88 L787.8,795.2 L789.3,795.53 L790.8,795.85 L792.3,796.18 L793.8,796.5 L795.3,796.83 L796.8,797.15 L798.3,797.47 L799.8,797.79 L801.3,798.12 L802.8,798.44 L804.3,798.76 L805.8,799.08 L807.3,799.41 L808.8,799.73 L810.3,800.05 L811.8,800.37 L813.3,800.69 L814.8,801.02 L816.3,801.34 L817.8,801.66 L819.3,801.98 L820.8,802.31 L822.3,802.63 L823.8,802.95 L825.3,803.28 L826.8,803.6 L828.3,803.92 L829.8,804.25 L831.3,804.57 L832.8,804.9 L834.3,805.23 L835.8,805.55 L837.3,805.88 L838.8,806.21 L840.3,806.53 L841.8,806.86 L843.3,807.19 L844.8,807.52 L846.3,807.85 L847.8,808.17 L849.3,808.5 L850.8,808.83 L852.3,809.16 L853.8,809.49 L855.3,809.82 L856.8,810.14 L858.3,810.47 L859.8,810.8 L861.3,811.13 L862.8,811.45 L864.3,811.78 L865.8,812.11 L867.3,812.43 L868.8,812.76 L870.3,813.08 L871.8,813.41 L873.3,813.73 L874.8,814.05 L876.3,814.37 L877.8,814.69 L879.3,815.01 L880.8,815.33 L882.3,815.65 L883.8,815.97 L885.3,816.29 L886.8,816.61 L888.3,816.92 L889.8,817.24 L891.3,817.55 L892.8,817.86 L894.3,818.18 L895.8,818.49 L897.3,818.8 L898.8,819.11 L900.3,819.41 L901.8,819.72 L903.3,820.03 L904.8,820.33 L906.3,820.64 L907.8,820.94 L909.3,821.24 L910.8,821.54 L912.3,821.84 L913.8,822.14 L915.3,822.44 L916.8,822.73 L918.3,823.03 L919.8,823.32 L921.3,823.61 L922.8,823.9 L924.3,824.19 L925.8,824.48 L927.3,824.77 L928.8,825.06 L930.3,825.34 L931.8,825.62 L933.3,825.91 L934.8,826.19 L936.3,826.47 L937.8,826.75 L939.3,827.03 L940.8,827.3 L942.3,827.58 L943.8,827.85 L945.3,828.13 L946.8,828.4 L948.3,828.67 L949.8,828.94 L951.3,829.21 L952.8,829.48 L954.3,829.75 L955.8,830.01 L957.3,830.28 L958.8,830.54 L960.3,830.81 L961.8,831.07 L963.3,831.33 L964.8,831.59 L966.3,831.85 L967.8,832.11 L969.3,832.36 L970.8,832.62 L972.3,832.87 L973.8,833.13 L975.3,833.38 L976.8,833.63 L978.3,833.88 L979.8,834.13 L981.3,834.38 L982.8,834.63 L984.3,834.88 L985.8,835.13 L987.3,835.37 L988.8,835.62 L990.3,835.86 L991.8,836.1 L993.3,836.35 L994.8,836.59 L996.3,836.83 L997.8,837.07 L999.3,837.31 L1000.8,837.55 L1002.3,837.78 L1003.8,838.02 L1005.3,838.25 L1006.8,838.49 L1008.3,838.72 L1008.8,838.8" fill="none" stroke="#000" stroke-width="2.15" stroke-linejoin="round"/>
<path d="M597.3,732.3L603.4,738.5L597.3,744.7L591.2,738.5Z" fill="#000" stroke="#000" stroke-width="1.2" stroke-linejoin="round"/>
<path d="M622.7,741.4L628.8,747.6L622.7,753.8L616.6,747.6Z" fill="#000" stroke="#000" stroke-width="1.2" stroke-linejoin="round"/>
<path d="M665.9,754.8L672,761L665.9,767.2L659.8,761Z" fill="#000" stroke="#000" stroke-width="1.2" stroke-linejoin="round"/>
<path d="M751.3,780.7L757.4,786.9L751.3,793.1L745.2,786.9Z" fill="#000" stroke="#000" stroke-width="1.2" stroke-linejoin="round"/>
<path d="M837.4,799.7L843.5,805.9L837.4,812.1L831.3,805.9Z" fill="#000" stroke="#000" stroke-width="1.2" stroke-linejoin="round"/>
<path d="M923.3,817.8L929.4,824L923.3,830.2L917.2,824Z" fill="#000" stroke="#000" stroke-width="1.2" stroke-linejoin="round"/>
<path d="M1008.8,832.6L1014.9,838.8L1008.8,845L1002.7,838.8Z" fill="#000" stroke="#000" stroke-width="1.2" stroke-linejoin="round"/>
<path d="M597.3,762 L598.8,762.51 L600.3,762.98 L601.8,763.42 L603.3,763.85 L604.8,764.26 L606.3,764.65 L607.8,765.03 L609.3,765.41 L610.8,765.77 L612.3,766.13 L613.8,766.48 L615.3,766.83 L616.8,767.18 L618.3,767.52 L619.8,767.86 L621.3,768.19 L622.8,768.52 L624.3,768.85 L625.8,769.18 L627.3,769.51 L628.8,769.83 L630.3,770.16 L631.8,770.49 L633.3,770.81 L634.8,771.14 L636.3,771.47 L637.8,771.8 L639.3,772.14 L640.8,772.47 L642.3,772.81 L643.8,773.14 L645.3,773.48 L646.8,773.82 L648.3,774.17 L649.8,774.51 L651.3,774.86 L652.8,775.2 L654.3,775.55 L655.8,775.9 L657.3,776.25 L658.8,776.61 L660.3,776.96 L661.8,777.32 L663.3,777.68 L664.8,778.04 L666.3,778.4 L667.8,778.76 L669.3,779.12 L670.8,779.48 L672.3,779.85 L673.8,780.21 L675.3,780.58 L676.8,780.94 L678.3,781.3 L679.8,781.67 L681.3,782.03 L682.8,782.39 L684.3,782.76 L685.8,783.12 L687.3,783.48 L688.8,783.84 L690.3,784.2 L691.8,784.56 L693.3,784.91 L694.8,785.27 L696.3,785.62 L697.8,785.98 L699.3,786.33 L700.8,786.68 L702.3,787.03 L703.8,787.38 L705.3,787.72 L706.8,788.07 L708.3,788.41 L709.8,788.75 L711.3,789.09 L712.8,789.43 L714.3,789.77 L715.8,790.11 L717.3,790.44 L718.8,790.77 L720.3,791.11 L721.8,791.44 L723.3,791.76 L724.8,792.09 L726.3,792.42 L727.8,792.74 L729.3,793.06 L730.8,793.38 L732.3,793.7 L733.8,794.02 L735.3,794.33 L736.8,794.65 L738.3,794.96 L739.8,795.27 L741.3,795.58 L742.8,795.89 L744.3,796.19 L745.8,796.5 L747.3,796.8 L748.8,797.1 L750.3,797.4 L751.8,797.7 L753.3,798 L754.8,798.29 L756.3,798.59 L757.8,798.88 L759.3,799.17 L760.8,799.46 L762.3,799.75 L763.8,800.04 L765.3,800.32 L766.8,800.61 L768.3,800.9 L769.8,801.18 L771.3,801.46 L772.8,801.75 L774.3,802.03 L775.8,802.31 L777.3,802.59 L778.8,802.87 L780.3,803.16 L781.8,803.43 L783.3,803.71 L784.8,803.99 L786.3,804.27 L787.8,804.55 L789.3,804.83 L790.8,805.11 L792.3,805.38 L793.8,805.66 L795.3,805.94 L796.8,806.21 L798.3,806.49 L799.8,806.77 L801.3,807.04 L802.8,807.32 L804.3,807.6 L805.8,807.87 L807.3,808.15 L808.8,808.42 L810.3,808.7 L811.8,808.98 L813.3,809.25 L814.8,809.53 L816.3,809.8 L817.8,810.08 L819.3,810.36 L820.8,810.63 L822.3,810.91 L823.8,811.19 L825.3,811.46 L826.8,811.74 L828.3,812.02 L829.8,812.29 L831.3,812.57 L832.8,812.85 L834.3,813.13 L835.8,813.4 L837.3,813.68 L838.8,813.96 L840.3,814.24 L841.8,814.52 L843.3,814.79 L844.8,815.07 L846.3,815.35 L847.8,815.63 L849.3,815.91 L850.8,816.18 L852.3,816.46 L853.8,816.74 L855.3,817.02 L856.8,817.29 L858.3,817.57 L859.8,817.85 L861.3,818.12 L862.8,818.4 L864.3,818.67 L865.8,818.95 L867.3,819.22 L868.8,819.49 L870.3,819.77 L871.8,820.04 L873.3,820.31 L874.8,820.58 L876.3,820.85 L877.8,821.12 L879.3,821.39 L880.8,821.66 L882.3,821.93 L883.8,822.19 L885.3,822.46 L886.8,822.72 L888.3,822.99 L889.8,823.25 L891.3,823.52 L892.8,823.78 L894.3,824.04 L895.8,824.3 L897.3,824.56 L898.8,824.82 L900.3,825.07 L901.8,825.33 L903.3,825.59 L904.8,825.84 L906.3,826.09 L907.8,826.35 L909.3,826.6 L910.8,826.85 L912.3,827.1 L913.8,827.35 L915.3,827.6 L916.8,827.84 L918.3,828.09 L919.8,828.33 L921.3,828.58 L922.8,828.82 L924.3,829.06 L925.8,829.3 L927.3,829.54 L928.8,829.78 L930.3,830.02 L931.8,830.25 L933.3,830.49 L934.8,830.72 L936.3,830.96 L937.8,831.19 L939.3,831.42 L940.8,831.65 L942.3,831.88 L943.8,832.11 L945.3,832.34 L946.8,832.56 L948.3,832.79 L949.8,833.01 L951.3,833.24 L952.8,833.46 L954.3,833.68 L955.8,833.9 L957.3,834.12 L958.8,834.34 L960.3,834.56 L961.8,834.78 L963.3,835 L964.8,835.21 L966.3,835.43 L967.8,835.64 L969.3,835.86 L970.8,836.07 L972.3,836.28 L973.8,836.49 L975.3,836.7 L976.8,836.91 L978.3,837.12 L979.8,837.33 L981.3,837.53 L982.8,837.74 L984.3,837.95 L985.8,838.15 L987.3,838.36 L988.8,838.56 L990.3,838.76 L991.8,838.96 L993.3,839.16 L994.8,839.36 L996.3,839.56 L997.8,839.76 L999.3,839.96 L1000.8,840.16 L1002.3,840.36 L1003.8,840.55 L1005.3,840.75 L1006.8,840.94 L1008.3,841.14 L1008.8,841.2" fill="none" stroke="#000" stroke-width="2.15" stroke-linejoin="round"/>
<path d="M597.3,755.8L603.4,762L597.3,768.2L591.2,762Z" fill="#000" stroke="#000" stroke-width="1.2" stroke-linejoin="round"/>
<path d="M622.7,762.3L628.8,768.5L622.7,774.7L616.6,768.5Z" fill="#000" stroke="#000" stroke-width="1.2" stroke-linejoin="round"/>
<path d="M665.9,772.1L672,778.3L665.9,784.5L659.8,778.3Z" fill="#000" stroke="#000" stroke-width="1.2" stroke-linejoin="round"/>
<path d="M751.3,791.4L757.4,797.6L751.3,803.8L745.2,797.6Z" fill="#000" stroke="#000" stroke-width="1.2" stroke-linejoin="round"/>
<path d="M837.4,807.5L843.5,813.7L837.4,819.9L831.3,813.7Z" fill="#000" stroke="#000" stroke-width="1.2" stroke-linejoin="round"/>
<path d="M923.3,822.7L929.4,828.9L923.3,835.1L917.2,828.9Z" fill="#000" stroke="#000" stroke-width="1.2" stroke-linejoin="round"/>
<path d="M1008.8,835L1014.9,841.2L1008.8,847.4L1002.7,841.2Z" fill="#000" stroke="#000" stroke-width="1.2" stroke-linejoin="round"/>
<path d="M597.3,718 L598.8,724.01 L600.3,729.54 L601.8,734.68 L603.3,739.47 L604.8,743.96 L606.3,748.18 L607.8,752.16 L609.3,755.93 L610.8,759.5 L612.3,762.91 L613.8,766.15 L615.3,769.25 L616.8,772.22 L618.3,775.07 L619.8,777.8 L621.3,780.43 L622.8,782.97 L624.3,785.41 L625.8,787.77 L627.3,790.06 L628.8,792.27 L630.3,794.41 L631.8,796.49 L633.3,798.51 L634.8,800.48 L636.3,802.39 L637.8,804.26 L639.3,806.07 L640.8,807.84 L642.3,809.57 L643.8,811.26 L645.3,812.91 L646.8,814.52 L648.3,816.1 L649.8,817.65 L651.3,819.16 L652.8,820.65 L654.3,822.1 L655.8,823.53 L657.3,824.93 L658.8,826.31 L660.3,827.66 L661.8,828.99 L663.3,830.29 L664.8,831.57 L666.3,832.83 L667.8,834.08 L669.3,835.3 L670.8,836.5 L672.3,837.68 L673.8,838.85 L675.3,840 L676.8,841.13 L678.3,842.24 L679.8,843.33 L681.3,844.42 L682.8,845.48 L684.3,846.53 L685.8,847.56 L687.3,848.58 L688.8,849.59 L690.3,850.58 L691.8,851.56 L693.3,852.52 L694.8,853.48 L696.3,854.41 L697.8,855.34 L699.3,856.26 L700.8,857.16 L702.3,858.05 L703.8,858.93 L705.3,859.8 L706.8,860.65 L708.3,861.5 L709.8,862.34 L711.3,863.16 L712.8,863.98 L714.3,864.78 L715.8,865.58 L717.3,866.37 L718.8,867.14 L720.3,867.91 L721.8,868.67 L723.3,869.42 L724.8,870.16 L726.3,870.9 L727.8,871.62 L729.3,872.34 L730.8,873.05 L732.3,873.75 L733.8,874.44 L735.3,875.13 L736.8,875.8 L738.3,876.48 L739.8,877.14 L741.3,877.8 L742.8,878.44 L744.3,879.09 L745.8,879.72 L747.3,880.35 L748.8,880.98 L750.3,881.59 L751.8,882.2 L753.3,882.81 L754.8,883.4 L756.3,884 L757.8,884.58 L759.3,885.16 L760.8,885.74 L762.3,886.31 L763.8,886.88 L765.3,887.44 L766.8,887.99 L768.3,888.54 L769.8,889.09 L771.3,889.63 L772.8,890.17 L774.3,890.7 L775.8,891.23 L777.3,891.75 L778.8,892.27 L780.3,892.79 L781.8,893.3 L783.3,893.81 L784.8,894.32 L786.3,894.82 L787.8,895.32 L789.3,895.82 L790.8,896.31 L792.3,896.8 L793.8,897.28 L795.3,897.76 L796.8,898.24 L798.3,898.72 L799.8,899.2 L801.3,899.67 L802.8,900.14 L804.3,900.6 L805.8,901.06 L807.3,901.52 L808.8,901.98 L810.3,902.44 L811.8,902.89 L813.3,903.34 L814.8,903.79 L816.3,904.24 L817.8,904.68 L819.3,905.12 L820.8,905.56 L822.3,906 L823.8,906.44 L825.3,906.87 L826.8,907.3 L828.3,907.73 L829.8,908.16 L831.3,908.59 L832.8,909.01 L834.3,909.43 L835.8,909.85 L837.3,910.27 L838.8,910.69 L840.3,911.11 L841.8,911.52 L843.3,911.93 L844.8,912.34 L846.3,912.75 L847.8,913.16 L849.3,913.56 L850.8,913.97 L852.3,914.37 L853.8,914.77 L855.3,915.17 L856.8,915.56 L858.3,915.96 L859.8,916.35 L861.3,916.74 L862.8,917.13 L864.3,917.52 L865.8,917.9 L867.3,918.29 L868.8,918.67 L870.3,919.05 L871.8,919.43 L873.3,919.8 L874.8,920.18 L876.3,920.55 L877.8,920.92 L879.3,921.29 L880.8,921.66 L882.3,922.02 L883.8,922.38 L885.3,922.75 L886.8,923.11 L888.3,923.46 L889.8,923.82 L891.3,924.17 L892.8,924.53 L894.3,924.88 L895.8,925.23 L897.3,925.57 L898.8,925.92 L900.3,926.26 L901.8,926.6 L903.3,926.94 L904.8,927.28 L906.3,927.62 L907.8,927.95 L909.3,928.28 L910.8,928.61 L912.3,928.94 L913.8,929.27 L915.3,929.6 L916.8,929.92 L918.3,930.24 L919.8,930.56 L921.3,930.88 L922.8,931.19 L924.3,931.51 L925.8,931.82 L927.3,932.13 L928.8,932.44 L930.3,932.75 L931.8,933.06 L933.3,933.36 L934.8,933.66 L936.3,933.97 L937.8,934.27 L939.3,934.56 L940.8,934.86 L942.3,935.16 L943.8,935.45 L945.3,935.74 L946.8,936.03 L948.3,936.32 L949.8,936.61 L951.3,936.9 L952.8,937.18 L954.3,937.47 L955.8,937.75 L957.3,938.03 L958.8,938.31 L960.3,938.59 L961.8,938.87 L963.3,939.14 L964.8,939.42 L966.3,939.69 L967.8,939.96 L969.3,940.24 L970.8,940.51 L972.3,940.77 L973.8,941.04 L975.3,941.31 L976.8,941.58 L978.3,941.84 L979.8,942.1 L981.3,942.37 L982.8,942.63 L984.3,942.89 L985.8,943.15 L987.3,943.4 L988.8,943.66 L990.3,943.92 L991.8,944.17 L993.3,944.43 L994.8,944.68 L996.3,944.93 L997.8,945.18 L999.3,945.43 L1000.8,945.68 L1002.3,945.93 L1003.8,946.18 L1005.3,946.43 L1006.8,946.67 L1008.3,946.92 L1008.8,947" fill="none" stroke="#000" stroke-width="2.15" stroke-linejoin="round"/>
<ellipse cx="597.3" cy="718" rx="5.6" ry="5.6" fill="#000"/>
<ellipse cx="622.7" cy="782.8" rx="5.6" ry="5.6" fill="#000"/>
<ellipse cx="665.9" cy="832.5" rx="5.6" ry="5.6" fill="#000"/>
<ellipse cx="751.3" cy="882" rx="5.6" ry="5.6" fill="#000"/>
<ellipse cx="837.4" cy="910.3" rx="5.6" ry="5.6" fill="#000"/>
<ellipse cx="923.3" cy="931.3" rx="5.6" ry="5.6" fill="#000"/>
<ellipse cx="1008.8" cy="947" rx="5.6" ry="5.6" fill="#000"/>
<path d="M597.3,783.5 L598.8,785.37 L600.3,787.11 L601.8,788.76 L603.3,790.34 L604.8,791.86 L606.3,793.34 L607.8,794.79 L609.3,796.21 L610.8,797.61 L612.3,799 L613.8,800.36 L615.3,801.72 L616.8,803.07 L618.3,804.41 L619.8,805.74 L621.3,807.07 L622.8,808.39 L624.3,809.7 L625.8,811.01 L627.3,812.31 L628.8,813.6 L630.3,814.88 L631.8,816.15 L633.3,817.41 L634.8,818.66 L636.3,819.9 L637.8,821.12 L639.3,822.33 L640.8,823.53 L642.3,824.72 L643.8,825.89 L645.3,827.05 L646.8,828.2 L648.3,829.34 L649.8,830.47 L651.3,831.58 L652.8,832.68 L654.3,833.77 L655.8,834.84 L657.3,835.91 L658.8,836.96 L660.3,838.01 L661.8,839.04 L663.3,840.06 L664.8,841.07 L666.3,842.07 L667.8,843.05 L669.3,844.03 L670.8,845 L672.3,845.96 L673.8,846.9 L675.3,847.84 L676.8,848.77 L678.3,849.69 L679.8,850.59 L681.3,851.49 L682.8,852.38 L684.3,853.26 L685.8,854.13 L687.3,855 L688.8,855.85 L690.3,856.69 L691.8,857.53 L693.3,858.36 L694.8,859.18 L696.3,859.99 L697.8,860.79 L699.3,861.59 L700.8,862.37 L702.3,863.15 L703.8,863.93 L705.3,864.69 L706.8,865.45 L708.3,866.2 L709.8,866.94 L711.3,867.67 L712.8,868.4 L714.3,869.12 L715.8,869.84 L717.3,870.55 L718.8,871.25 L720.3,871.94 L721.8,872.63 L723.3,873.32 L724.8,873.99 L726.3,874.66 L727.8,875.33 L729.3,875.98 L730.8,876.64 L732.3,877.28 L733.8,877.92 L735.3,878.56 L736.8,879.19 L738.3,879.81 L739.8,880.43 L741.3,881.04 L742.8,881.65 L744.3,882.25 L745.8,882.85 L747.3,883.44 L748.8,884.03 L750.3,884.61 L751.8,885.19 L753.3,885.77 L754.8,886.33 L756.3,886.9 L757.8,887.46 L759.3,888.01 L760.8,888.56 L762.3,889.11 L763.8,889.65 L765.3,890.19 L766.8,890.72 L768.3,891.25 L769.8,891.78 L771.3,892.3 L772.8,892.82 L774.3,893.33 L775.8,893.84 L777.3,894.35 L778.8,894.85 L780.3,895.35 L781.8,895.85 L783.3,896.34 L784.8,896.83 L786.3,897.32 L787.8,897.8 L789.3,898.28 L790.8,898.76 L792.3,899.23 L793.8,899.7 L795.3,900.17 L796.8,900.63 L798.3,901.09 L799.8,901.55 L801.3,902.01 L802.8,902.46 L804.3,902.91 L805.8,903.36 L807.3,903.8 L808.8,904.24 L810.3,904.68 L811.8,905.12 L813.3,905.55 L814.8,905.98 L816.3,906.41 L817.8,906.84 L819.3,907.26 L820.8,907.69 L822.3,908.11 L823.8,908.52 L825.3,908.94 L826.8,909.35 L828.3,909.76 L829.8,910.17 L831.3,910.57 L832.8,910.98 L834.3,911.38 L835.8,911.78 L837.3,912.17 L838.8,912.57 L840.3,912.96 L841.8,913.35 L843.3,913.74 L844.8,914.13 L846.3,914.51 L847.8,914.9 L849.3,915.28 L850.8,915.66 L852.3,916.03 L853.8,916.41 L855.3,916.78 L856.8,917.15 L858.3,917.52 L859.8,917.89 L861.3,918.26 L862.8,918.62 L864.3,918.98 L865.8,919.34 L867.3,919.7 L868.8,920.06 L870.3,920.42 L871.8,920.77 L873.3,921.12 L874.8,921.47 L876.3,921.82 L877.8,922.17 L879.3,922.52 L880.8,922.86 L882.3,923.2 L883.8,923.54 L885.3,923.88 L886.8,924.22 L888.3,924.56 L889.8,924.89 L891.3,925.23 L892.8,925.56 L894.3,925.89 L895.8,926.22 L897.3,926.54 L898.8,926.87 L900.3,927.19 L901.8,927.52 L903.3,927.84 L904.8,928.16 L906.3,928.48 L907.8,928.8 L909.3,929.11 L910.8,929.43 L912.3,929.74 L913.8,930.05 L915.3,930.36 L916.8,930.67 L918.3,930.98 L919.8,931.29 L921.3,931.59 L922.8,931.9 L924.3,932.2 L925.8,932.5 L927.3,932.8 L928.8,933.1 L930.3,933.4 L931.8,933.7 L933.3,933.99 L934.8,934.29 L936.3,934.58 L937.8,934.88 L939.3,935.17 L940.8,935.46 L942.3,935.74 L943.8,936.03 L945.3,936.32 L946.8,936.6 L948.3,936.89 L949.8,937.17 L951.3,937.45 L952.8,937.73 L954.3,938.01 L955.8,938.29 L957.3,938.57 L958.8,938.85 L960.3,939.12 L961.8,939.4 L963.3,939.67 L964.8,939.94 L966.3,940.21 L967.8,940.48 L969.3,940.75 L970.8,941.02 L972.3,941.29 L973.8,941.56 L975.3,941.82 L976.8,942.09 L978.3,942.35 L979.8,942.61 L981.3,942.87 L982.8,943.13 L984.3,943.39 L985.8,943.65 L987.3,943.91 L988.8,944.16 L990.3,944.42 L991.8,944.68 L993.3,944.93 L994.8,945.18 L996.3,945.43 L997.8,945.69 L999.3,945.94 L1000.8,946.18 L1002.3,946.43 L1003.8,946.68 L1005.3,946.93 L1006.8,947.17 L1008.3,947.42 L1008.8,947.5" fill="none" stroke="#000" stroke-width="2.15" stroke-linejoin="round"/>
<ellipse cx="597.3" cy="783.5" rx="5.6" ry="5.6" fill="#000"/>
<ellipse cx="622.7" cy="808.3" rx="5.6" ry="5.6" fill="#000"/>
<ellipse cx="665.9" cy="841.8" rx="5.6" ry="5.6" fill="#000"/>
<ellipse cx="751.3" cy="885" rx="5.6" ry="5.6" fill="#000"/>
<ellipse cx="837.4" cy="912.2" rx="5.6" ry="5.6" fill="#000"/>
<ellipse cx="923.3" cy="932" rx="5.6" ry="5.6" fill="#000"/>
<ellipse cx="1008.8" cy="947.5" rx="5.6" ry="5.6" fill="#000"/>
<path d="M597.3,803.2 L598.8,804.52 L600.3,805.76 L601.8,806.93 L603.3,808.06 L604.8,809.15 L606.3,810.21 L607.8,811.25 L609.3,812.27 L610.8,813.29 L612.3,814.29 L613.8,815.28 L615.3,816.27 L616.8,817.26 L618.3,818.24 L619.8,819.22 L621.3,820.19 L622.8,821.16 L624.3,822.14 L625.8,823.1 L627.3,824.07 L628.8,825.03 L630.3,825.99 L631.8,826.95 L633.3,827.9 L634.8,828.85 L636.3,829.8 L637.8,830.74 L639.3,831.67 L640.8,832.61 L642.3,833.54 L643.8,834.46 L645.3,835.38 L646.8,836.3 L648.3,837.21 L649.8,838.12 L651.3,839.02 L652.8,839.92 L654.3,840.82 L655.8,841.71 L657.3,842.6 L658.8,843.48 L660.3,844.36 L661.8,845.23 L663.3,846.1 L664.8,846.97 L666.3,847.83 L667.8,848.69 L669.3,849.54 L670.8,850.39 L672.3,851.23 L673.8,852.07 L675.3,852.9 L676.8,853.73 L678.3,854.55 L679.8,855.37 L681.3,856.18 L682.8,856.99 L684.3,857.79 L685.8,858.59 L687.3,859.37 L688.8,860.16 L690.3,860.94 L691.8,861.71 L693.3,862.47 L694.8,863.23 L696.3,863.99 L697.8,864.74 L699.3,865.48 L700.8,866.22 L702.3,866.95 L703.8,867.67 L705.3,868.39 L706.8,869.11 L708.3,869.81 L709.8,870.52 L711.3,871.21 L712.8,871.91 L714.3,872.59 L715.8,873.27 L717.3,873.95 L718.8,874.62 L720.3,875.28 L721.8,875.94 L723.3,876.6 L724.8,877.24 L726.3,877.89 L727.8,878.53 L729.3,879.16 L730.8,879.79 L732.3,880.41 L733.8,881.03 L735.3,881.64 L736.8,882.25 L738.3,882.86 L739.8,883.46 L741.3,884.05 L742.8,884.64 L744.3,885.23 L745.8,885.81 L747.3,886.38 L748.8,886.96 L750.3,887.52 L751.8,888.09 L753.3,888.65 L754.8,889.2 L756.3,889.75 L757.8,890.3 L759.3,890.84 L760.8,891.38 L762.3,891.91 L763.8,892.44 L765.3,892.97 L766.8,893.49 L768.3,894.01 L769.8,894.52 L771.3,895.03 L772.8,895.54 L774.3,896.04 L775.8,896.54 L777.3,897.03 L778.8,897.52 L780.3,898.01 L781.8,898.49 L783.3,898.98 L784.8,899.45 L786.3,899.93 L787.8,900.4 L789.3,900.86 L790.8,901.33 L792.3,901.79 L793.8,902.24 L795.3,902.7 L796.8,903.15 L798.3,903.59 L799.8,904.04 L801.3,904.48 L802.8,904.91 L804.3,905.35 L805.8,905.78 L807.3,906.21 L808.8,906.63 L810.3,907.06 L811.8,907.47 L813.3,907.89 L814.8,908.3 L816.3,908.71 L817.8,909.12 L819.3,909.53 L820.8,909.93 L822.3,910.33 L823.8,910.73 L825.3,911.12 L826.8,911.51 L828.3,911.9 L829.8,912.28 L831.3,912.67 L832.8,913.05 L834.3,913.43 L835.8,913.8 L837.3,914.18 L838.8,914.55 L840.3,914.91 L841.8,915.28 L843.3,915.64 L844.8,916 L846.3,916.36 L847.8,916.72 L849.3,917.07 L850.8,917.43 L852.3,917.78 L853.8,918.13 L855.3,918.47 L856.8,918.82 L858.3,919.16 L859.8,919.5 L861.3,919.84 L862.8,920.18 L864.3,920.51 L865.8,920.85 L867.3,921.18 L868.8,921.51 L870.3,921.84 L871.8,922.17 L873.3,922.49 L874.8,922.82 L876.3,923.14 L877.8,923.46 L879.3,923.78 L880.8,924.1 L882.3,924.42 L883.8,924.74 L885.3,925.05 L886.8,925.37 L888.3,925.68 L889.8,925.99 L891.3,926.3 L892.8,926.61 L894.3,926.92 L895.8,927.23 L897.3,927.53 L898.8,927.84 L900.3,928.14 L901.8,928.45 L903.3,928.75 L904.8,929.05 L906.3,929.35 L907.8,929.65 L909.3,929.95 L910.8,930.25 L912.3,930.55 L913.8,930.84 L915.3,931.14 L916.8,931.43 L918.3,931.73 L919.8,932.02 L921.3,932.31 L922.8,932.6 L924.3,932.89 L925.8,933.18 L927.3,933.47 L928.8,933.76 L930.3,934.05 L931.8,934.34 L933.3,934.62 L934.8,934.91 L936.3,935.2 L937.8,935.48 L939.3,935.76 L940.8,936.05 L942.3,936.33 L943.8,936.61 L945.3,936.89 L946.8,937.17 L948.3,937.45 L949.8,937.73 L951.3,938 L952.8,938.28 L954.3,938.55 L955.8,938.83 L957.3,939.1 L958.8,939.38 L960.3,939.65 L961.8,939.92 L963.3,940.19 L964.8,940.46 L966.3,940.73 L967.8,941 L969.3,941.27 L970.8,941.53 L972.3,941.8 L973.8,942.06 L975.3,942.33 L976.8,942.59 L978.3,942.85 L979.8,943.11 L981.3,943.37 L982.8,943.63 L984.3,943.89 L985.8,944.15 L987.3,944.41 L988.8,944.66 L990.3,944.92 L991.8,945.17 L993.3,945.43 L994.8,945.68 L996.3,945.93 L997.8,946.18 L999.3,946.43 L1000.8,946.68 L1002.3,946.93 L1003.8,947.18 L1005.3,947.43 L1006.8,947.67 L1008.3,947.92 L1008.8,948" fill="none" stroke="#000" stroke-width="2.15" stroke-linejoin="round"/>
<ellipse cx="597.3" cy="803.2" rx="5.6" ry="5.6" fill="#000"/>
<ellipse cx="622.7" cy="821.1" rx="5.6" ry="5.6" fill="#000"/>
<ellipse cx="665.9" cy="847.6" rx="5.6" ry="5.6" fill="#000"/>
<ellipse cx="751.3" cy="887.9" rx="5.6" ry="5.6" fill="#000"/>
<ellipse cx="837.4" cy="914.2" rx="5.6" ry="5.6" fill="#000"/>
<ellipse cx="923.3" cy="932.7" rx="5.6" ry="5.6" fill="#000"/>
<ellipse cx="1008.8" cy="948" rx="5.6" ry="5.6" fill="#000"/>
<path d="M597.3,824 L598.8,825.04 L600.3,826.01 L601.8,826.92 L603.3,827.8 L604.8,828.64 L606.3,829.46 L607.8,830.25 L609.3,831.03 L610.8,831.8 L612.3,832.56 L613.8,833.3 L615.3,834.04 L616.8,834.77 L618.3,835.5 L619.8,836.22 L621.3,836.94 L622.8,837.65 L624.3,838.36 L625.8,839.06 L627.3,839.76 L628.8,840.47 L630.3,841.16 L631.8,841.86 L633.3,842.56 L634.8,843.26 L636.3,843.95 L637.8,844.65 L639.3,845.34 L640.8,846.04 L642.3,846.73 L643.8,847.42 L645.3,848.12 L646.8,848.81 L648.3,849.5 L649.8,850.19 L651.3,850.88 L652.8,851.58 L654.3,852.27 L655.8,852.96 L657.3,853.65 L658.8,854.34 L660.3,855.03 L661.8,855.72 L663.3,856.41 L664.8,857.1 L666.3,857.78 L667.8,858.47 L669.3,859.16 L670.8,859.84 L672.3,860.53 L673.8,861.21 L675.3,861.89 L676.8,862.56 L678.3,863.24 L679.8,863.91 L681.3,864.58 L682.8,865.25 L684.3,865.91 L685.8,866.57 L687.3,867.23 L688.8,867.88 L690.3,868.53 L691.8,869.18 L693.3,869.82 L694.8,870.46 L696.3,871.09 L697.8,871.73 L699.3,872.36 L700.8,872.98 L702.3,873.6 L703.8,874.22 L705.3,874.83 L706.8,875.44 L708.3,876.05 L709.8,876.65 L711.3,877.24 L712.8,877.84 L714.3,878.43 L715.8,879.01 L717.3,879.6 L718.8,880.18 L720.3,880.75 L721.8,881.32 L723.3,881.89 L724.8,882.45 L726.3,883.01 L727.8,883.57 L729.3,884.12 L730.8,884.67 L732.3,885.21 L733.8,885.75 L735.3,886.29 L736.8,886.82 L738.3,887.35 L739.8,887.88 L741.3,888.4 L742.8,888.92 L744.3,889.44 L745.8,889.95 L747.3,890.46 L748.8,890.96 L750.3,891.47 L751.8,891.97 L753.3,892.46 L754.8,892.95 L756.3,893.44 L757.8,893.93 L759.3,894.41 L760.8,894.89 L762.3,895.37 L763.8,895.84 L765.3,896.31 L766.8,896.77 L768.3,897.24 L769.8,897.7 L771.3,898.16 L772.8,898.61 L774.3,899.06 L775.8,899.51 L777.3,899.96 L778.8,900.4 L780.3,900.84 L781.8,901.28 L783.3,901.71 L784.8,902.14 L786.3,902.57 L787.8,903 L789.3,903.42 L790.8,903.84 L792.3,904.26 L793.8,904.68 L795.3,905.09 L796.8,905.5 L798.3,905.91 L799.8,906.31 L801.3,906.71 L802.8,907.11 L804.3,907.51 L805.8,907.91 L807.3,908.3 L808.8,908.69 L810.3,909.08 L811.8,909.46 L813.3,909.85 L814.8,910.23 L816.3,910.61 L817.8,910.98 L819.3,911.36 L820.8,911.73 L822.3,912.1 L823.8,912.47 L825.3,912.83 L826.8,913.19 L828.3,913.56 L829.8,913.91 L831.3,914.27 L832.8,914.63 L834.3,914.98 L835.8,915.33 L837.3,915.68 L838.8,916.02 L840.3,916.37 L841.8,916.71 L843.3,917.05 L844.8,917.39 L846.3,917.73 L847.8,918.06 L849.3,918.4 L850.8,918.73 L852.3,919.06 L853.8,919.39 L855.3,919.71 L856.8,920.04 L858.3,920.36 L859.8,920.69 L861.3,921.01 L862.8,921.33 L864.3,921.65 L865.8,921.97 L867.3,922.28 L868.8,922.6 L870.3,922.91 L871.8,923.23 L873.3,923.54 L874.8,923.85 L876.3,924.16 L877.8,924.47 L879.3,924.78 L880.8,925.09 L882.3,925.39 L883.8,925.7 L885.3,926 L886.8,926.31 L888.3,926.61 L889.8,926.91 L891.3,927.21 L892.8,927.51 L894.3,927.81 L895.8,928.11 L897.3,928.41 L898.8,928.71 L900.3,929.01 L901.8,929.3 L903.3,929.6 L904.8,929.9 L906.3,930.19 L907.8,930.49 L909.3,930.78 L910.8,931.07 L912.3,931.37 L913.8,931.66 L915.3,931.95 L916.8,932.24 L918.3,932.53 L919.8,932.82 L921.3,933.11 L922.8,933.4 L924.3,933.69 L925.8,933.98 L927.3,934.27 L928.8,934.56 L930.3,934.85 L931.8,935.13 L933.3,935.42 L934.8,935.71 L936.3,935.99 L937.8,936.28 L939.3,936.56 L940.8,936.85 L942.3,937.13 L943.8,937.41 L945.3,937.7 L946.8,937.98 L948.3,938.26 L949.8,938.54 L951.3,938.82 L952.8,939.1 L954.3,939.38 L955.8,939.66 L957.3,939.94 L958.8,940.21 L960.3,940.49 L961.8,940.76 L963.3,941.04 L964.8,941.31 L966.3,941.59 L967.8,941.86 L969.3,942.13 L970.8,942.4 L972.3,942.67 L973.8,942.94 L975.3,943.21 L976.8,943.48 L978.3,943.74 L979.8,944.01 L981.3,944.28 L982.8,944.54 L984.3,944.81 L985.8,945.07 L987.3,945.33 L988.8,945.59 L990.3,945.85 L991.8,946.11 L993.3,946.37 L994.8,946.63 L996.3,946.89 L997.8,947.14 L999.3,947.4 L1000.8,947.66 L1002.3,947.91 L1003.8,948.16 L1005.3,948.41 L1006.8,948.67 L1008.3,948.92 L1008.8,949" fill="none" stroke="#000" stroke-width="2.15" stroke-linejoin="round"/>
<ellipse cx="597.3" cy="824" rx="5.6" ry="5.6" fill="#000"/>
<ellipse cx="622.7" cy="837.6" rx="5.6" ry="5.6" fill="#000"/>
<ellipse cx="665.9" cy="857.6" rx="5.6" ry="5.6" fill="#000"/>
<ellipse cx="751.3" cy="891.8" rx="5.6" ry="5.6" fill="#000"/>
<ellipse cx="837.4" cy="915.7" rx="5.6" ry="5.6" fill="#000"/>
<ellipse cx="923.3" cy="933.5" rx="5.6" ry="5.6" fill="#000"/>
<ellipse cx="1008.8" cy="949" rx="5.6" ry="5.6" fill="#000"/>
<text x="152.43" y="510" font-size="23.2" textLength="51" lengthAdjust="spacingAndGlyphs">Initial</text>
<text x="214.6" y="510" font-size="23.2" textLength="101.88" lengthAdjust="spacingAndGlyphs">acetonitrile</text>
<text x="328.75" y="510" font-size="23.2" textLength="33.75" lengthAdjust="spacingAndGlyphs">(%,</text>
<text x="369.8" y="510" font-size="23.2" textLength="35.16" lengthAdjust="spacingAndGlyphs">v/v)</text>
<text x="673.03" y="511.2" font-size="23.2" textLength="51" lengthAdjust="spacingAndGlyphs">Initial</text>
<text x="735.81" y="511.2" font-size="23.2" textLength="100.97" lengthAdjust="spacingAndGlyphs">acetonitrile</text>
<text x="849.24" y="511.2" font-size="23.2" textLength="34.29" lengthAdjust="spacingAndGlyphs">(%,</text>
<text x="890.3" y="511.2" font-size="23.2" textLength="34.85" lengthAdjust="spacingAndGlyphs">v/v)</text>
<text x="148.73" y="1034.4" font-size="23.2" textLength="51.1" lengthAdjust="spacingAndGlyphs">Initial</text>
<text x="212.34" y="1034.4" font-size="23.2" textLength="39.46" lengthAdjust="spacingAndGlyphs">flow</text>
<text x="263.35" y="1034.4" font-size="23.2" textLength="34.04" lengthAdjust="spacingAndGlyphs">rate</text>
<text x="304.12" y="1034.4" font-size="23.2" textLength="86.45" lengthAdjust="spacingAndGlyphs">(mL/min)</text>
<text x="665.04" y="1034.9" font-size="23.2" textLength="50.08" lengthAdjust="spacingAndGlyphs">Initial</text>
<text x="727.95" y="1034.9" font-size="23.2" textLength="38.85" lengthAdjust="spacingAndGlyphs">flow</text>
<text x="778.64" y="1034.9" font-size="23.2" textLength="34.35" lengthAdjust="spacingAndGlyphs">rate</text>
<text x="819.82" y="1034.9" font-size="23.2" textLength="86.76" lengthAdjust="spacingAndGlyphs">(mL/min)</text>
<text transform="translate(22.9,320.44) rotate(-90)" x="0" y="0" font-size="24.8" textLength="17.02" lengthAdjust="spacingAndGlyphs">ln</text>
<text transform="translate(22.9,297.25) rotate(-90)" x="0" y="0" font-size="24.8" textLength="96.4" lengthAdjust="spacingAndGlyphs">(Retention</text>
<text transform="translate(22.9,189.1) rotate(-90)" x="0" y="0" font-size="24.8" textLength="60.5" lengthAdjust="spacingAndGlyphs">factor)</text>
<text transform="translate(541.1,316.02) rotate(-90)" x="0" y="0" font-size="24.8" textLength="16.34" lengthAdjust="spacingAndGlyphs">ln</text>
<text transform="translate(541.1,293.51) rotate(-90)" x="0" y="0" font-size="24.8" textLength="96.96" lengthAdjust="spacingAndGlyphs">(Retention</text>
<text transform="translate(541.1,185.29) rotate(-90)" x="0" y="0" font-size="24.8" textLength="59.98" lengthAdjust="spacingAndGlyphs">factor)</text>
<text transform="translate(17.8,831.99) rotate(-90)" x="0" y="0" font-size="24.8" textLength="14.98" lengthAdjust="spacingAndGlyphs">ln</text>
<text transform="translate(17.8,809.1) rotate(-90)" x="0" y="0" font-size="24.8" textLength="95.69" lengthAdjust="spacingAndGlyphs">(Retention</text>
<text transform="translate(17.8,699.6) rotate(-90)" x="0" y="0" font-size="24.8" textLength="43.61" lengthAdjust="spacingAndGlyphs">time)</text>
<text transform="translate(532.9,828.5) rotate(-90)" x="0" y="0" font-size="24.8" textLength="15.71" lengthAdjust="spacingAndGlyphs">ln</text>
<text transform="translate(532.9,805.6) rotate(-90)" x="0" y="0" font-size="24.8" textLength="95.74" lengthAdjust="spacingAndGlyphs">(Retention</text>
<text transform="translate(532.9,697.91) rotate(-90)" x="0" y="0" font-size="24.8" textLength="44.53" lengthAdjust="spacingAndGlyphs">time)</text>
<text x="432.66" y="36.3" font-size="25.5" textLength="28.89" lengthAdjust="spacingAndGlyphs">(a)</text>
<text x="937.29" y="36.3" font-size="25.5" textLength="30.52" lengthAdjust="spacingAndGlyphs">(c)</text>
<text x="430.54" y="550.2" font-size="25.5" textLength="30.72" lengthAdjust="spacingAndGlyphs">(b)</text>
<text x="940.83" y="550.2" font-size="25.5" textLength="31.04" lengthAdjust="spacingAndGlyphs">(d)</text>
</svg>
</body></html>
